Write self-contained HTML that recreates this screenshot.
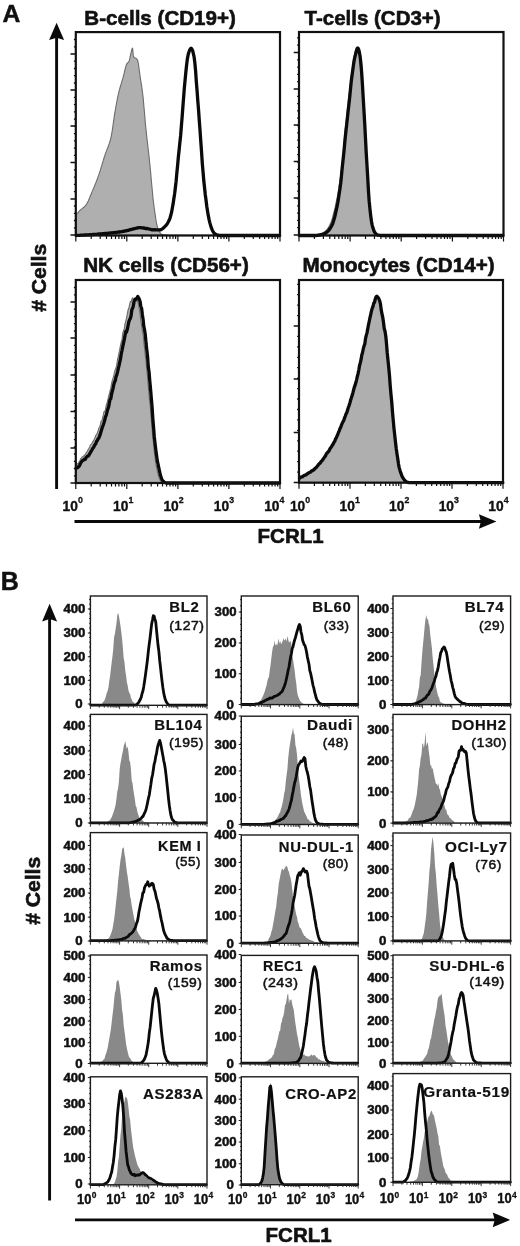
<!DOCTYPE html>
<html lang="en"><head><meta charset="utf-8"><title>FCRL1 expression on lymphocyte subsets and B-cell lines</title>
<style>html,body{margin:0;padding:0;background:#fff}svg{display:block}svg text{font-family:'Liberation Sans', Arial, Helvetica, sans-serif}</style>
</head><body>
<svg width="520" height="1246" viewBox="0 0 520 1246" role="img" aria-label="Flow cytometry histograms of FCRL1 expression">
<rect width="520" height="1246" fill="#fff"/>
<g id="partA">
<text x="2.6" y="22.3" font-size="24.7" font-weight="bold" text-anchor="start" fill="#111" stroke="#111" stroke-width="0.5" stroke-linejoin="round">A</text>
<text x="84.3" y="25" font-size="20.5" font-weight="bold" text-anchor="start" fill="#111" textLength="151.6" lengthAdjust="spacingAndGlyphs" stroke="#111" stroke-width="0.6" stroke-linejoin="round">B-cells (CD19+)</text>
<text x="304.6" y="25" font-size="20.5" font-weight="bold" text-anchor="start" fill="#111" textLength="136" lengthAdjust="spacingAndGlyphs" stroke="#111" stroke-width="0.6" stroke-linejoin="round">T-cells (CD3+)</text>
<text x="83.2" y="271.5" font-size="20.5" font-weight="bold" text-anchor="start" fill="#111" textLength="165.6" lengthAdjust="spacingAndGlyphs" stroke="#111" stroke-width="0.6" stroke-linejoin="round">NK cells (CD56+)</text>
<text x="302.6" y="271.5" font-size="20.5" font-weight="bold" text-anchor="start" fill="#111" textLength="192" lengthAdjust="spacingAndGlyphs" stroke="#111" stroke-width="0.6" stroke-linejoin="round">Monocytes (CD14+)</text>
<path d="M76.3 235.2L76.3 214.7L77 213.8L77.8 212.9L78.5 212.1L79.3 211.2L80 210.4L80.8 209.7L81.5 209.1L82.3 208.5L83 207.9L83.8 207.3L84.5 206.6L85.3 205.8L86 204.9L86.8 203.8L87.5 202.4L88.3 200.9L89 199.2L89.8 197.4L90.5 195.5L91.3 193.7L92 191.9L92.8 190.1L93.5 188.4L94.3 186.6L95 184.7L95.8 182.9L96.5 180.9L97.3 179L98 176.9L98.8 174.9L99.5 172.7L100.3 170.3L101 167.9L101.8 165.4L102.5 162.9L103.3 160.4L104 158L104.8 155.6L105.5 153.4L106.3 151.4L107 149.4L107.8 147.6L108.5 145.6L109.3 143.4L110 141.1L110.8 138.3L111.5 134.9L112.3 130.4L113 125.2L113.8 119.8L114.5 114.7L115.3 110.3L116 106L116.8 101.9L117.5 98L118.3 94.4L119 91.3L119.8 88.5L120.5 86L121.3 83.6L122 81.2L122.8 78.7L123.5 75.9L124.3 72.7L125 69.5L125.8 66.6L126.5 64.4L127.3 63.1L128.1 62.5L128.8 61.8L129.6 59.6L130.3 55.9L131.1 52.6L131.8 49.4L132.6 48.1L133.3 55.9L134.1 57.4L134.8 57.7L135.6 58L136.3 58.6L137.1 59.3L137.8 60.8L138.6 65L139.3 70.8L140.1 76.3L140.8 81L141.6 85.7L142.3 90.9L143.1 97.4L143.8 105.4L144.6 114L145.3 122.7L146.1 130.5L146.8 137.4L147.6 143.8L148.3 150.2L149.1 156.8L149.8 163.9L150.6 171.9L151.3 180.2L152.1 188.5L152.8 196.3L153.6 203.1L154.3 208.7L155.1 214.2L155.8 219.2L156.6 223.5L157.3 226.6L158.1 228.6L158.8 230.3L159.6 231.9L160.3 233.1L161.1 234L161.8 234.4L162.6 234.6L163.3 234.7L164.1 234.8L164.8 234.9L165.6 235L166.3 235.1L167.1 235.1L167.8 235.1L168.6 235.2L169.3 235.2L170.1 235.2L170.8 235.2L171.6 235.2L172.3 235.2L173.1 235.2L173.8 235.2L174.6 235.2L175.3 235.2L176.1 235.2L176.8 235.2L177.6 235.2L178.3 235.2L179.1 235.2L179.8 235.2L180.6 235.2L181.3 235.2L182.1 235.2L182.8 235.2L183.6 235.2L184.3 235.2L185.1 235.2L185.8 235.2L186.6 235.2L187.3 235.2L188.1 235.2L188.8 235.2L189.6 235.2L190.3 235.2L191.1 235.2L191.8 235.2L192.6 235.2L193.3 235.2L194.1 235.2L194.8 235.2L195.6 235.2L196.3 235.2L197.1 235.2L197.8 235.2L198.6 235.2L199.3 235.2L200.1 235.2L200.8 235.2L201.6 235.2L202.3 235.2L203.1 235.2L203.8 235.2L204.6 235.2L205.3 235.2L206.1 235.2L206.8 235.2L207.6 235.2L208.3 235.2L209.1 235.2L209.8 235.2L210.6 235.2L211.3 235.2L212.1 235.2L212.8 235.2L213.6 235.2L214.3 235.2L215.1 235.2L215.8 235.2L216.6 235.2L217.3 235.2L218.1 235.2L218.8 235.2L219.6 235.2L220.3 235.2L221.1 235.2L221.8 235.2L222.6 235.2L223.3 235.2L224.1 235.2L224.8 235.2L225.6 235.2L226.3 235.2L227.1 235.2L227.8 235.2L228.6 235.2L229.3 235.2L230.1 235.2L230.8 235.2L231.6 235.2L232.3 235.2L233.1 235.2L233.8 235.2L234.6 235.2L235.3 235.2L236.1 235.2L236.8 235.2L237.6 235.2L238.3 235.2L239.1 235.2L239.8 235.2L240.6 235.2L241.3 235.2L242.1 235.2L242.8 235.2L243.6 235.2L244.3 235.2L245.1 235.2L245.8 235.2L246.6 235.2L247.3 235.2L248.1 235.2L248.8 235.2L249.6 235.2L250.3 235.2L251.1 235.2L251.8 235.2L252.6 235.2L253.3 235.2L254.1 235.2L254.8 235.2L255.6 235.2L256.3 235.2L257.1 235.2L257.8 235.2L258.6 235.2L259.3 235.2L260.1 235.2L260.8 235.2L261.6 235.2L262.3 235.2L263.1 235.2L263.8 235.2L264.6 235.2L265.3 235.2L266.1 235.2L266.8 235.2L267.6 235.2L268.3 235.2L269.1 235.2L269.8 235.2L270.6 235.2L271.3 235.2L272.1 235.2L272.8 235.2L273.6 235.2L274.3 235.2L275.1 235.2L275.8 235.2L276.6 235.2L277.3 235.2L278.1 235.2L278.8 235.2L279.6 235.2L279.6 235.2Z" fill="#afafaf" stroke="#6c6c6c" stroke-width="1.1" stroke-linejoin="round"/>
<path d="M76.3 235.5L77 235.4L77.8 235.4L78.5 235.4L79.3 235.3L80 235.3L80.8 235.2L81.5 235.2L82.3 235.2L83 235.1L83.8 235.1L84.5 235L85.3 235L86 234.9L86.8 234.9L87.5 234.9L88.3 234.8L89 234.8L89.8 234.7L90.5 234.6L91.3 234.6L92 234.6L92.8 234.5L93.5 234.5L94.3 234.4L95 234.3L95.8 234.3L96.5 234.3L97.3 234.2L98 234.1L98.8 234L99.5 234L100.3 233.9L101 233.9L101.8 233.8L102.5 233.7L103.3 233.6L104 233.6L104.8 233.5L105.5 233.5L106.3 233.4L107 233.4L107.8 233.3L108.5 233.1L109.3 233.2L110 233L110.8 232.9L111.5 232.9L112.3 232.8L113 232.7L113.8 232.6L114.5 232.6L115.3 232.5L116 232.4L116.8 232.3L117.5 232.2L118.3 232.1L119 231.9L119.8 232L120.5 231.8L121.3 231.7L122 231.6L122.8 231.3L123.5 231.4L124.3 231.1L125 231L125.8 230.7L126.5 230.8L127.3 230.4L128.1 230.3L128.8 230.1L129.6 229.9L130.3 229.6L131.1 229.5L131.8 229.3L132.6 229.1L133.3 228.8L134.1 228.9L134.8 228.5L135.6 228.3L136.3 228.2L137.1 228L137.8 227.9L138.6 227.7L139.3 227.7L140.1 227.7L140.8 227.7L141.6 227.8L142.3 227.8L143.1 228L143.8 227.9L144.6 228.2L145.3 228.5L146.1 228.4L146.8 228.5L147.6 228.6L148.3 228.8L149.1 229L149.8 229.2L150.6 229.4L151.3 229.6L152.1 229.8L152.8 229.7L153.6 229.8L154.3 229.9L155.1 229.7L155.8 229.8L156.6 229.8L157.3 229.9L158.1 229.8L158.8 229.8L159.6 229.9L160.3 229.9L161.1 229.6L161.8 229.2L162.6 228.7L163.3 228.2L164.1 227.4L164.8 226.7L165.6 225.9L166.3 225L167.1 224L167.8 222.8L168.6 221.3L169.3 219.8L170.1 217.8L170.8 215.3L171.6 212.2L172.3 208.3L173.1 203.9L173.8 199.1L174.6 193.9L175.3 188.2L176.1 181.4L176.8 173.4L177.6 165.5L178.3 157.5L179.1 150.2L179.8 143.2L180.6 135.9L181.3 127.1L182.1 117.4L182.8 107.8L183.6 97.7L184.3 88.3L185.1 79.8L185.8 72.7L186.6 65L187.3 59.4L188.1 55L188.8 52.5L189.6 50.2L190.3 49L191.1 48.2L191.8 48.9L192.6 50.5L193.3 53.4L194.1 57L194.8 62.4L195.6 70.9L196.3 81.4L197.1 91.2L197.8 100.8L198.6 110.6L199.3 120.9L200.1 131.4L200.8 141.6L201.6 152.6L202.3 163.3L203.1 172.6L203.8 180.8L204.6 188.2L205.3 194.7L206.1 200.8L206.8 206.5L207.6 211.5L208.3 215.7L209.1 219.6L209.8 222.6L210.6 225.4L211.3 227.7L212.1 229.7L212.8 231.1L213.6 232.5L214.3 233.4L215.1 234L215.8 234.4L216.6 234.7L217.3 235L218.1 235.2L218.8 235.4L219.6 235.5L220.3 235.5L221.1 235.5L221.8 235.5L222.6 235.5L223.3 235.5L224.1 235.5L224.8 235.5L225.6 235.5L226.3 235.5L227.1 235.5L227.8 235.5L228.6 235.5L229.3 235.5L230.1 235.5L230.8 235.5L231.6 235.5L232.3 235.5L233.1 235.5L233.8 235.5L234.6 235.5L235.3 235.5L236.1 235.5L236.8 235.5L237.6 235.5L238.3 235.5L239.1 235.5L239.8 235.5L240.6 235.5L241.3 235.5L242.1 235.5L242.8 235.5L243.6 235.5L244.3 235.5L245.1 235.5L245.8 235.5L246.6 235.5L247.3 235.5L248.1 235.5L248.8 235.5L249.6 235.5L250.3 235.5L251.1 235.5L251.8 235.5L252.6 235.5L253.3 235.5L254.1 235.5L254.8 235.5L255.6 235.5L256.3 235.5L257.1 235.5L257.8 235.5L258.6 235.5L259.3 235.5L260.1 235.5L260.8 235.5L261.6 235.5L262.3 235.5L263.1 235.5L263.8 235.5L264.6 235.5L265.3 235.5L266.1 235.5L266.8 235.5L267.6 235.5L268.3 235.5L269.1 235.5L269.8 235.5L270.6 235.5L271.3 235.5L272.1 235.5L272.8 235.5L273.6 235.5L274.3 235.5L275.1 235.5L275.8 235.5L276.6 235.5L277.3 235.5L278.1 235.5L278.8 235.5L279.6 235.5" fill="none" stroke="#0a0a0a" stroke-width="3.3" stroke-linejoin="round" stroke-linecap="round"/>
<path d="M299.5 235.2L299.5 235.2L300.2 235.2L301 235.2L301.8 235.2L302.5 235.2L303.2 235.2L304 235.1L304.8 235.1L305.5 235.1L306.2 235.1L307 235.1L307.8 235.1L308.5 235.1L309.2 235.1L310 235.1L310.8 235.1L311.5 235L312.2 235L313 235L313.8 235L314.5 234.9L315.2 234.8L316 234.7L316.8 234.6L317.5 234.4L318.2 234.3L319 234.1L319.8 233.9L320.5 233.7L321.2 233.4L322 233.1L322.8 232.8L323.5 232.3L324.2 231.9L325 231.4L325.8 230.8L326.5 230.1L327.2 229.2L328 228.1L328.8 226.9L329.5 225.6L330.2 224.1L331 222.3L331.8 220.2L332.5 217.6L333.2 214.9L334 212L334.8 209L335.5 205.7L336.2 202.1L337 198.3L337.8 194.3L338.5 190L339.2 185.4L340 180.5L340.8 175.1L341.5 169.2L342.2 162.7L343 154.8L343.8 146.1L344.5 137.3L345.2 129.5L346 122.2L346.8 115.2L347.5 108.4L348.2 101.8L349 95.3L349.8 88.9L350.5 82.7L351.2 76.9L352 71.3L352.8 65.6L353.5 60.4L354.2 56.2L355 52.8L355.8 49.7L356.5 47.5L357.2 47.1L358 48.5L358.8 51L359.5 55.2L360.2 63.4L361 73.4L361.8 83.2L362.5 93.3L363.2 104.1L364 115L364.8 125.9L365.5 136.8L366.2 148.2L367 160L367.8 173.6L368.5 187.5L369.2 198.1L370 206.5L370.8 213.6L371.5 219L372.2 223.3L373 226.8L373.8 229.4L374.5 231L375.2 232.3L376 233.4L376.8 234.1L377.5 234.5L378.2 234.6L379 234.8L379.8 234.9L380.5 235L381.2 235L382 235.1L382.8 235.1L383.5 235.2L384.2 235.2L385 235.2L385.8 235.2L386.5 235.2L387.2 235.2L388 235.2L388.8 235.2L389.5 235.2L390.2 235.2L391 235.2L391.8 235.2L392.5 235.2L393.2 235.2L394 235.2L394.8 235.2L395.5 235.2L396.2 235.2L397 235.2L397.8 235.2L398.5 235.2L399.2 235.2L400 235.2L400.8 235.2L401.5 235.2L402.2 235.2L403 235.2L403.8 235.2L404.5 235.2L405.2 235.2L406 235.2L406.8 235.2L407.5 235.2L408.2 235.2L409 235.2L409.8 235.2L410.5 235.2L411.2 235.2L412 235.2L412.8 235.2L413.5 235.2L414.2 235.2L415 235.2L415.8 235.2L416.5 235.2L417.2 235.2L418 235.2L418.8 235.2L419.5 235.2L420.2 235.2L421 235.2L421.8 235.2L422.5 235.2L423.2 235.2L424 235.2L424.8 235.2L425.5 235.2L426.2 235.2L427 235.2L427.8 235.2L428.5 235.2L429.2 235.2L430 235.2L430.8 235.2L431.5 235.2L432.2 235.2L433 235.2L433.8 235.2L434.5 235.2L435.2 235.2L436 235.2L436.8 235.2L437.5 235.2L438.2 235.2L439 235.2L439.8 235.2L440.5 235.2L441.2 235.2L442 235.2L442.8 235.2L443.5 235.2L444.2 235.2L445 235.2L445.8 235.2L446.5 235.2L447.2 235.2L448 235.2L448.8 235.2L449.5 235.2L450.2 235.2L451 235.2L451.8 235.2L452.5 235.2L453.2 235.2L454 235.2L454.8 235.2L455.5 235.2L456.2 235.2L457 235.2L457.8 235.2L458.5 235.2L459.2 235.2L460 235.2L460.8 235.2L461.5 235.2L462.2 235.2L463 235.2L463.8 235.2L464.5 235.2L465.2 235.2L466 235.2L466.8 235.2L467.5 235.2L468.2 235.2L469 235.2L469.8 235.2L470.5 235.2L471.2 235.2L472 235.2L472.8 235.2L473.5 235.2L474.2 235.2L475 235.2L475.8 235.2L476.5 235.2L477.2 235.2L478 235.2L478.8 235.2L479.5 235.2L480.2 235.2L481 235.2L481.8 235.2L482.5 235.2L483.2 235.2L484 235.2L484.8 235.2L485.5 235.2L486.2 235.2L487 235.2L487.8 235.2L488.5 235.2L489.2 235.2L490 235.2L490.8 235.2L491.5 235.2L492.2 235.2L493 235.2L493.8 235.2L494.5 235.2L495.2 235.2L496 235.2L496.8 235.2L497.5 235.2L498.2 235.2L499 235.2L499.8 235.2L500.5 235.2L501.2 235.2L502 235.2L502.8 235.2L502.8 235.2Z" fill="#afafaf" stroke="#6c6c6c" stroke-width="1.1" stroke-linejoin="round"/>
<path d="M299.5 235.5L300.2 235.5L301 235.5L301.8 235.5L302.5 235.5L303.2 235.5L304 235.5L304.8 235.5L305.5 235.5L306.2 235.5L307 235.5L307.8 235.5L308.5 235.5L309.2 235.5L310 235.5L310.8 235.5L311.5 235.5L312.2 235.5L313 235.5L313.8 235.5L314.5 235.5L315.2 235.5L316 235.5L316.8 235.4L317.5 235.3L318.2 235.2L319 235.1L319.8 235L320.5 234.9L321.2 234.7L322 234.6L322.8 234.3L323.5 234L324.2 233.7L325 233.3L325.8 232.8L326.5 232.3L327.2 231.7L328 231.1L328.8 230.3L329.5 229.3L330.2 228.3L331 227L331.8 225.6L332.5 224.1L333.2 222.1L334 219.6L334.8 216.7L335.5 213.7L336.2 210.4L337 206.8L337.8 202.8L338.5 198.5L339.2 193.7L340 188.5L340.8 182.4L341.5 175.4L342.2 167.9L343 160.5L343.8 153.1L344.5 145.4L345.2 137.8L346 130.5L346.8 123.6L347.5 117L348.2 110.4L349 103.6L349.8 96.3L350.5 88.9L351.2 81.8L352 75.5L352.8 69.9L353.5 64.7L354.2 60.1L355 56.5L355.8 53.4L356.5 50.5L357.2 48.5L358 48.1L358.8 49.8L359.5 52.9L360.2 57.1L361 64.5L361.8 74.6L362.5 85.5L363.2 97.7L364 111.4L364.8 125L365.5 138.6L366.2 152.3L367 165.5L367.8 178.9L368.5 191.6L369.2 201.4L370 209.7L370.8 216.5L371.5 221.5L372.2 225.1L373 228.1L373.8 230.5L374.5 232L375.2 233L376 233.9L376.8 234.5L377.5 235L378.2 235.1L379 235.2L379.8 235.3L380.5 235.4L381.2 235.5L382 235.5L382.8 235.5L383.5 235.5L384.2 235.5L385 235.5L385.8 235.5L386.5 235.5L387.2 235.5L388 235.5L388.8 235.5L389.5 235.5L390.2 235.5L391 235.5L391.8 235.5L392.5 235.5L393.2 235.5L394 235.5L394.8 235.5L395.5 235.5L396.2 235.5L397 235.5L397.8 235.5L398.5 235.5L399.2 235.5L400 235.5L400.8 235.5L401.5 235.5L402.2 235.5L403 235.5L403.8 235.5L404.5 235.5L405.2 235.5L406 235.5L406.8 235.5L407.5 235.5L408.2 235.5L409 235.5L409.8 235.5L410.5 235.5L411.2 235.5L412 235.5L412.8 235.5L413.5 235.5L414.2 235.5L415 235.5L415.8 235.5L416.5 235.5L417.2 235.5L418 235.5L418.8 235.5L419.5 235.5L420.2 235.5L421 235.5L421.8 235.5L422.5 235.5L423.2 235.5L424 235.5L424.8 235.5L425.5 235.5L426.2 235.5L427 235.5L427.8 235.5L428.5 235.5L429.2 235.5L430 235.5L430.8 235.5L431.5 235.5L432.2 235.5L433 235.5L433.8 235.5L434.5 235.5L435.2 235.5L436 235.5L436.8 235.5L437.5 235.5L438.2 235.5L439 235.5L439.8 235.5L440.5 235.5L441.2 235.5L442 235.5L442.8 235.5L443.5 235.5L444.2 235.5L445 235.5L445.8 235.5L446.5 235.5L447.2 235.5L448 235.5L448.8 235.5L449.5 235.5L450.2 235.5L451 235.5L451.8 235.5L452.5 235.5L453.2 235.5L454 235.5L454.8 235.5L455.5 235.5L456.2 235.5L457 235.5L457.8 235.5L458.5 235.5L459.2 235.5L460 235.5L460.8 235.5L461.5 235.5L462.2 235.5L463 235.5L463.8 235.5L464.5 235.5L465.2 235.5L466 235.5L466.8 235.5L467.5 235.5L468.2 235.5L469 235.5L469.8 235.5L470.5 235.5L471.2 235.5L472 235.5L472.8 235.5L473.5 235.5L474.2 235.5L475 235.5L475.8 235.5L476.5 235.5L477.2 235.5L478 235.5L478.8 235.5L479.5 235.5L480.2 235.5L481 235.5L481.8 235.5L482.5 235.5L483.2 235.5L484 235.5L484.8 235.5L485.5 235.5L486.2 235.5L487 235.5L487.8 235.5L488.5 235.5L489.2 235.5L490 235.5L490.8 235.5L491.5 235.5L492.2 235.5L493 235.5L493.8 235.5L494.5 235.5L495.2 235.5L496 235.5L496.8 235.5L497.5 235.5L498.2 235.5L499 235.5L499.8 235.5L500.5 235.5L501.2 235.5L502 235.5L502.8 235.5" fill="none" stroke="#0a0a0a" stroke-width="3.3" stroke-linejoin="round" stroke-linecap="round"/>
<path d="M76.3 482.7L76.3 462.9L77 464.2L77.8 463.6L78.5 463.5L79.3 461.4L80 460.6L80.8 458.4L81.5 457.9L82.3 456.8L83 456.8L83.8 455.7L84.5 455.2L85.3 454.4L86 453L86.8 452.4L87.5 450.8L88.3 449.2L89 448.2L89.8 447.2L90.5 444.7L91.3 444.3L92 443.3L92.8 441.6L93.5 440.6L94.3 439.2L95 437.8L95.8 435.2L96.5 434.7L97.3 433L98 431L98.8 428.3L99.5 427.3L100.3 425.3L101 421.3L101.8 421.2L102.5 418.2L103.3 415.2L104 411.7L104.8 411.1L105.5 409.4L106.3 404.9L107 403L107.8 400.1L108.5 396.8L109.3 394L110 391L110.8 388.3L111.5 383.8L112.3 380.3L113 378.2L113.8 375.6L114.5 372L115.3 369.7L116 368L116.8 364.3L117.5 359.5L118.3 356.6L119 353L119.8 348.9L120.5 345.4L121.3 341.8L122 339.9L122.8 333.1L123.5 331L124.3 328.7L125 323.7L125.8 321.1L126.5 318.2L127.3 314.1L128.1 309.7L128.8 308.3L129.6 304.6L130.3 301.5L131.1 301.9L131.8 299.5L132.6 297.7L133.3 300.3L134.1 299.1L134.8 297.8L135.6 298.2L136.3 299L137.1 301.8L137.8 299.5L138.6 305.1L139.3 309.5L140.1 314.1L140.8 320.8L141.6 325.6L142.3 330.8L143.1 333.8L143.8 342.5L144.6 348.6L145.3 355.6L146.1 362.2L146.8 369.6L147.6 377.5L148.3 386.6L149.1 396L149.8 402.2L150.6 411L151.3 419.7L152.1 429.2L152.8 437.3L153.6 444.2L154.3 452L155.1 458.1L155.8 463.5L156.6 467.4L157.3 470.8L158.1 474.5L158.8 477L159.6 479.1L160.3 480.7L161.1 482L161.8 482.3L162.6 482.4L163.3 482.5L164.1 482.5L164.8 482.6L165.6 482.6L166.3 482.6L167.1 482.7L167.8 482.7L168.6 482.7L169.3 482.7L170.1 482.7L170.8 482.7L171.6 482.7L172.3 482.7L173.1 482.7L173.8 482.7L174.6 482.7L175.3 482.7L176.1 482.7L176.8 482.7L177.6 482.7L178.3 482.7L179.1 482.7L179.8 482.7L180.6 482.7L181.3 482.7L182.1 482.7L182.8 482.7L183.6 482.7L184.3 482.7L185.1 482.7L185.8 482.7L186.6 482.7L187.3 482.7L188.1 482.7L188.8 482.7L189.6 482.7L190.3 482.7L191.1 482.7L191.8 482.7L192.6 482.7L193.3 482.7L194.1 482.7L194.8 482.7L195.6 482.7L196.3 482.7L197.1 482.7L197.8 482.7L198.6 482.7L199.3 482.7L200.1 482.7L200.8 482.7L201.6 482.7L202.3 482.7L203.1 482.7L203.8 482.7L204.6 482.7L205.3 482.7L206.1 482.7L206.8 482.7L207.6 482.7L208.3 482.7L209.1 482.7L209.8 482.7L210.6 482.7L211.3 482.7L212.1 482.7L212.8 482.7L213.6 482.7L214.3 482.7L215.1 482.7L215.8 482.7L216.6 482.7L217.3 482.7L218.1 482.7L218.8 482.7L219.6 482.7L220.3 482.7L221.1 482.7L221.8 482.7L222.6 482.7L223.3 482.7L224.1 482.7L224.8 482.7L225.6 482.7L226.3 482.7L227.1 482.7L227.8 482.7L228.6 482.7L229.3 482.7L230.1 482.7L230.8 482.7L231.6 482.7L232.3 482.7L233.1 482.7L233.8 482.7L234.6 482.7L235.3 482.7L236.1 482.7L236.8 482.7L237.6 482.7L238.3 482.7L239.1 482.7L239.8 482.7L240.6 482.7L241.3 482.7L242.1 482.7L242.8 482.7L243.6 482.7L244.3 482.7L245.1 482.7L245.8 482.7L246.6 482.7L247.3 482.7L248.1 482.7L248.8 482.7L249.6 482.7L250.3 482.7L251.1 482.7L251.8 482.7L252.6 482.7L253.3 482.7L254.1 482.7L254.8 482.7L255.6 482.7L256.3 482.7L257.1 482.7L257.8 482.7L258.6 482.7L259.3 482.7L260.1 482.7L260.8 482.7L261.6 482.7L262.3 482.7L263.1 482.7L263.8 482.7L264.6 482.7L265.3 482.7L266.1 482.7L266.8 482.7L267.6 482.7L268.3 482.7L269.1 482.7L269.8 482.7L270.6 482.7L271.3 482.7L272.1 482.7L272.8 482.7L273.6 482.7L274.3 482.7L275.1 482.7L275.8 482.7L276.6 482.7L277.3 482.7L278.1 482.7L278.8 482.7L279.6 482.7L279.6 482.7Z" fill="#afafaf" stroke="#6c6c6c" stroke-width="1.1" stroke-linejoin="round"/>
<path d="M76.3 468.4L77 467.7L77.8 467.4L78.5 466.8L79.3 466.1L80 464.7L80.8 462.9L81.5 461.9L82.3 460.8L83 460.4L83.8 459.7L84.5 459.2L85.3 459.3L86 457.6L86.8 456.9L87.5 456.1L88.3 456L89 455L89.8 453.6L90.5 452.4L91.3 450.9L92 449.8L92.8 448.3L93.5 447.5L94.3 445.9L95 444.6L95.8 443.8L96.5 441.5L97.3 440.7L98 438.9L98.8 438.2L99.5 436.4L100.3 434.1L101 431.7L101.8 429L102.5 426.8L103.3 424.8L104 422.7L104.8 420.1L105.5 416.6L106.3 415.2L107 412L107.8 409.1L108.5 407.4L109.3 403.4L110 399.5L110.8 398.6L111.5 394.5L112.3 391.2L113 388.6L113.8 384.6L114.5 382.1L115.3 380.6L116 376.8L116.8 374.8L117.5 372.1L118.3 368.5L119 365.6L119.8 361.8L120.5 358.9L121.3 353.5L122 350.5L122.8 346.4L123.5 343.2L124.3 339.3L125 335.8L125.8 331.5L126.5 332.1L127.3 329.3L128.1 325.5L128.8 321.9L129.6 319.7L130.3 318.6L131.1 315.8L131.8 309.9L132.6 308.2L133.3 305.9L134.1 301.5L134.8 299.7L135.6 299.6L136.3 298.7L137.1 297.9L137.8 296.5L138.6 297.8L139.3 299.3L140.1 301.5L140.8 306.3L141.6 308.3L142.3 314.2L143.1 319.5L143.8 326.4L144.6 330.2L145.3 334.7L146.1 343.8L146.8 349.9L147.6 356.9L148.3 366.8L149.1 372.4L149.8 381.1L150.6 389.7L151.3 397.9L152.1 407.3L152.8 418.2L153.6 427.6L154.3 436.7L155.1 443.9L155.8 449.8L156.6 455.8L157.3 460.9L158.1 464.4L158.8 467.8L159.6 471.5L160.3 474.8L161.1 477.2L161.8 479.3L162.6 480.6L163.3 481.2L164.1 482.1L164.8 482.4L165.6 482.8L166.3 482.9L167.1 483L167.8 483L168.6 483L169.3 483L170.1 483L170.8 483L171.6 483L172.3 483L173.1 483L173.8 483L174.6 483L175.3 483L176.1 483L176.8 483L177.6 483L178.3 483L179.1 483L179.8 483L180.6 483L181.3 483L182.1 483L182.8 483L183.6 483L184.3 483L185.1 483L185.8 483L186.6 483L187.3 483L188.1 483L188.8 483L189.6 483L190.3 483L191.1 483L191.8 483L192.6 483L193.3 483L194.1 483L194.8 483L195.6 483L196.3 483L197.1 483L197.8 483L198.6 483L199.3 483L200.1 483L200.8 483L201.6 483L202.3 483L203.1 483L203.8 483L204.6 483L205.3 483L206.1 483L206.8 483L207.6 483L208.3 483L209.1 483L209.8 483L210.6 483L211.3 483L212.1 483L212.8 483L213.6 483L214.3 483L215.1 483L215.8 483L216.6 483L217.3 483L218.1 483L218.8 483L219.6 483L220.3 483L221.1 483L221.8 483L222.6 483L223.3 483L224.1 483L224.8 483L225.6 483L226.3 483L227.1 483L227.8 483L228.6 483L229.3 483L230.1 483L230.8 483L231.6 483L232.3 483L233.1 483L233.8 483L234.6 483L235.3 483L236.1 483L236.8 483L237.6 483L238.3 483L239.1 483L239.8 483L240.6 483L241.3 483L242.1 483L242.8 483L243.6 483L244.3 483L245.1 483L245.8 483L246.6 483L247.3 483L248.1 483L248.8 483L249.6 483L250.3 483L251.1 483L251.8 483L252.6 483L253.3 483L254.1 483L254.8 483L255.6 483L256.3 483L257.1 483L257.8 483L258.6 483L259.3 483L260.1 483L260.8 483L261.6 483L262.3 483L263.1 483L263.8 483L264.6 483L265.3 483L266.1 483L266.8 483L267.6 483L268.3 483L269.1 483L269.8 483L270.6 483L271.3 483L272.1 483L272.8 483L273.6 483L274.3 483L275.1 483L275.8 483L276.6 483L277.3 483L278.1 483L278.8 483L279.6 483" fill="none" stroke="#0a0a0a" stroke-width="3.3" stroke-linejoin="round" stroke-linecap="round"/>
<path d="M299.5 482.4L299.5 476.9L300.2 476.5L301 476L301.8 475.7L302.5 475.4L303.2 475.1L304 474.7L304.8 474.4L305.5 474.2L306.2 473.6L307 473L307.8 472.6L308.5 472.2L309.2 471.8L310 471.2L310.8 470.7L311.5 470L312.2 469.4L313 469.2L313.8 468.2L314.5 467.8L315.2 467.1L316 466.4L316.8 465.3L317.5 464.6L318.2 463.8L319 463.3L319.8 462.6L320.5 461.5L321.2 460.4L322 459.5L322.8 458.2L323.5 457.4L324.2 455.7L325 454.9L325.8 453.4L326.5 452.7L327.2 451.7L328 450.7L328.8 449.1L329.5 447.9L330.2 447L331 445.8L331.8 444.8L332.5 443.6L333.2 442.3L334 441.5L334.8 439.8L335.5 438L336.2 436.4L337 434.4L337.8 432.7L338.5 431L339.2 429.3L340 428.2L340.8 425.6L341.5 424.1L342.2 421.9L343 420.4L343.8 418.7L344.5 417L345.2 415.1L346 413.8L346.8 411.7L347.5 408.5L348.2 406.6L349 404.5L349.8 401.9L350.5 399.3L351.2 395.1L352 393.8L352.8 391.6L353.5 389.5L354.2 387.9L355 384.3L355.8 381.1L356.5 378.6L357.2 375.8L358 372.8L358.8 369.5L359.5 365.1L360.2 361.7L361 358.6L361.8 353.8L362.5 352L363.2 348.6L364 346.4L364.8 340.9L365.5 338.7L366.2 335.2L367 331.4L367.8 328L368.5 323.8L369.2 319.3L370 316.5L370.8 312.7L371.5 309.2L372.2 306.6L373 303.6L373.8 301.5L374.5 298.9L375.2 297.6L376 295.7L376.8 296.3L377.5 296.1L378.2 297.3L379 298.1L379.8 301L380.5 304.2L381.2 307.6L382 314.5L382.8 318.3L383.5 323.3L384.2 329.5L385 335.2L385.8 342L386.5 348.8L387.2 357.3L388 363.7L388.8 373L389.5 381.7L390.2 390.2L391 399.4L391.8 408.7L392.5 417.2L393.2 425.5L394 432.8L394.8 439.5L395.5 446.8L396.2 452.2L397 457.1L397.8 461.7L398.5 466L399.2 469L400 471.3L400.8 473.6L401.5 475.6L402.2 477.1L403 478.4L403.8 479.4L404.5 480.3L405.2 481.1L406 481.5L406.8 481.8L407.5 482L408.2 482.2L409 482.3L409.8 482.4L410.5 482.4L411.2 482.4L412 482.4L412.8 482.4L413.5 482.4L414.2 482.4L415 482.4L415.8 482.4L416.5 482.4L417.2 482.4L418 482.4L418.8 482.4L419.5 482.4L420.2 482.4L421 482.4L421.8 482.4L422.5 482.4L423.2 482.4L424 482.4L424.8 482.4L425.5 482.4L426.2 482.4L427 482.4L427.8 482.4L428.5 482.4L429.2 482.4L430 482.4L430.8 482.4L431.5 482.4L432.2 482.4L433 482.4L433.8 482.4L434.5 482.4L435.2 482.4L436 482.4L436.8 482.4L437.5 482.4L438.2 482.4L439 482.4L439.8 482.4L440.5 482.4L441.2 482.4L442 482.4L442.8 482.4L443.5 482.4L444.2 482.4L445 482.4L445.8 482.4L446.5 482.4L447.2 482.4L448 482.4L448.8 482.4L449.5 482.4L450.2 482.4L451 482.4L451.8 482.4L452.5 482.4L453.2 482.4L454 482.4L454.8 482.4L455.5 482.4L456.2 482.4L457 482.4L457.8 482.4L458.5 482.4L459.2 482.4L460 482.4L460.8 482.4L461.5 482.4L462.2 482.4L463 482.4L463.8 482.4L464.5 482.4L465.2 482.4L466 482.4L466.8 482.4L467.5 482.4L468.2 482.4L469 482.4L469.8 482.4L470.5 482.4L471.2 482.4L472 482.4L472.8 482.4L473.5 482.4L474.2 482.4L475 482.4L475.8 482.4L476.5 482.4L477.2 482.4L478 482.4L478.8 482.4L479.5 482.4L480.2 482.4L481 482.4L481.8 482.4L482.5 482.4L483.2 482.4L484 482.4L484.8 482.4L485.5 482.4L486.2 482.4L487 482.4L487.8 482.4L488.5 482.4L489.2 482.4L490 482.4L490.8 482.4L491.5 482.4L492.2 482.4L493 482.4L493.8 482.4L494.5 482.4L495.2 482.4L496 482.4L496.8 482.4L497.5 482.4L498.2 482.4L499 482.4L499.8 482.4L500.5 482.4L501.2 482.4L502 482.4L502.8 482.4L502.8 482.4Z" fill="#afafaf" stroke="#6c6c6c" stroke-width="1.1" stroke-linejoin="round"/>
<path d="M299.5 478.3L300.2 477.7L301 477.2L301.8 477L302.5 476.7L303.2 476.1L304 475.6L304.8 475.1L305.5 475.1L306.2 474.7L307 474L307.8 473.6L308.5 473L309.2 472.6L310 472.3L310.8 471.9L311.5 470.9L312.2 470.9L313 470.4L313.8 469.9L314.5 469.1L315.2 468.3L316 467.7L316.8 466.8L317.5 465.9L318.2 465L319 464L319.8 463.3L320.5 462.8L321.2 461.3L322 460.8L322.8 459.5L323.5 458.8L324.2 457.5L325 456.6L325.8 455.3L326.5 453.4L327.2 453.1L328 451.8L328.8 451.3L329.5 449.9L330.2 448.4L331 447.5L331.8 446.1L332.5 445L333.2 444L334 442.2L334.8 441.2L335.5 438.9L336.2 438.1L337 436L337.8 434.4L338.5 432.3L339.2 431L340 428.6L340.8 427.1L341.5 424.9L342.2 423.3L343 421.8L343.8 420.4L344.5 418L345.2 416.3L346 413.9L346.8 412.7L347.5 410.3L348.2 408L349 405.7L349.8 403.2L350.5 400.6L351.2 398.3L352 396L352.8 393.2L353.5 390.4L354.2 387.6L355 385.4L355.8 382.8L356.5 380.1L357.2 377L358 373.9L358.8 370L359.5 365.7L360.2 363.2L361 359.9L361.8 355.1L362.5 352.8L363.2 349.2L364 346.1L364.8 344L365.5 338.7L366.2 335.6L367 332.9L367.8 328.5L368.5 324.8L369.2 321.5L370 317.6L370.8 314.2L371.5 310.9L372.2 308.4L373 306.3L373.8 303.1L374.5 302.3L375.2 299.3L376 296.9L376.8 296.2L377.5 297L378.2 297.7L379 299L379.8 301.2L380.5 304.1L381.2 309.9L382 313.8L382.8 317.6L383.5 322.4L384.2 328.3L385 331.3L385.8 336.2L386.5 343.7L387.2 352.5L388 360.3L388.8 368.1L389.5 375.6L390.2 385.5L391 394.6L391.8 402.7L392.5 412.1L393.2 419.9L394 428.7L394.8 435.9L395.5 442.3L396.2 448.3L397 453.9L397.8 459.1L398.5 464.1L399.2 467.6L400 470.4L400.8 472.9L401.5 474.8L402.2 476.7L403 477.9L403.8 479.1L404.5 480.1L405.2 480.9L406 481.5L406.8 481.9L407.5 482.2L408.2 482.4L409 482.6L409.8 482.7L410.5 482.7L411.2 482.7L412 482.7L412.8 482.7L413.5 482.7L414.2 482.7L415 482.7L415.8 482.7L416.5 482.7L417.2 482.7L418 482.7L418.8 482.7L419.5 482.7L420.2 482.7L421 482.7L421.8 482.7L422.5 482.7L423.2 482.7L424 482.7L424.8 482.7L425.5 482.7L426.2 482.7L427 482.7L427.8 482.7L428.5 482.7L429.2 482.7L430 482.7L430.8 482.7L431.5 482.7L432.2 482.7L433 482.7L433.8 482.7L434.5 482.7L435.2 482.7L436 482.7L436.8 482.7L437.5 482.7L438.2 482.7L439 482.7L439.8 482.7L440.5 482.7L441.2 482.7L442 482.7L442.8 482.7L443.5 482.7L444.2 482.7L445 482.7L445.8 482.7L446.5 482.7L447.2 482.7L448 482.7L448.8 482.7L449.5 482.7L450.2 482.7L451 482.7L451.8 482.7L452.5 482.7L453.2 482.7L454 482.7L454.8 482.7L455.5 482.7L456.2 482.7L457 482.7L457.8 482.7L458.5 482.7L459.2 482.7L460 482.7L460.8 482.7L461.5 482.7L462.2 482.7L463 482.7L463.8 482.7L464.5 482.7L465.2 482.7L466 482.7L466.8 482.7L467.5 482.7L468.2 482.7L469 482.7L469.8 482.7L470.5 482.7L471.2 482.7L472 482.7L472.8 482.7L473.5 482.7L474.2 482.7L475 482.7L475.8 482.7L476.5 482.7L477.2 482.7L478 482.7L478.8 482.7L479.5 482.7L480.2 482.7L481 482.7L481.8 482.7L482.5 482.7L483.2 482.7L484 482.7L484.8 482.7L485.5 482.7L486.2 482.7L487 482.7L487.8 482.7L488.5 482.7L489.2 482.7L490 482.7L490.8 482.7L491.5 482.7L492.2 482.7L493 482.7L493.8 482.7L494.5 482.7L495.2 482.7L496 482.7L496.8 482.7L497.5 482.7L498.2 482.7L499 482.7L499.8 482.7L500.5 482.7L501.2 482.7L502 482.7L502.8 482.7" fill="none" stroke="#0a0a0a" stroke-width="3.3" stroke-linejoin="round" stroke-linecap="round"/>
<rect x="75.8" y="32.1" width="204.2" height="203.4" fill="none" stroke="#111" stroke-width="2.2"/>
<path d="M75.8 235.5v6M91.2 235.5v3.4M100.2 235.5v3.4M106.5 235.5v3.4M111.5 235.5v3.4M115.5 235.5v3.4M118.9 235.5v3.4M121.9 235.5v3.4M124.5 235.5v3.4M126.8 235.5v6M142.2 235.5v3.4M151.2 235.5v3.4M157.6 235.5v3.4M162.5 235.5v3.4M166.6 235.5v3.4M170 235.5v3.4M173 235.5v3.4M175.6 235.5v3.4M177.9 235.5v6M193.3 235.5v3.4M202.3 235.5v3.4M208.6 235.5v3.4M213.6 235.5v3.4M217.6 235.5v3.4M221 235.5v3.4M224 235.5v3.4M226.6 235.5v3.4M228.9 235.5v6M244.3 235.5v3.4M253.3 235.5v3.4M259.7 235.5v3.4M264.6 235.5v3.4M268.7 235.5v3.4M272.1 235.5v3.4M275.1 235.5v3.4M277.7 235.5v3.4M280 235.5v6" stroke="#111" stroke-width="1.2" fill="none"/>
<rect x="299" y="32" width="204.5" height="203.5" fill="none" stroke="#111" stroke-width="2.2"/>
<path d="M299 235.5v6M314.4 235.5v3.4M323.4 235.5v3.4M329.8 235.5v3.4M334.7 235.5v3.4M338.8 235.5v3.4M342.2 235.5v3.4M345.2 235.5v3.4M347.8 235.5v3.4M350.1 235.5v6M365.5 235.5v3.4M374.5 235.5v3.4M380.9 235.5v3.4M385.9 235.5v3.4M389.9 235.5v3.4M393.3 235.5v3.4M396.3 235.5v3.4M398.9 235.5v3.4M401.2 235.5v6M416.6 235.5v3.4M425.6 235.5v3.4M432 235.5v3.4M437 235.5v3.4M441 235.5v3.4M444.5 235.5v3.4M447.4 235.5v3.4M450 235.5v3.4M452.4 235.5v6M467.8 235.5v3.4M476.8 235.5v3.4M483.2 235.5v3.4M488.1 235.5v3.4M492.2 235.5v3.4M495.6 235.5v3.4M498.5 235.5v3.4M501.2 235.5v3.4M503.5 235.5v6" stroke="#111" stroke-width="1.2" fill="none"/>
<rect x="75.8" y="280" width="204.2" height="203" fill="none" stroke="#111" stroke-width="2.2"/>
<path d="M75.8 483v6M91.2 483v3.4M100.2 483v3.4M106.5 483v3.4M111.5 483v3.4M115.5 483v3.4M118.9 483v3.4M121.9 483v3.4M124.5 483v3.4M126.8 483v6M142.2 483v3.4M151.2 483v3.4M157.6 483v3.4M162.5 483v3.4M166.6 483v3.4M170 483v3.4M173 483v3.4M175.6 483v3.4M177.9 483v6M193.3 483v3.4M202.3 483v3.4M208.6 483v3.4M213.6 483v3.4M217.6 483v3.4M221 483v3.4M224 483v3.4M226.6 483v3.4M228.9 483v6M244.3 483v3.4M253.3 483v3.4M259.7 483v3.4M264.6 483v3.4M268.7 483v3.4M272.1 483v3.4M275.1 483v3.4M277.7 483v3.4M280 483v6" stroke="#111" stroke-width="1.2" fill="none"/>
<rect x="299" y="280" width="204" height="202.7" fill="none" stroke="#111" stroke-width="2.2"/>
<path d="M299 482.7v6M314.4 482.7v3.4M323.3 482.7v3.4M329.7 482.7v3.4M334.6 482.7v3.4M338.7 482.7v3.4M342.1 482.7v3.4M345.1 482.7v3.4M347.7 482.7v3.4M350 482.7v6M365.4 482.7v3.4M374.3 482.7v3.4M380.7 482.7v3.4M385.6 482.7v3.4M389.7 482.7v3.4M393.1 482.7v3.4M396.1 482.7v3.4M398.7 482.7v3.4M401 482.7v6M416.4 482.7v3.4M425.3 482.7v3.4M431.7 482.7v3.4M436.6 482.7v3.4M440.7 482.7v3.4M444.1 482.7v3.4M447.1 482.7v3.4M449.7 482.7v3.4M452 482.7v6M467.4 482.7v3.4M476.3 482.7v3.4M482.7 482.7v3.4M487.6 482.7v3.4M491.7 482.7v3.4M495.1 482.7v3.4M498.1 482.7v3.4M500.7 482.7v3.4M503 482.7v6" stroke="#111" stroke-width="1.2" fill="none"/>
<path d="M75.8 54h-5.3M75.8 90h-5.3M75.8 126h-5.3M75.8 162.5h-5.3M75.8 199h-5.3M75.8 235h-5.3M75.8 235h-1.9M75.8 227.8h-1.9M75.8 220.5h-1.9M75.8 213.3h-1.9M75.8 206h-1.9M75.8 198.8h-1.9M75.8 191.6h-1.9M75.8 184.3h-1.9M75.8 177.1h-1.9M75.8 169.8h-1.9M75.8 162.6h-1.9M75.8 155.4h-1.9M75.8 148.1h-1.9M75.8 140.9h-1.9M75.8 133.6h-1.9M75.8 126.4h-1.9M75.8 119.2h-1.9M75.8 111.9h-1.9M75.8 104.7h-1.9M75.8 97.4h-1.9M75.8 90.2h-1.9M75.8 83h-1.9M75.8 75.7h-1.9M75.8 68.5h-1.9M75.8 61.2h-1.9M75.8 54h-1.9M75.8 46.8h-1.9M75.8 39.5h-1.9" stroke="#111" stroke-width="1.3" fill="none"/>
<path d="M299 52.5h-5.3M299 89h-5.3M299 125h-5.3M299 161.5h-5.3M299 198h-5.3M299 235h-5.3M299 235h-1.9M299 227.7h-1.9M299 220.4h-1.9M299 213.1h-1.9M299 205.8h-1.9M299 198.5h-1.9M299 191.2h-1.9M299 183.9h-1.9M299 176.6h-1.9M299 169.3h-1.9M299 162h-1.9M299 154.7h-1.9M299 147.4h-1.9M299 140.1h-1.9M299 132.8h-1.9M299 125.5h-1.9M299 118.2h-1.9M299 110.9h-1.9M299 103.6h-1.9M299 96.3h-1.9M299 89h-1.9M299 81.7h-1.9M299 74.4h-1.9M299 67.1h-1.9M299 59.8h-1.9M299 52.5h-1.9M299 45.2h-1.9M299 37.9h-1.9" stroke="#111" stroke-width="1.3" fill="none"/>
<path d="M75.8 302h-5.3M75.8 338h-5.3M75.8 375h-5.3M75.8 411.5h-5.3M75.8 448h-5.3M75.8 483h-5.3M75.8 483h-1.9M75.8 475.8h-1.9M75.8 468.5h-1.9M75.8 461.3h-1.9M75.8 454h-1.9M75.8 446.8h-1.9M75.8 439.6h-1.9M75.8 432.3h-1.9M75.8 425.1h-1.9M75.8 417.8h-1.9M75.8 410.6h-1.9M75.8 403.4h-1.9M75.8 396.1h-1.9M75.8 388.9h-1.9M75.8 381.6h-1.9M75.8 374.4h-1.9M75.8 367.2h-1.9M75.8 359.9h-1.9M75.8 352.7h-1.9M75.8 345.4h-1.9M75.8 338.2h-1.9M75.8 331h-1.9M75.8 323.7h-1.9M75.8 316.5h-1.9M75.8 309.2h-1.9M75.8 302h-1.9M75.8 294.8h-1.9M75.8 287.5h-1.9" stroke="#111" stroke-width="1.3" fill="none"/>
<path d="M299 326h-5.3M299 379h-5.3M299 432.5h-5.3M299 482.5h-5.3M299 482.5h-1.9M299 472.1h-1.9M299 461.6h-1.9M299 451.2h-1.9M299 440.8h-1.9M299 430.3h-1.9M299 419.9h-1.9M299 409.5h-1.9M299 399h-1.9M299 388.6h-1.9M299 378.2h-1.9M299 367.7h-1.9M299 357.3h-1.9M299 346.9h-1.9M299 336.4h-1.9M299 326h-1.9M299 315.6h-1.9M299 305.1h-1.9M299 294.7h-1.9M299 284.3h-1.9" stroke="#111" stroke-width="1.3" fill="none"/>
<text x="77.9" y="510.7" font-size="14.7" font-weight="bold" text-anchor="end" fill="#111" stroke="#111" stroke-width="0.4" textLength="15.3" lengthAdjust="spacingAndGlyphs">10</text>
<text x="78" y="503.4" font-size="9.2" font-weight="bold" text-anchor="start" fill="#111" stroke="#111" stroke-width="0.3" textLength="4.9" lengthAdjust="spacingAndGlyphs">0</text>
<text x="128.3" y="510.7" font-size="14.7" font-weight="bold" text-anchor="end" fill="#111" stroke="#111" stroke-width="0.4" textLength="15.3" lengthAdjust="spacingAndGlyphs">10</text>
<text x="128.4" y="503.4" font-size="9.2" font-weight="bold" text-anchor="start" fill="#111" stroke="#111" stroke-width="0.3" textLength="4.9" lengthAdjust="spacingAndGlyphs">1</text>
<text x="178.7" y="510.7" font-size="14.7" font-weight="bold" text-anchor="end" fill="#111" stroke="#111" stroke-width="0.4" textLength="15.3" lengthAdjust="spacingAndGlyphs">10</text>
<text x="178.8" y="503.4" font-size="9.2" font-weight="bold" text-anchor="start" fill="#111" stroke="#111" stroke-width="0.3" textLength="4.9" lengthAdjust="spacingAndGlyphs">2</text>
<text x="229.1" y="510.7" font-size="14.7" font-weight="bold" text-anchor="end" fill="#111" stroke="#111" stroke-width="0.4" textLength="15.3" lengthAdjust="spacingAndGlyphs">10</text>
<text x="229.2" y="503.4" font-size="9.2" font-weight="bold" text-anchor="start" fill="#111" stroke="#111" stroke-width="0.3" textLength="4.9" lengthAdjust="spacingAndGlyphs">3</text>
<text x="279.5" y="510.7" font-size="14.7" font-weight="bold" text-anchor="end" fill="#111" stroke="#111" stroke-width="0.4" textLength="15.3" lengthAdjust="spacingAndGlyphs">10</text>
<text x="279.6" y="503.4" font-size="9.2" font-weight="bold" text-anchor="start" fill="#111" stroke="#111" stroke-width="0.3" textLength="4.9" lengthAdjust="spacingAndGlyphs">4</text>
<text x="305.2" y="510.7" font-size="14.7" font-weight="bold" text-anchor="end" fill="#111" stroke="#111" stroke-width="0.4" textLength="15.3" lengthAdjust="spacingAndGlyphs">10</text>
<text x="305.3" y="503.4" font-size="9.2" font-weight="bold" text-anchor="start" fill="#111" stroke="#111" stroke-width="0.3" textLength="4.9" lengthAdjust="spacingAndGlyphs">0</text>
<text x="354.8" y="510.7" font-size="14.7" font-weight="bold" text-anchor="end" fill="#111" stroke="#111" stroke-width="0.4" textLength="15.3" lengthAdjust="spacingAndGlyphs">10</text>
<text x="354.9" y="503.4" font-size="9.2" font-weight="bold" text-anchor="start" fill="#111" stroke="#111" stroke-width="0.3" textLength="4.9" lengthAdjust="spacingAndGlyphs">1</text>
<text x="404.4" y="510.7" font-size="14.7" font-weight="bold" text-anchor="end" fill="#111" stroke="#111" stroke-width="0.4" textLength="15.3" lengthAdjust="spacingAndGlyphs">10</text>
<text x="404.5" y="503.4" font-size="9.2" font-weight="bold" text-anchor="start" fill="#111" stroke="#111" stroke-width="0.3" textLength="4.9" lengthAdjust="spacingAndGlyphs">2</text>
<text x="454" y="510.7" font-size="14.7" font-weight="bold" text-anchor="end" fill="#111" stroke="#111" stroke-width="0.4" textLength="15.3" lengthAdjust="spacingAndGlyphs">10</text>
<text x="454.1" y="503.4" font-size="9.2" font-weight="bold" text-anchor="start" fill="#111" stroke="#111" stroke-width="0.3" textLength="4.9" lengthAdjust="spacingAndGlyphs">3</text>
<text x="503.6" y="510.7" font-size="14.7" font-weight="bold" text-anchor="end" fill="#111" stroke="#111" stroke-width="0.4" textLength="15.3" lengthAdjust="spacingAndGlyphs">10</text>
<text x="503.7" y="503.4" font-size="9.2" font-weight="bold" text-anchor="start" fill="#111" stroke="#111" stroke-width="0.3" textLength="4.9" lengthAdjust="spacingAndGlyphs">4</text>
<path d="M56.6 489V37.3" stroke="#0a0a0a" stroke-width="2.9" fill="none"/>
<path d="M56.6 22.7L49.1 40L56.6 37.8L64.1 40Z" fill="#0a0a0a"/>
<path d="M74.5 521.5H481.4" stroke="#0a0a0a" stroke-width="2.8" fill="none"/>
<path d="M496.4 521.5L478.9 514.2L480.9 521.5L478.9 528.8Z" fill="#0a0a0a"/>
<text transform="translate(46,311.8) rotate(-90)" font-size="20.3" font-weight="bold" fill="#111" stroke="#111" stroke-width="0.6" textLength="68" lengthAdjust="spacingAndGlyphs"># Cells</text>
<text x="257.6" y="543" font-size="20" font-weight="bold" text-anchor="start" fill="#111" textLength="66" lengthAdjust="spacingAndGlyphs" stroke="#111" stroke-width="0.6" stroke-linejoin="round">FCRL1</text>
</g>
<g id="partB">
<text x="0.7" y="590.4" font-size="25" font-weight="bold" text-anchor="start" fill="#111" stroke="#111" stroke-width="0.5" stroke-linejoin="round">B</text>
<path d="M90.9 705L90.9 705L91.7 705L92.5 705L93.3 705L94.1 705L94.9 705L95.7 705L96.5 705L97.3 705L98.1 705L98.9 704.9L99.7 704.7L100.5 704.5L101.3 704.4L102.1 703.5L102.9 702.3L103.7 701.5L104.5 700.3L105.3 698.2L106.1 695.6L106.9 692.4L107.7 690.7L108.5 687.2L109.3 681L110.1 675.9L110.9 668.7L111.7 662.2L112.5 656.1L113.3 648.6L114.1 637.1L114.9 634.1L115.7 628.5L116.5 623L117.3 615.3L118.1 612.7L118.9 616L119.7 620.8L120.5 625.9L121.3 632.2L122.1 639.1L122.9 648.2L123.7 658.3L124.5 662.3L125.3 671.1L126.1 675.8L126.9 682.4L127.7 685.7L128.5 690.4L129.3 693.1L130.1 693.9L130.9 697.8L131.7 699.2L132.5 701.4L133.3 702.1L134.1 702.8L134.9 703.8L135.7 704.3L136.5 704.7L137.3 704.9L138.1 705L138.9 705L139.7 705L140.5 705L141.3 705L142.1 705L142.9 705L143.7 705L144.5 705L145.3 705L146.1 705L146.9 705L147.7 705L148.5 705L149.3 705L150.1 705L150.9 705L151.7 705L152.5 705L153.3 705L154.1 705L154.9 705L155.7 705L156.5 705L157.3 705L158.1 705L158.9 705L159.7 705L160.5 705L161.3 705L162.1 705L162.9 705L163.7 705L164.5 705L165.3 705L166.1 705L166.9 705L167.7 705L168.5 705L169.3 705L170.1 705L170.9 705L171.7 705L172.5 705L173.3 705L174.1 705L174.9 705L175.7 705L176.5 705L177.3 705L178.1 705L178.9 705L179.7 705L180.5 705L181.3 705L182.1 705L182.9 705L183.7 705L184.5 705L185.3 705L186.1 705L186.9 705L187.7 705L188.5 705L189.3 705L190.1 705L190.9 705L191.7 705L192.5 705L193.3 705L194.1 705L194.9 705L195.7 705L196.5 705L197.3 705L198.1 705L198.9 705L199.7 705L200.5 705L201.3 705L202.1 705L202.9 705L203.7 705L204.5 705L205.3 705L206.1 705L206.1 705Z" fill="#898989"/>
<path d="M90.9 705.2L91.7 705.2L92.5 705.2L93.3 705.2L94.1 705.2L94.9 705.2L95.7 705.2L96.5 705.2L97.3 705.2L98.1 705.2L98.9 705.2L99.7 705.2L100.5 705.2L101.3 705.2L102.1 705.2L102.9 705.2L103.7 705.2L104.5 705.2L105.3 705.2L106.1 705.2L106.9 705.2L107.7 705.2L108.5 705.2L109.3 705.2L110.1 705.2L110.9 705.2L111.7 705.2L112.5 705.2L113.3 705.2L114.1 705.2L114.9 705.2L115.7 705.2L116.5 705.2L117.3 705.2L118.1 705.2L118.9 705.2L119.7 705.2L120.5 705.2L121.3 705.2L122.1 705.2L122.9 705.2L123.7 705.2L124.5 705.2L125.3 705.2L126.1 705.2L126.9 705.2L127.7 705.2L128.5 705.2L129.3 705.2L130.1 705.2L130.9 705.2L131.7 705.2L132.5 705.2L133.3 705.2L134.1 705.2L134.9 705.2L135.7 704.9L136.5 704.7L137.3 703.9L138.1 703.1L138.9 702L139.7 700.5L140.5 699L141.3 696.9L142.1 693.5L142.9 691L143.7 686.9L144.5 681.7L145.3 676.1L146.1 670.2L146.9 664.3L147.7 657.5L148.5 649.9L149.3 643.3L150.1 637.6L150.9 630.4L151.7 623.6L152.5 620L153.3 615.7L154.1 616L154.9 619.1L155.7 621.7L156.5 629.8L157.3 638.2L158.1 645.8L158.9 651.6L159.7 660.5L160.5 667.3L161.3 674.9L162.1 681.6L162.9 687.8L163.7 692.9L164.5 696.7L165.3 699.6L166.1 701.6L166.9 702.8L167.7 703.9L168.5 704.8L169.3 705.1L170.1 705.2L170.9 705.2L171.7 705.2L172.5 705.2L173.3 705.2L174.1 705.2L174.9 705.2L175.7 705.2L176.5 705.2L177.3 705.2L178.1 705.2L178.9 705.2L179.7 705.2L180.5 705.2L181.3 705.2L182.1 705.2L182.9 705.2L183.7 705.2L184.5 705.2L185.3 705.2L186.1 705.2L186.9 705.2L187.7 705.2L188.5 705.2L189.3 705.2L190.1 705.2L190.9 705.2L191.7 705.2L192.5 705.2L193.3 705.2L194.1 705.2L194.9 705.2L195.7 705.2L196.5 705.2L197.3 705.2L198.1 705.2L198.9 705.2L199.7 705.2L200.5 705.2L201.3 705.2L202.1 705.2L202.9 705.2L203.7 705.2L204.5 705.2L205.3 705.2L206.1 705.2" fill="none" stroke="#0a0a0a" stroke-width="2.8" stroke-linejoin="round" stroke-linecap="round"/>
<rect x="90.4" y="596" width="116.6" height="109.3" fill="none" stroke="#1c1c1c" stroke-width="1.4"/>
<path d="M90.4 705.3v3.8M99.2 705.3v2.4M104.3 705.3v2.4M108 705.3v2.4M110.8 705.3v2.4M113.1 705.3v2.4M115 705.3v2.4M116.7 705.3v2.4M118.2 705.3v2.4M119.6 705.3v3.8M128.3 705.3v2.4M133.5 705.3v2.4M137.1 705.3v2.4M139.9 705.3v2.4M142.2 705.3v2.4M144.2 705.3v2.4M145.9 705.3v2.4M147.4 705.3v2.4M148.7 705.3v3.8M157.5 705.3v2.4M162.6 705.3v2.4M166.3 705.3v2.4M169.1 705.3v2.4M171.4 705.3v2.4M173.3 705.3v2.4M175 705.3v2.4M176.5 705.3v2.4M177.8 705.3v3.8M186.6 705.3v2.4M191.8 705.3v2.4M195.4 705.3v2.4M198.2 705.3v2.4M200.5 705.3v2.4M202.5 705.3v2.4M204.2 705.3v2.4M205.7 705.3v2.4M207 705.3v3.8" stroke="#222" stroke-width="0.9" fill="none"/>
<path d="M90.4 609h-2.6M90.4 633h-2.6M90.4 656.8h-2.6M90.4 680.3h-2.6M90.4 704h-2.6M90.4 704h-1.3M90.4 699.2h-1.3M90.4 694.5h-1.3M90.4 689.8h-1.3M90.4 685h-1.3M90.4 680.2h-1.3M90.4 675.5h-1.3M90.4 670.8h-1.3M90.4 666h-1.3M90.4 661.2h-1.3M90.4 656.5h-1.3M90.4 651.8h-1.3M90.4 647h-1.3M90.4 642.2h-1.3M90.4 637.5h-1.3M90.4 632.8h-1.3M90.4 628h-1.3M90.4 623.2h-1.3M90.4 618.5h-1.3M90.4 613.8h-1.3M90.4 609h-1.3M90.4 604.2h-1.3M90.4 599.5h-1.3" stroke="#222" stroke-width="1" fill="none"/>
<text x="85.4" y="613.4" font-size="12.3" font-weight="bold" text-anchor="end" fill="#111" textLength="22" lengthAdjust="spacingAndGlyphs" stroke="#111" stroke-width="0.5" stroke-linejoin="round">400</text>
<text x="85.4" y="637.4" font-size="12.3" font-weight="bold" text-anchor="end" fill="#111" textLength="22" lengthAdjust="spacingAndGlyphs" stroke="#111" stroke-width="0.5" stroke-linejoin="round">300</text>
<text x="85.4" y="661.2" font-size="12.3" font-weight="bold" text-anchor="end" fill="#111" textLength="22" lengthAdjust="spacingAndGlyphs" stroke="#111" stroke-width="0.5" stroke-linejoin="round">200</text>
<text x="85.4" y="684.7" font-size="12.3" font-weight="bold" text-anchor="end" fill="#111" textLength="22" lengthAdjust="spacingAndGlyphs" stroke="#111" stroke-width="0.5" stroke-linejoin="round">100</text>
<text x="82.7" y="708.4" font-size="12.3" font-weight="bold" text-anchor="end" fill="#111" textLength="7.4" lengthAdjust="spacingAndGlyphs" stroke="#111" stroke-width="0.5" stroke-linejoin="round">0</text>
<text x="199.4" y="612.2" font-size="13.9" font-weight="bold" text-anchor="end" fill="#111" textLength="30.1" lengthAdjust="spacingAndGlyphs" letter-spacing="0.6" stroke="#111" stroke-width="0.2" stroke-linejoin="round">BL2</text>
<text x="204.4" y="629.8" font-size="13.3" font-weight="normal" text-anchor="end" fill="#111" textLength="35.2" lengthAdjust="spacingAndGlyphs" letter-spacing="0.45" stroke="#111" stroke-width="0.5" stroke-linejoin="round">(127)</text>
<path d="M241.8 704.3L241.8 704.3L242.6 704.3L243.4 704.3L244.2 704.3L245 704.3L245.8 704.3L246.6 704.3L247.4 704.3L248.2 704.3L249 704.3L249.8 704.3L250.6 704.3L251.4 704.3L252.2 704.3L253 704.3L253.8 704.3L254.6 704.3L255.4 704.1L256.2 703.9L257 703.7L257.8 703L258.6 703L259.4 702.6L260.2 701L261 699.7L261.8 698.5L262.6 696.7L263.4 695L264.2 693L265 690.8L265.8 687.8L266.6 685.2L267.4 681L268.2 678.3L269 676.9L269.8 670L270.6 665.1L271.4 657.8L272.2 651.3L273 646.5L273.8 645.8L274.6 640.4L275.4 645.6L276.2 643.8L277 645.8L277.8 643L278.6 638.6L279.4 643.8L280.2 640.7L281 644L281.8 643.3L282.6 641.3L283.4 638L284.2 640.5L285 640L285.8 638.6L286.6 641.4L287.4 636L288.2 639.3L289 642.4L289.8 641.7L290.6 640.8L291.4 644.9L292.2 654.7L293 659.5L293.8 665.1L294.6 670.1L295.4 677.7L296.2 682.7L297 690.9L297.8 695.4L298.6 697.3L299.4 699.4L300.2 701.1L301 701.8L301.8 702.8L302.6 703.2L303.4 703.8L304.2 704L305 704.2L305.8 704.3L306.6 704.3L307.4 704.3L308.2 704.3L309 704.3L309.8 704.3L310.6 704.3L311.4 704.3L312.2 704.3L313 704.3L313.8 704.3L314.6 704.3L315.4 704.3L316.2 704.3L317 704.3L317.8 704.3L318.6 704.3L319.4 704.3L320.2 704.3L321 704.3L321.8 704.3L322.6 704.3L323.4 704.3L324.2 704.3L325 704.3L325.8 704.3L326.6 704.3L327.4 704.3L328.2 704.3L329 704.3L329.8 704.3L330.6 704.3L331.4 704.3L332.2 704.3L333 704.3L333.8 704.3L334.6 704.3L335.4 704.3L336.2 704.3L337 704.3L337.8 704.3L338.6 704.3L339.4 704.3L340.2 704.3L341 704.3L341.8 704.3L342.6 704.3L343.4 704.3L344.2 704.3L345 704.3L345.8 704.3L346.6 704.3L347.4 704.3L348.2 704.3L349 704.3L349.8 704.3L350.6 704.3L351.4 704.3L352.2 704.3L353 704.3L353.8 704.3L354.6 704.3L355.4 704.3L356.2 704.3L357 704.3L357.8 704.3L357.8 704.3Z" fill="#898989"/>
<path d="M241.8 704.5L242.6 704.5L243.4 704.5L244.2 704.5L245 704.5L245.8 704.5L246.6 704.5L247.4 704.5L248.2 704.5L249 704.5L249.8 704.5L250.6 704.5L251.4 704.5L252.2 704.5L253 704.5L253.8 704.5L254.6 704.4L255.4 704.2L256.2 703.9L257 703.8L257.8 703.8L258.6 703.6L259.4 703.1L260.2 702.7L261 702.5L261.8 702.4L262.6 702L263.4 701.3L264.2 701.4L265 700.5L265.8 700.2L266.6 699.8L267.4 699.3L268.2 699.3L269 698.8L269.8 698L270.6 698.3L271.4 698L272.2 698L273 697.5L273.8 696.8L274.6 696.3L275.4 696.2L276.2 695.8L277 695.5L277.8 695.1L278.6 694.4L279.4 694.2L280.2 693L281 692.4L281.8 691.9L282.6 690.4L283.4 688.5L284.2 686.6L285 684.5L285.8 681.5L286.6 678L287.4 674.2L288.2 670L289 667L289.8 661.8L290.6 657L291.4 653.5L292.2 648.5L293 646.7L293.8 643.1L294.6 640.1L295.4 637.7L296.2 634.6L297 631.6L297.8 629.1L298.6 626.4L299.4 624.5L300.2 626.1L301 632L301.8 634.9L302.6 640.2L303.4 642.4L304.2 644.8L305 645.5L305.8 648.5L306.6 652.3L307.4 657.1L308.2 660.8L309 664.2L309.8 670.6L310.6 673.1L311.4 677L312.2 681L313 685.3L313.8 687.9L314.6 691.9L315.4 694.8L316.2 698L317 700.1L317.8 701L318.6 702.2L319.4 703.1L320.2 703.6L321 703.9L321.8 704.3L322.6 704.5L323.4 704.5L324.2 704.5L325 704.5L325.8 704.5L326.6 704.5L327.4 704.5L328.2 704.5L329 704.5L329.8 704.5L330.6 704.5L331.4 704.5L332.2 704.5L333 704.5L333.8 704.5L334.6 704.5L335.4 704.5L336.2 704.5L337 704.5L337.8 704.5L338.6 704.5L339.4 704.5L340.2 704.5L341 704.5L341.8 704.5L342.6 704.5L343.4 704.5L344.2 704.5L345 704.5L345.8 704.5L346.6 704.5L347.4 704.5L348.2 704.5L349 704.5L349.8 704.5L350.6 704.5L351.4 704.5L352.2 704.5L353 704.5L353.8 704.5L354.6 704.5L355.4 704.5L356.2 704.5L357 704.5L357.8 704.5" fill="none" stroke="#0a0a0a" stroke-width="2.8" stroke-linejoin="round" stroke-linecap="round"/>
<rect x="241.3" y="596" width="116.9" height="108.6" fill="none" stroke="#1c1c1c" stroke-width="1.4"/>
<path d="M241.3 704.6v3.8M250.1 704.6v2.4M255.2 704.6v2.4M258.9 704.6v2.4M261.7 704.6v2.4M264 704.6v2.4M266 704.6v2.4M267.7 704.6v2.4M269.2 704.6v2.4M270.5 704.6v3.8M279.3 704.6v2.4M284.5 704.6v2.4M288.1 704.6v2.4M291 704.6v2.4M293.3 704.6v2.4M295.2 704.6v2.4M296.9 704.6v2.4M298.4 704.6v2.4M299.8 704.6v3.8M308.5 704.6v2.4M313.7 704.6v2.4M317.3 704.6v2.4M320.2 704.6v2.4M322.5 704.6v2.4M324.4 704.6v2.4M326.1 704.6v2.4M327.6 704.6v2.4M329 704.6v3.8M337.8 704.6v2.4M342.9 704.6v2.4M346.6 704.6v2.4M349.4 704.6v2.4M351.7 704.6v2.4M353.7 704.6v2.4M355.4 704.6v2.4M356.9 704.6v2.4M358.2 704.6v3.8" stroke="#222" stroke-width="0.9" fill="none"/>
<path d="M241.3 612h-2.6M241.3 643h-2.6M241.3 673.8h-2.6M241.3 704.5h-2.6M241.3 704.5h-1.3M241.3 698.3h-1.3M241.3 692.2h-1.3M241.3 686h-1.3M241.3 679.8h-1.3M241.3 673.7h-1.3M241.3 667.5h-1.3M241.3 661.3h-1.3M241.3 655.2h-1.3M241.3 649h-1.3M241.3 642.8h-1.3M241.3 636.7h-1.3M241.3 630.5h-1.3M241.3 624.3h-1.3M241.3 618.2h-1.3M241.3 612h-1.3M241.3 605.8h-1.3M241.3 599.7h-1.3" stroke="#222" stroke-width="1" fill="none"/>
<text x="236.6" y="616.4" font-size="12.3" font-weight="bold" text-anchor="end" fill="#111" textLength="22" lengthAdjust="spacingAndGlyphs" stroke="#111" stroke-width="0.5" stroke-linejoin="round">300</text>
<text x="236.6" y="647.4" font-size="12.3" font-weight="bold" text-anchor="end" fill="#111" textLength="22" lengthAdjust="spacingAndGlyphs" stroke="#111" stroke-width="0.5" stroke-linejoin="round">200</text>
<text x="236.6" y="678.2" font-size="12.3" font-weight="bold" text-anchor="end" fill="#111" textLength="22" lengthAdjust="spacingAndGlyphs" stroke="#111" stroke-width="0.5" stroke-linejoin="round">100</text>
<text x="233.9" y="708.9" font-size="12.3" font-weight="bold" text-anchor="end" fill="#111" textLength="7.4" lengthAdjust="spacingAndGlyphs" stroke="#111" stroke-width="0.5" stroke-linejoin="round">0</text>
<text x="351.4" y="612.2" font-size="13.9" font-weight="bold" text-anchor="end" fill="#111" textLength="39.1" lengthAdjust="spacingAndGlyphs" letter-spacing="0.6" stroke="#111" stroke-width="0.2" stroke-linejoin="round">BL60</text>
<text x="349.4" y="630" font-size="13.3" font-weight="normal" text-anchor="end" fill="#111" textLength="25.7" lengthAdjust="spacingAndGlyphs" letter-spacing="0.45" stroke="#111" stroke-width="0.5" stroke-linejoin="round">(33)</text>
<path d="M393.5 704.3L393.5 704.3L394.3 704.3L395.1 704.3L395.9 704.3L396.7 704.3L397.5 704.3L398.3 704.3L399.1 704.3L399.9 704.3L400.7 704.3L401.5 704.3L402.3 704.3L403.1 704.3L403.9 704.3L404.7 704.3L405.5 704.3L406.3 704.3L407.1 704.3L407.9 704.3L408.7 704.3L409.5 704.3L410.3 704.2L411.1 704.2L411.9 704.1L412.7 703.9L413.5 703.5L414.3 703L415.1 702.1L415.9 700.9L416.7 698.5L417.5 695.7L418.3 690.9L419.1 687.1L419.9 677.4L420.7 675.1L421.5 662.7L422.3 651.9L423.1 643.6L423.9 635.2L424.7 626.3L425.5 619.2L426.3 615.1L427.1 619.7L427.9 618.5L428.7 623.6L429.5 626.1L430.3 635.2L431.1 641.6L431.9 648.3L432.7 658.1L433.5 665.2L434.3 673.5L435.1 679.3L435.9 686.3L436.7 690L437.5 693.5L438.3 696.6L439.1 697.6L439.9 701.2L440.7 702.3L441.5 702.4L442.3 703L443.1 703.5L443.9 703.8L444.7 704L445.5 704.1L446.3 704.2L447.1 704.2L447.9 704.3L448.7 704.3L449.5 704.3L450.3 704.3L451.1 704.3L451.9 704.3L452.7 704.3L453.5 704.3L454.3 704.3L455.1 704.3L455.9 704.3L456.7 704.3L457.5 704.3L458.3 704.3L459.1 704.3L459.9 704.3L460.7 704.3L461.5 704.3L462.3 704.3L463.1 704.3L463.9 704.3L464.7 704.3L465.5 704.3L466.3 704.3L467.1 704.3L467.9 704.3L468.7 704.3L469.5 704.3L470.3 704.3L471.1 704.3L471.9 704.3L472.7 704.3L473.5 704.3L474.3 704.3L475.1 704.3L475.9 704.3L476.7 704.3L477.5 704.3L478.3 704.3L479.1 704.3L479.9 704.3L480.7 704.3L481.5 704.3L482.3 704.3L483.1 704.3L483.9 704.3L484.7 704.3L485.5 704.3L486.3 704.3L487.1 704.3L487.9 704.3L488.7 704.3L489.5 704.3L490.3 704.3L491.1 704.3L491.9 704.3L492.7 704.3L493.5 704.3L494.3 704.3L495.1 704.3L495.9 704.3L496.7 704.3L497.5 704.3L498.3 704.3L499.1 704.3L499.9 704.3L500.7 704.3L501.5 704.3L502.3 704.3L503.1 704.3L503.9 704.3L504.7 704.3L505.5 704.3L506.3 704.3L507.1 704.3L507.9 704.3L508.7 704.3L509.5 704.3L510.3 704.3L510.3 704.3Z" fill="#898989"/>
<path d="M393.5 704.5L394.3 704.5L395.1 704.5L395.9 704.5L396.7 704.5L397.5 704.5L398.3 704.5L399.1 704.5L399.9 704.5L400.7 704.5L401.5 704.5L402.3 704.5L403.1 704.5L403.9 704.5L404.7 704.5L405.5 704.5L406.3 704.5L407.1 704.5L407.9 704.5L408.7 704.5L409.5 704.5L410.3 704.5L411.1 704.5L411.9 704.4L412.7 704.2L413.5 704.1L414.3 703.8L415.1 703.8L415.9 703.4L416.7 703.3L417.5 702.7L418.3 702.5L419.1 701.8L419.9 701.5L420.7 701.2L421.5 700.8L422.3 700.1L423.1 699.6L423.9 699.2L424.7 698.2L425.5 698.2L426.3 696.8L427.1 695.4L427.9 694.8L428.7 694.2L429.5 692.1L430.3 690.8L431.1 689.5L431.9 687.8L432.7 685.6L433.5 683.3L434.3 681.4L435.1 678.1L435.9 676.4L436.7 672.6L437.5 670.4L438.3 666.7L439.1 661.5L439.9 657.4L440.7 652.7L441.5 651.4L442.3 648.9L443.1 648.3L443.9 647L444.7 647.6L445.5 650.3L446.3 651.9L447.1 656.3L447.9 661.7L448.7 666.7L449.5 671.4L450.3 675.5L451.1 680.5L451.9 683.4L452.7 687.3L453.5 690L454.3 693.6L455.1 696.3L455.9 697.8L456.7 698.5L457.5 699.4L458.3 700.1L459.1 700.6L459.9 701.6L460.7 701.9L461.5 702.6L462.3 703L463.1 703.3L463.9 703.4L464.7 703.6L465.5 704L466.3 704.2L467.1 704.3L467.9 704.5L468.7 704.5L469.5 704.5L470.3 704.5L471.1 704.5L471.9 704.5L472.7 704.5L473.5 704.5L474.3 704.5L475.1 704.5L475.9 704.5L476.7 704.5L477.5 704.5L478.3 704.5L479.1 704.5L479.9 704.5L480.7 704.5L481.5 704.5L482.3 704.5L483.1 704.5L483.9 704.5L484.7 704.5L485.5 704.5L486.3 704.5L487.1 704.5L487.9 704.5L488.7 704.5L489.5 704.5L490.3 704.5L491.1 704.5L491.9 704.5L492.7 704.5L493.5 704.5L494.3 704.5L495.1 704.5L495.9 704.5L496.7 704.5L497.5 704.5L498.3 704.5L499.1 704.5L499.9 704.5L500.7 704.5L501.5 704.5L502.3 704.5L503.1 704.5L503.9 704.5L504.7 704.5L505.5 704.5L506.3 704.5L507.1 704.5L507.9 704.5L508.7 704.5L509.5 704.5L510.3 704.5" fill="none" stroke="#0a0a0a" stroke-width="2.8" stroke-linejoin="round" stroke-linecap="round"/>
<rect x="393" y="596" width="117.6" height="108.6" fill="none" stroke="#1c1c1c" stroke-width="1.4"/>
<path d="M393 704.6v3.8M401.9 704.6v2.4M407 704.6v2.4M410.7 704.6v2.4M413.5 704.6v2.4M415.9 704.6v2.4M417.8 704.6v2.4M419.6 704.6v2.4M421.1 704.6v2.4M422.4 704.6v3.8M431.3 704.6v2.4M436.4 704.6v2.4M440.1 704.6v2.4M442.9 704.6v2.4M445.3 704.6v2.4M447.2 704.6v2.4M449 704.6v2.4M450.5 704.6v2.4M451.8 704.6v3.8M460.7 704.6v2.4M465.8 704.6v2.4M469.5 704.6v2.4M472.3 704.6v2.4M474.7 704.6v2.4M476.6 704.6v2.4M478.4 704.6v2.4M479.9 704.6v2.4M481.2 704.6v3.8M490.1 704.6v2.4M495.2 704.6v2.4M498.9 704.6v2.4M501.7 704.6v2.4M504.1 704.6v2.4M506 704.6v2.4M507.8 704.6v2.4M509.3 704.6v2.4M510.6 704.6v3.8" stroke="#222" stroke-width="0.9" fill="none"/>
<path d="M393 608.5h-2.6M393 632.5h-2.6M393 656.3h-2.6M393 680.3h-2.6M393 704.5h-2.6M393 704.5h-1.3M393 699.7h-1.3M393 694.9h-1.3M393 690.1h-1.3M393 685.3h-1.3M393 680.5h-1.3M393 675.7h-1.3M393 670.9h-1.3M393 666.1h-1.3M393 661.3h-1.3M393 656.5h-1.3M393 651.7h-1.3M393 646.9h-1.3M393 642.1h-1.3M393 637.3h-1.3M393 632.5h-1.3M393 627.7h-1.3M393 622.9h-1.3M393 618.1h-1.3M393 613.3h-1.3M393 608.5h-1.3M393 603.7h-1.3M393 598.9h-1.3" stroke="#222" stroke-width="1" fill="none"/>
<text x="389.2" y="612.9" font-size="12.3" font-weight="bold" text-anchor="end" fill="#111" textLength="22" lengthAdjust="spacingAndGlyphs" stroke="#111" stroke-width="0.5" stroke-linejoin="round">400</text>
<text x="389.2" y="636.9" font-size="12.3" font-weight="bold" text-anchor="end" fill="#111" textLength="22" lengthAdjust="spacingAndGlyphs" stroke="#111" stroke-width="0.5" stroke-linejoin="round">300</text>
<text x="389.2" y="660.7" font-size="12.3" font-weight="bold" text-anchor="end" fill="#111" textLength="22" lengthAdjust="spacingAndGlyphs" stroke="#111" stroke-width="0.5" stroke-linejoin="round">200</text>
<text x="389.2" y="684.7" font-size="12.3" font-weight="bold" text-anchor="end" fill="#111" textLength="22" lengthAdjust="spacingAndGlyphs" stroke="#111" stroke-width="0.5" stroke-linejoin="round">100</text>
<text x="386.5" y="708.9" font-size="12.3" font-weight="bold" text-anchor="end" fill="#111" textLength="7.4" lengthAdjust="spacingAndGlyphs" stroke="#111" stroke-width="0.5" stroke-linejoin="round">0</text>
<text x="504.4" y="612.2" font-size="13.9" font-weight="bold" text-anchor="end" fill="#111" textLength="39.6" lengthAdjust="spacingAndGlyphs" letter-spacing="0.6" stroke="#111" stroke-width="0.2" stroke-linejoin="round">BL74</text>
<text x="505.1" y="630" font-size="13.3" font-weight="normal" text-anchor="end" fill="#111" textLength="26.2" lengthAdjust="spacingAndGlyphs" letter-spacing="0.45" stroke="#111" stroke-width="0.5" stroke-linejoin="round">(29)</text>
<path d="M90.9 822.7L90.9 822.6L91.7 822.6L92.5 822.6L93.3 822.6L94.1 822.6L94.9 822.6L95.7 822.6L96.5 822.6L97.3 822.6L98.1 822.6L98.9 822.6L99.7 822.6L100.5 822.6L101.3 822.6L102.1 822.6L102.9 822.6L103.7 822.6L104.5 822.5L105.3 822.3L106.1 822.3L106.9 821.9L107.7 821.4L108.5 821.2L109.3 820.6L110.1 820.1L110.9 818.5L111.7 817.2L112.5 814.9L113.3 813.1L114.1 810.5L114.9 807.8L115.7 804.2L116.5 798.6L117.3 791.4L118.1 788.3L118.9 782L119.7 769L120.5 763.3L121.3 759.2L122.1 754.6L122.9 751.3L123.7 746.2L124.5 743.8L125.3 740.9L126.1 745.6L126.9 749.1L127.7 746.6L128.5 752.3L129.3 760.5L130.1 762L130.9 768.8L131.7 781L132.5 783.1L133.3 789.4L134.1 794.7L134.9 799.7L135.7 805.8L136.5 807.2L137.3 811.6L138.1 813.9L138.9 816.4L139.7 818.6L140.5 818.4L141.3 820.2L142.1 820.1L142.9 820.8L143.7 821.4L144.5 822L145.3 822L146.1 822.2L146.9 822.3L147.7 822.5L148.5 822.6L149.3 822.6L150.1 822.6L150.9 822.6L151.7 822.6L152.5 822.6L153.3 822.6L154.1 822.6L154.9 822.6L155.7 822.6L156.5 822.6L157.3 822.6L158.1 822.6L158.9 822.6L159.7 822.6L160.5 822.6L161.3 822.6L162.1 822.6L162.9 822.6L163.7 822.6L164.5 822.6L165.3 822.6L166.1 822.6L166.9 822.6L167.7 822.6L168.5 822.6L169.3 822.6L170.1 822.6L170.9 822.6L171.7 822.6L172.5 822.6L173.3 822.6L174.1 822.6L174.9 822.6L175.7 822.6L176.5 822.6L177.3 822.6L178.1 822.6L178.9 822.6L179.7 822.6L180.5 822.6L181.3 822.6L182.1 822.6L182.9 822.6L183.7 822.6L184.5 822.6L185.3 822.6L186.1 822.6L186.9 822.6L187.7 822.6L188.5 822.6L189.3 822.6L190.1 822.6L190.9 822.6L191.7 822.6L192.5 822.6L193.3 822.6L194.1 822.6L194.9 822.6L195.7 822.6L196.5 822.6L197.3 822.6L198.1 822.6L198.9 822.6L199.7 822.6L200.5 822.6L201.3 822.6L202.1 822.6L202.9 822.6L203.7 822.6L204.5 822.6L205.3 822.6L206.1 822.6L206.1 822.7Z" fill="#898989"/>
<path d="M90.9 822.9L91.7 822.9L92.5 822.9L93.3 822.9L94.1 822.9L94.9 822.9L95.7 822.9L96.5 822.9L97.3 822.9L98.1 822.9L98.9 822.9L99.7 822.9L100.5 822.9L101.3 822.9L102.1 822.9L102.9 822.9L103.7 822.9L104.5 822.9L105.3 822.9L106.1 822.9L106.9 822.9L107.7 822.9L108.5 822.9L109.3 822.9L110.1 822.9L110.9 822.9L111.7 822.9L112.5 822.9L113.3 822.9L114.1 822.9L114.9 822.9L115.7 822.9L116.5 822.9L117.3 822.9L118.1 822.9L118.9 822.9L119.7 822.9L120.5 822.9L121.3 822.9L122.1 822.9L122.9 822.9L123.7 822.9L124.5 822.9L125.3 822.9L126.1 822.9L126.9 822.9L127.7 822.9L128.5 822.9L129.3 822.8L130.1 822.7L130.9 822.5L131.7 822.3L132.5 822.3L133.3 822L134.1 822L134.9 821.6L135.7 821.5L136.5 821.1L137.3 820.8L138.1 820.2L138.9 819.9L139.7 819.5L140.5 818.9L141.3 818.4L142.1 816.8L142.9 816.6L143.7 814.9L144.5 813.2L145.3 811.5L146.1 809.3L146.9 805.7L147.7 801.9L148.5 798L149.3 794.8L150.1 789.4L150.9 784.3L151.7 778.3L152.5 775L153.3 770L154.1 764.3L154.9 761.7L155.7 756.6L156.5 753.6L157.3 748.4L158.1 745L158.9 742.6L159.7 740.4L160.5 742.9L161.3 747L162.1 751.4L162.9 755.7L163.7 760.5L164.5 764L165.3 769L166.1 775.7L166.9 783L167.7 790.5L168.5 798.5L169.3 805.2L170.1 810.8L170.9 815.2L171.7 818L172.5 819.8L173.3 820.5L174.1 821.4L174.9 822.2L175.7 822.4L176.5 822.6L177.3 822.8L178.1 822.9L178.9 822.9L179.7 822.9L180.5 822.9L181.3 822.9L182.1 822.9L182.9 822.9L183.7 822.9L184.5 822.9L185.3 822.9L186.1 822.9L186.9 822.9L187.7 822.9L188.5 822.9L189.3 822.9L190.1 822.9L190.9 822.9L191.7 822.9L192.5 822.9L193.3 822.9L194.1 822.9L194.9 822.9L195.7 822.9L196.5 822.9L197.3 822.9L198.1 822.9L198.9 822.9L199.7 822.9L200.5 822.9L201.3 822.9L202.1 822.9L202.9 822.9L203.7 822.9L204.5 822.9L205.3 822.9L206.1 822.9" fill="none" stroke="#0a0a0a" stroke-width="2.8" stroke-linejoin="round" stroke-linecap="round"/>
<rect x="90.4" y="714.4" width="116.6" height="108.6" fill="none" stroke="#1c1c1c" stroke-width="1.4"/>
<path d="M90.4 823v3.8M99.2 823v2.4M104.3 823v2.4M108 823v2.4M110.8 823v2.4M113.1 823v2.4M115 823v2.4M116.7 823v2.4M118.2 823v2.4M119.6 823v3.8M128.3 823v2.4M133.5 823v2.4M137.1 823v2.4M139.9 823v2.4M142.2 823v2.4M144.2 823v2.4M145.9 823v2.4M147.4 823v2.4M148.7 823v3.8M157.5 823v2.4M162.6 823v2.4M166.3 823v2.4M169.1 823v2.4M171.4 823v2.4M173.3 823v2.4M175 823v2.4M176.5 823v2.4M177.8 823v3.8M186.6 823v2.4M191.8 823v2.4M195.4 823v2.4M198.2 823v2.4M200.5 823v2.4M202.5 823v2.4M204.2 823v2.4M205.7 823v2.4M207 823v3.8" stroke="#222" stroke-width="0.9" fill="none"/>
<path d="M90.4 726h-2.6M90.4 751h-2.6M90.4 774.6h-2.6M90.4 798.8h-2.6M90.4 823h-2.6M90.4 823h-1.3M90.4 818.1h-1.3M90.4 813.3h-1.3M90.4 808.4h-1.3M90.4 803.6h-1.3M90.4 798.7h-1.3M90.4 793.9h-1.3M90.4 789h-1.3M90.4 784.2h-1.3M90.4 779.3h-1.3M90.4 774.5h-1.3M90.4 769.6h-1.3M90.4 764.8h-1.3M90.4 759.9h-1.3M90.4 755.1h-1.3M90.4 750.2h-1.3M90.4 745.4h-1.3M90.4 740.5h-1.3M90.4 735.7h-1.3M90.4 730.8h-1.3M90.4 726h-1.3M90.4 721.1h-1.3M90.4 716.3h-1.3" stroke="#222" stroke-width="1" fill="none"/>
<text x="85.4" y="730.4" font-size="12.3" font-weight="bold" text-anchor="end" fill="#111" textLength="22" lengthAdjust="spacingAndGlyphs" stroke="#111" stroke-width="0.5" stroke-linejoin="round">400</text>
<text x="85.4" y="755.4" font-size="12.3" font-weight="bold" text-anchor="end" fill="#111" textLength="22" lengthAdjust="spacingAndGlyphs" stroke="#111" stroke-width="0.5" stroke-linejoin="round">300</text>
<text x="85.4" y="779" font-size="12.3" font-weight="bold" text-anchor="end" fill="#111" textLength="22" lengthAdjust="spacingAndGlyphs" stroke="#111" stroke-width="0.5" stroke-linejoin="round">200</text>
<text x="85.4" y="803.2" font-size="12.3" font-weight="bold" text-anchor="end" fill="#111" textLength="22" lengthAdjust="spacingAndGlyphs" stroke="#111" stroke-width="0.5" stroke-linejoin="round">100</text>
<text x="82.7" y="827.4" font-size="12.3" font-weight="bold" text-anchor="end" fill="#111" textLength="7.4" lengthAdjust="spacingAndGlyphs" stroke="#111" stroke-width="0.5" stroke-linejoin="round">0</text>
<text x="202.4" y="730.2" font-size="13.9" font-weight="bold" text-anchor="end" fill="#111" textLength="48.1" lengthAdjust="spacingAndGlyphs" letter-spacing="0.6" stroke="#111" stroke-width="0.2" stroke-linejoin="round">BL104</text>
<text x="203.9" y="746.5" font-size="13.3" font-weight="normal" text-anchor="end" fill="#111" textLength="35" lengthAdjust="spacingAndGlyphs" letter-spacing="0.45" stroke="#111" stroke-width="0.5" stroke-linejoin="round">(195)</text>
<path d="M241.8 824.2L241.8 824.2L242.6 824.2L243.4 824.2L244.2 824.2L245 824.2L245.8 824.2L246.6 824.2L247.4 824.2L248.2 824.2L249 824.2L249.8 824.2L250.6 824.2L251.4 824.2L252.2 824.2L253 824.2L253.8 824.2L254.6 824.2L255.4 824.2L256.2 824.2L257 824.2L257.8 824.2L258.6 824.2L259.4 824.2L260.2 824.2L261 824.2L261.8 824.2L262.6 824.1L263.4 824.1L264.2 824.1L265 824L265.8 824L266.6 823.9L267.4 823.8L268.2 823.7L269 823.6L269.8 823.6L270.6 823.3L271.4 822.8L272.2 823L273 821.3L273.8 821.4L274.6 820.5L275.4 819.9L276.2 818.7L277 818.2L277.8 816.4L278.6 815L279.4 813.3L280.2 812L281 808.5L281.8 806.4L282.6 802.8L283.4 798.8L284.2 793.2L285 790.2L285.8 781.3L286.6 775.1L287.4 769.2L288.2 758.2L289 750.9L289.8 745L290.6 740.5L291.4 734.9L292.2 732.4L293 727.4L293.8 733.4L294.6 734.3L295.4 745.1L296.2 748.2L297 754.8L297.8 765.5L298.6 776L299.4 782.2L300.2 788.4L301 795.3L301.8 800.6L302.6 804.7L303.4 808.3L304.2 811.8L305 813.3L305.8 815L306.6 816.6L307.4 818.7L308.2 819.4L309 819.8L309.8 821.5L310.6 821.5L311.4 822.3L312.2 822.4L313 823L313.8 823.1L314.6 823.3L315.4 823.7L316.2 823.8L317 823.9L317.8 824L318.6 824L319.4 824.1L320.2 824.1L321 824.1L321.8 824.2L322.6 824.2L323.4 824.2L324.2 824.2L325 824.2L325.8 824.2L326.6 824.2L327.4 824.2L328.2 824.2L329 824.2L329.8 824.2L330.6 824.2L331.4 824.2L332.2 824.2L333 824.2L333.8 824.2L334.6 824.2L335.4 824.2L336.2 824.2L337 824.2L337.8 824.2L338.6 824.2L339.4 824.2L340.2 824.2L341 824.2L341.8 824.2L342.6 824.2L343.4 824.2L344.2 824.2L345 824.2L345.8 824.2L346.6 824.2L347.4 824.2L348.2 824.2L349 824.2L349.8 824.2L350.6 824.2L351.4 824.2L352.2 824.2L353 824.2L353.8 824.2L354.6 824.2L355.4 824.2L356.2 824.2L357 824.2L357.8 824.2L357.8 824.2Z" fill="#898989"/>
<path d="M241.8 824.3L242.6 824.3L243.4 824.3L244.2 824.3L245 824.3L245.8 824.3L246.6 824.3L247.4 824.3L248.2 824.3L249 824.3L249.8 824.3L250.6 824.3L251.4 824.3L252.2 824.3L253 824.3L253.8 824.3L254.6 824.3L255.4 824.3L256.2 824.3L257 824.3L257.8 824.3L258.6 824.3L259.4 824.3L260.2 824.3L261 824.3L261.8 824.3L262.6 824.3L263.4 824.3L264.2 824.3L265 824.2L265.8 824.2L266.6 824.1L267.4 824L268.2 824.1L269 823.9L269.8 824L270.6 823.7L271.4 823.5L272.2 823.2L273 823.2L273.8 822.8L274.6 822.5L275.4 822.5L276.2 821.5L277 821.4L277.8 821.1L278.6 820.6L279.4 820.5L280.2 820L281 819.5L281.8 819L282.6 818.8L283.4 818.4L284.2 817.2L285 816.3L285.8 815.6L286.6 813.8L287.4 812.5L288.2 811L289 809.2L289.8 806.5L290.6 803L291.4 800.4L292.2 795.6L293 791.7L293.8 787.3L294.6 783L295.4 780.4L296.2 776.4L297 771.8L297.8 767.1L298.6 764.8L299.4 763.7L300.2 762.4L301 760.9L301.8 761.5L302.6 761L303.4 759.1L304.2 757.5L305 758.6L305.8 766.2L306.6 769.8L307.4 772.5L308.2 776L309 780.8L309.8 786.5L310.6 790.1L311.4 796.4L312.2 802L313 807L313.8 812.6L314.6 816.5L315.4 819.8L316.2 821.4L317 822.7L317.8 823.3L318.6 823.6L319.4 823.9L320.2 824.1L321 824.1L321.8 824.2L322.6 824.2L323.4 824.3L324.2 824.3L325 824.3L325.8 824.3L326.6 824.3L327.4 824.3L328.2 824.3L329 824.3L329.8 824.3L330.6 824.3L331.4 824.3L332.2 824.3L333 824.3L333.8 824.3L334.6 824.3L335.4 824.3L336.2 824.3L337 824.3L337.8 824.3L338.6 824.3L339.4 824.3L340.2 824.3L341 824.3L341.8 824.3L342.6 824.3L343.4 824.3L344.2 824.3L345 824.3L345.8 824.3L346.6 824.3L347.4 824.3L348.2 824.3L349 824.3L349.8 824.3L350.6 824.3L351.4 824.3L352.2 824.3L353 824.3L353.8 824.3L354.6 824.3L355.4 824.3L356.2 824.3L357 824.3L357.8 824.3" fill="none" stroke="#0a0a0a" stroke-width="2.8" stroke-linejoin="round" stroke-linecap="round"/>
<rect x="241.3" y="716.2" width="116.9" height="108.3" fill="none" stroke="#1c1c1c" stroke-width="1.4"/>
<path d="M241.3 824.5v3.8M250.1 824.5v2.4M255.2 824.5v2.4M258.9 824.5v2.4M261.7 824.5v2.4M264 824.5v2.4M266 824.5v2.4M267.7 824.5v2.4M269.2 824.5v2.4M270.5 824.5v3.8M279.3 824.5v2.4M284.5 824.5v2.4M288.1 824.5v2.4M291 824.5v2.4M293.3 824.5v2.4M295.2 824.5v2.4M296.9 824.5v2.4M298.4 824.5v2.4M299.8 824.5v3.8M308.5 824.5v2.4M313.7 824.5v2.4M317.3 824.5v2.4M320.2 824.5v2.4M322.5 824.5v2.4M324.4 824.5v2.4M326.1 824.5v2.4M327.6 824.5v2.4M329 824.5v3.8M337.8 824.5v2.4M342.9 824.5v2.4M346.6 824.5v2.4M349.4 824.5v2.4M351.7 824.5v2.4M353.7 824.5v2.4M355.4 824.5v2.4M356.9 824.5v2.4M358.2 824.5v3.8" stroke="#222" stroke-width="0.9" fill="none"/>
<path d="M241.3 716h-2.6M241.3 744.5h-2.6M241.3 771h-2.6M241.3 797.7h-2.6M241.3 824.4h-2.6M241.3 824.4h-1.3M241.3 819h-1.3M241.3 813.6h-1.3M241.3 808.1h-1.3M241.3 802.7h-1.3M241.3 797.3h-1.3M241.3 791.9h-1.3M241.3 786.5h-1.3M241.3 781h-1.3M241.3 775.6h-1.3M241.3 770.2h-1.3M241.3 764.8h-1.3M241.3 759.4h-1.3M241.3 753.9h-1.3M241.3 748.5h-1.3M241.3 743.1h-1.3M241.3 737.7h-1.3M241.3 732.3h-1.3M241.3 726.8h-1.3M241.3 721.4h-1.3" stroke="#222" stroke-width="1" fill="none"/>
<text x="236.6" y="720.4" font-size="12.3" font-weight="bold" text-anchor="end" fill="#111" textLength="22" lengthAdjust="spacingAndGlyphs" stroke="#111" stroke-width="0.5" stroke-linejoin="round">400</text>
<text x="236.6" y="748.9" font-size="12.3" font-weight="bold" text-anchor="end" fill="#111" textLength="22" lengthAdjust="spacingAndGlyphs" stroke="#111" stroke-width="0.5" stroke-linejoin="round">300</text>
<text x="236.6" y="775.4" font-size="12.3" font-weight="bold" text-anchor="end" fill="#111" textLength="22" lengthAdjust="spacingAndGlyphs" stroke="#111" stroke-width="0.5" stroke-linejoin="round">200</text>
<text x="236.6" y="802.1" font-size="12.3" font-weight="bold" text-anchor="end" fill="#111" textLength="22" lengthAdjust="spacingAndGlyphs" stroke="#111" stroke-width="0.5" stroke-linejoin="round">100</text>
<text x="233.9" y="828.8" font-size="12.3" font-weight="bold" text-anchor="end" fill="#111" textLength="7.4" lengthAdjust="spacingAndGlyphs" stroke="#111" stroke-width="0.5" stroke-linejoin="round">0</text>
<text x="352.9" y="730.4" font-size="13.9" font-weight="bold" text-anchor="end" fill="#111" textLength="45.8" lengthAdjust="spacingAndGlyphs" letter-spacing="0.6" stroke="#111" stroke-width="0.2" stroke-linejoin="round">Daudi</text>
<text x="348.9" y="746.5" font-size="13.3" font-weight="normal" text-anchor="end" fill="#111" textLength="26.2" lengthAdjust="spacingAndGlyphs" letter-spacing="0.45" stroke="#111" stroke-width="0.5" stroke-linejoin="round">(48)</text>
<path d="M393.5 822.8L393.5 822.6L394.3 822.6L395.1 822.6L395.9 822.6L396.7 822.6L397.5 822.6L398.3 822.6L399.1 822.6L399.9 822.6L400.7 822.6L401.5 822.6L402.3 822.6L403.1 822.6L403.9 822.2L404.7 821.7L405.5 821.2L406.3 821.5L407.1 821.1L407.9 820.1L408.7 818.6L409.5 818.1L410.3 817.6L411.1 815.8L411.9 813.6L412.7 811L413.5 809.4L414.3 806.9L415.1 803.6L415.9 799.2L416.7 795.1L417.5 788.1L418.3 780.2L419.1 769.3L419.9 765.5L420.7 757.7L421.5 755.1L422.3 743.7L423.1 743.6L423.9 748.5L424.7 742.5L425.5 731.7L426.3 746L427.1 743.6L427.9 742.4L428.7 750.9L429.5 756.2L430.3 765.3L431.1 765.3L431.9 769.1L432.7 768.3L433.5 772.7L434.3 776.8L435.1 780.3L435.9 783.8L436.7 783.9L437.5 786L438.3 783.1L439.1 788.3L439.9 789.5L440.7 794.1L441.5 796L442.3 798.1L443.1 799.7L443.9 803.2L444.7 806.5L445.5 809.6L446.3 809.7L447.1 813.7L447.9 815.1L448.7 815.6L449.5 817.7L450.3 818.2L451.1 818.8L451.9 820L452.7 820.4L453.5 821.1L454.3 821.8L455.1 822.6L455.9 822.3L456.7 822.2L457.5 822.3L458.3 822.4L459.1 822.5L459.9 822.6L460.7 822.6L461.5 822.6L462.3 822.6L463.1 822.6L463.9 822.6L464.7 822.6L465.5 822.6L466.3 822.6L467.1 822.6L467.9 822.6L468.7 822.6L469.5 822.6L470.3 822.6L471.1 822.6L471.9 822.6L472.7 822.6L473.5 822.6L474.3 822.6L475.1 822.6L475.9 822.6L476.7 822.6L477.5 822.6L478.3 822.6L479.1 822.6L479.9 822.6L480.7 822.6L481.5 822.6L482.3 822.6L483.1 822.6L483.9 822.6L484.7 822.6L485.5 822.6L486.3 822.6L487.1 822.6L487.9 822.6L488.7 822.6L489.5 822.6L490.3 822.6L491.1 822.6L491.9 822.6L492.7 822.6L493.5 822.6L494.3 822.6L495.1 822.6L495.9 822.6L496.7 822.6L497.5 822.6L498.3 822.6L499.1 822.6L499.9 822.6L500.7 822.6L501.5 822.6L502.3 822.6L503.1 822.6L503.9 822.6L504.7 822.6L505.5 822.6L506.3 822.6L507.1 822.6L507.9 822.6L508.7 822.6L509.5 822.6L510.3 822.6L510.3 822.8Z" fill="#898989"/>
<path d="M393.5 823L394.3 823L395.1 823L395.9 823L396.7 823L397.5 823L398.3 823L399.1 823L399.9 823L400.7 823L401.5 823L402.3 823L403.1 823L403.9 823L404.7 823L405.5 823L406.3 823L407.1 823L407.9 822.9L408.7 822.9L409.5 822.8L410.3 822.8L411.1 822.8L411.9 822.7L412.7 822.6L413.5 822.7L414.3 822.2L415.1 822.5L415.9 822.4L416.7 822.3L417.5 822.4L418.3 822.3L419.1 822.1L419.9 822.1L420.7 821.8L421.5 821.8L422.3 822L423.1 821.8L423.9 821.5L424.7 821.6L425.5 821.1L426.3 820.9L427.1 820.5L427.9 820.6L428.7 820.3L429.5 819.9L430.3 819.6L431.1 819.7L431.9 818.8L432.7 819L433.5 817.9L434.3 817.6L435.1 816.8L435.9 816.1L436.7 814.6L437.5 812.5L438.3 812.6L439.1 810.3L439.9 808.8L440.7 807.9L441.5 805.3L442.3 803.2L443.1 802L443.9 799.7L444.7 796L445.5 793.8L446.3 789.9L447.1 788.4L447.9 787L448.7 783.5L449.5 781.8L450.3 777.8L451.1 775.5L451.9 774.2L452.7 772.4L453.5 768.5L454.3 767.4L455.1 763.4L455.9 763.1L456.7 760.1L457.5 758.3L458.3 756.8L459.1 751L459.9 750.2L460.7 750.3L461.5 746.6L462.3 750L463.1 749.3L463.9 750.8L464.7 751.9L465.5 751.3L466.3 752.8L467.1 760.7L467.9 768.6L468.7 775.8L469.5 782L470.3 788.6L471.1 794.2L471.9 801.2L472.7 807.4L473.5 813.2L474.3 817L475.1 819.8L475.9 821.2L476.7 822.1L477.5 822.7L478.3 822.8L479.1 822.9L479.9 823L480.7 823L481.5 823L482.3 823L483.1 823L483.9 823L484.7 823L485.5 823L486.3 823L487.1 823L487.9 823L488.7 823L489.5 823L490.3 823L491.1 823L491.9 823L492.7 823L493.5 823L494.3 823L495.1 823L495.9 823L496.7 823L497.5 823L498.3 823L499.1 823L499.9 823L500.7 823L501.5 823L502.3 823L503.1 823L503.9 823L504.7 823L505.5 823L506.3 823L507.1 823L507.9 823L508.7 823L509.5 823L510.3 823" fill="none" stroke="#0a0a0a" stroke-width="2.8" stroke-linejoin="round" stroke-linecap="round"/>
<rect x="393" y="714.4" width="117.6" height="108.7" fill="none" stroke="#1c1c1c" stroke-width="1.4"/>
<path d="M393 823.1v3.8M401.9 823.1v2.4M407 823.1v2.4M410.7 823.1v2.4M413.5 823.1v2.4M415.9 823.1v2.4M417.8 823.1v2.4M419.6 823.1v2.4M421.1 823.1v2.4M422.4 823.1v3.8M431.3 823.1v2.4M436.4 823.1v2.4M440.1 823.1v2.4M442.9 823.1v2.4M445.3 823.1v2.4M447.2 823.1v2.4M449 823.1v2.4M450.5 823.1v2.4M451.8 823.1v3.8M460.7 823.1v2.4M465.8 823.1v2.4M469.5 823.1v2.4M472.3 823.1v2.4M474.7 823.1v2.4M476.6 823.1v2.4M478.4 823.1v2.4M479.9 823.1v2.4M481.2 823.1v3.8M490.1 823.1v2.4M495.2 823.1v2.4M498.9 823.1v2.4M501.7 823.1v2.4M504.1 823.1v2.4M506 823.1v2.4M507.8 823.1v2.4M509.3 823.1v2.4M510.6 823.1v3.8" stroke="#222" stroke-width="0.9" fill="none"/>
<path d="M393 730h-2.6M393 760.8h-2.6M393 791.9h-2.6M393 823.1h-2.6M393 823.1h-1.3M393 816.9h-1.3M393 810.7h-1.3M393 804.5h-1.3M393 798.3h-1.3M393 792.1h-1.3M393 785.9h-1.3M393 779.7h-1.3M393 773.4h-1.3M393 767.2h-1.3M393 761h-1.3M393 754.8h-1.3M393 748.6h-1.3M393 742.4h-1.3M393 736.2h-1.3M393 730h-1.3M393 723.8h-1.3M393 717.6h-1.3" stroke="#222" stroke-width="1" fill="none"/>
<text x="389.2" y="734.4" font-size="12.3" font-weight="bold" text-anchor="end" fill="#111" textLength="22" lengthAdjust="spacingAndGlyphs" stroke="#111" stroke-width="0.5" stroke-linejoin="round">300</text>
<text x="389.2" y="765.2" font-size="12.3" font-weight="bold" text-anchor="end" fill="#111" textLength="22" lengthAdjust="spacingAndGlyphs" stroke="#111" stroke-width="0.5" stroke-linejoin="round">200</text>
<text x="389.2" y="796.3" font-size="12.3" font-weight="bold" text-anchor="end" fill="#111" textLength="22" lengthAdjust="spacingAndGlyphs" stroke="#111" stroke-width="0.5" stroke-linejoin="round">100</text>
<text x="386.5" y="827.5" font-size="12.3" font-weight="bold" text-anchor="end" fill="#111" textLength="7.4" lengthAdjust="spacingAndGlyphs" stroke="#111" stroke-width="0.5" stroke-linejoin="round">0</text>
<text x="506.6" y="730.3" font-size="13.9" font-weight="bold" text-anchor="end" fill="#111" textLength="55.1" lengthAdjust="spacingAndGlyphs" letter-spacing="0.6" stroke="#111" stroke-width="0.2" stroke-linejoin="round">DOHH2</text>
<text x="507.1" y="746.5" font-size="13.3" font-weight="normal" text-anchor="end" fill="#111" textLength="35.9" lengthAdjust="spacingAndGlyphs" letter-spacing="0.45" stroke="#111" stroke-width="0.5" stroke-linejoin="round">(130)</text>
<path d="M90.9 940.6L90.9 940.2L91.7 940.2L92.5 940.2L93.3 940.2L94.1 940.2L94.9 940.2L95.7 940.2L96.5 940.2L97.3 940.2L98.1 940.2L98.9 940.2L99.7 940.2L100.5 940.2L101.3 940.2L102.1 940.2L102.9 940.2L103.7 940L104.5 939.5L105.3 939.9L106.1 939.4L106.9 939.3L107.7 939.1L108.5 938.4L109.3 937.4L110.1 935.9L110.9 934.1L111.7 931.7L112.5 929.1L113.3 924.2L114.1 919.6L114.9 912.9L115.7 905.6L116.5 898.1L117.3 890.9L118.1 881.3L118.9 874.1L119.7 866.4L120.5 860L121.3 855.8L122.1 849.2L122.9 847.9L123.7 847.2L124.5 854L125.3 858.6L126.1 865.8L126.9 871.9L127.7 876.7L128.5 882.7L129.3 888.4L130.1 896.4L130.9 899.3L131.7 905.5L132.5 909.7L133.3 914.1L134.1 918.5L134.9 921.6L135.7 924.8L136.5 928.3L137.3 931.2L138.1 932.7L138.9 934.4L139.7 935.5L140.5 936.8L141.3 938.3L142.1 938.7L142.9 939L143.7 939L144.5 939.5L145.3 939.6L146.1 939.9L146.9 940.2L147.7 940.2L148.5 940.2L149.3 940.2L150.1 940.2L150.9 940.2L151.7 940.2L152.5 940.2L153.3 940.2L154.1 940.2L154.9 940.2L155.7 940.2L156.5 940.2L157.3 940.2L158.1 940.2L158.9 940.2L159.7 940.2L160.5 940.2L161.3 940.2L162.1 940.2L162.9 940.2L163.7 940.2L164.5 940.2L165.3 940.2L166.1 940.2L166.9 940.2L167.7 940.2L168.5 940.2L169.3 940.2L170.1 940.2L170.9 940.2L171.7 940.2L172.5 940.2L173.3 940.2L174.1 940.2L174.9 940.2L175.7 940.2L176.5 940.2L177.3 940.2L178.1 940.2L178.9 940.2L179.7 940.2L180.5 940.2L181.3 940.2L182.1 940.2L182.9 940.2L183.7 940.2L184.5 940.2L185.3 940.2L186.1 940.2L186.9 940.2L187.7 940.2L188.5 940.2L189.3 940.2L190.1 940.2L190.9 940.2L191.7 940.2L192.5 940.2L193.3 940.2L194.1 940.2L194.9 940.2L195.7 940.2L196.5 940.2L197.3 940.2L198.1 940.2L198.9 940.2L199.7 940.2L200.5 940.2L201.3 940.2L202.1 940.2L202.9 940.2L203.7 940.2L204.5 940.2L205.3 940.2L206.1 940.2L206.1 940.6Z" fill="#898989"/>
<path d="M90.9 940.7L91.7 940.7L92.5 940.7L93.3 940.7L94.1 940.7L94.9 940.7L95.7 940.7L96.5 940.7L97.3 940.7L98.1 940.7L98.9 940.7L99.7 940.7L100.5 940.7L101.3 940.7L102.1 940.7L102.9 940.7L103.7 940.7L104.5 940.7L105.3 940.7L106.1 940.7L106.9 940.7L107.7 940.7L108.5 940.7L109.3 940.6L110.1 940.6L110.9 940.6L111.7 940.5L112.5 940.5L113.3 940.6L114.1 940.3L114.9 940.1L115.7 940.3L116.5 940.1L117.3 940L118.1 940L118.9 939.8L119.7 939.6L120.5 939.6L121.3 939.5L122.1 939.3L122.9 938.7L123.7 938.5L124.5 938.2L125.3 938.3L126.1 937.6L126.9 937.1L127.7 936.7L128.5 936.1L129.3 934.8L130.1 934.3L130.9 933.7L131.7 933L132.5 932.3L133.3 931.2L134.1 929.5L134.9 928.6L135.7 926.5L136.5 923.3L137.3 921.6L138.1 917.9L138.9 912.3L139.7 908.5L140.5 904.3L141.3 900.8L142.1 897.5L142.9 892.5L143.7 892.3L144.5 887.7L145.3 886.2L146.1 884.4L146.9 884.6L147.7 881.8L148.5 884.2L149.3 886.1L150.1 885L150.9 885L151.7 883.4L152.5 883.5L153.3 884.6L154.1 888.9L154.9 890.9L155.7 894.5L156.5 898.4L157.3 900.8L158.1 903.5L158.9 908.1L159.7 911.2L160.5 915.9L161.3 919.8L162.1 923L162.9 927L163.7 930.8L164.5 932.9L165.3 934.9L166.1 936.4L166.9 938L167.7 938.8L168.5 939.2L169.3 939.8L170.1 940.1L170.9 940.3L171.7 940.5L172.5 940.5L173.3 940.6L174.1 940.6L174.9 940.7L175.7 940.7L176.5 940.7L177.3 940.7L178.1 940.7L178.9 940.7L179.7 940.7L180.5 940.7L181.3 940.7L182.1 940.7L182.9 940.7L183.7 940.7L184.5 940.7L185.3 940.7L186.1 940.7L186.9 940.7L187.7 940.7L188.5 940.7L189.3 940.7L190.1 940.7L190.9 940.7L191.7 940.7L192.5 940.7L193.3 940.7L194.1 940.7L194.9 940.7L195.7 940.7L196.5 940.7L197.3 940.7L198.1 940.7L198.9 940.7L199.7 940.7L200.5 940.7L201.3 940.7L202.1 940.7L202.9 940.7L203.7 940.7L204.5 940.7L205.3 940.7L206.1 940.7" fill="none" stroke="#0a0a0a" stroke-width="2.8" stroke-linejoin="round" stroke-linecap="round"/>
<rect x="90.4" y="832.6" width="116.6" height="108.3" fill="none" stroke="#1c1c1c" stroke-width="1.4"/>
<path d="M90.4 940.9v3.8M99.2 940.9v2.4M104.3 940.9v2.4M108 940.9v2.4M110.8 940.9v2.4M113.1 940.9v2.4M115 940.9v2.4M116.7 940.9v2.4M118.2 940.9v2.4M119.6 940.9v3.8M128.3 940.9v2.4M133.5 940.9v2.4M137.1 940.9v2.4M139.9 940.9v2.4M142.2 940.9v2.4M144.2 940.9v2.4M145.9 940.9v2.4M147.4 940.9v2.4M148.7 940.9v3.8M157.5 940.9v2.4M162.6 940.9v2.4M166.3 940.9v2.4M169.1 940.9v2.4M171.4 940.9v2.4M173.3 940.9v2.4M175 940.9v2.4M176.5 940.9v2.4M177.8 940.9v3.8M186.6 940.9v2.4M191.8 940.9v2.4M195.4 940.9v2.4M198.2 940.9v2.4M200.5 940.9v2.4M202.5 940.9v2.4M204.2 940.9v2.4M205.7 940.9v2.4M207 940.9v3.8" stroke="#222" stroke-width="0.9" fill="none"/>
<path d="M90.4 845.5h-2.6M90.4 868.8h-2.6M90.4 893h-2.6M90.4 917.2h-2.6M90.4 941h-2.6M90.4 941h-1.3M90.4 936.2h-1.3M90.4 931.5h-1.3M90.4 926.7h-1.3M90.4 921.9h-1.3M90.4 917.1h-1.3M90.4 912.4h-1.3M90.4 907.6h-1.3M90.4 902.8h-1.3M90.4 898h-1.3M90.4 893.3h-1.3M90.4 888.5h-1.3M90.4 883.7h-1.3M90.4 878.9h-1.3M90.4 874.2h-1.3M90.4 869.4h-1.3M90.4 864.6h-1.3M90.4 859.8h-1.3M90.4 855.1h-1.3M90.4 850.3h-1.3M90.4 845.5h-1.3M90.4 840.7h-1.3M90.4 836h-1.3" stroke="#222" stroke-width="1" fill="none"/>
<text x="85.4" y="849.9" font-size="12.3" font-weight="bold" text-anchor="end" fill="#111" textLength="22" lengthAdjust="spacingAndGlyphs" stroke="#111" stroke-width="0.5" stroke-linejoin="round">400</text>
<text x="85.4" y="873.2" font-size="12.3" font-weight="bold" text-anchor="end" fill="#111" textLength="22" lengthAdjust="spacingAndGlyphs" stroke="#111" stroke-width="0.5" stroke-linejoin="round">300</text>
<text x="85.4" y="897.4" font-size="12.3" font-weight="bold" text-anchor="end" fill="#111" textLength="22" lengthAdjust="spacingAndGlyphs" stroke="#111" stroke-width="0.5" stroke-linejoin="round">200</text>
<text x="85.4" y="921.6" font-size="12.3" font-weight="bold" text-anchor="end" fill="#111" textLength="22" lengthAdjust="spacingAndGlyphs" stroke="#111" stroke-width="0.5" stroke-linejoin="round">100</text>
<text x="82.7" y="945.4" font-size="12.3" font-weight="bold" text-anchor="end" fill="#111" textLength="7.4" lengthAdjust="spacingAndGlyphs" stroke="#111" stroke-width="0.5" stroke-linejoin="round">0</text>
<text x="201.4" y="851.4" font-size="13.9" font-weight="bold" text-anchor="end" fill="#111" textLength="43.3" lengthAdjust="spacingAndGlyphs" letter-spacing="0.6" stroke="#111" stroke-width="0.2" stroke-linejoin="round">KEM I</text>
<text x="200.9" y="866.2" font-size="13.3" font-weight="normal" text-anchor="end" fill="#111" textLength="25.7" lengthAdjust="spacingAndGlyphs" letter-spacing="0.45" stroke="#111" stroke-width="0.5" stroke-linejoin="round">(55)</text>
<path d="M241.8 943L241.8 942.6L242.6 942.6L243.4 942.6L244.2 942.6L245 942.6L245.8 942.6L246.6 942.6L247.4 942.6L248.2 942.6L249 942.6L249.8 942.6L250.6 942.6L251.4 942.6L252.2 942.6L253 942.6L253.8 942.6L254.6 942.6L255.4 942.6L256.2 942.6L257 942.6L257.8 942.6L258.6 942.6L259.4 942.6L260.2 942.6L261 942.6L261.8 942.6L262.6 942.5L263.4 942.5L264.2 942.6L265 942L265.8 942.1L266.6 942.1L267.4 941.2L268.2 940.6L269 938L269.8 937L270.6 934.9L271.4 931.4L272.2 929.6L273 924.8L273.8 920.5L274.6 915.8L275.4 910.8L276.2 906.6L277 898.2L277.8 893.6L278.6 884.8L279.4 880.5L280.2 876.3L281 872L281.8 868.9L282.6 868.8L283.4 870.6L284.2 868.9L285 867.8L285.8 866.2L286.6 865.9L287.4 867.3L288.2 870.8L289 871.8L289.8 875.7L290.6 877.9L291.4 882L292.2 889L293 896.7L293.8 902.3L294.6 906L295.4 910.4L296.2 914.6L297 917L297.8 922.1L298.6 923.5L299.4 926.9L300.2 927.9L301 928.5L301.8 930.8L302.6 932.7L303.4 933.9L304.2 936L305 935.7L305.8 937.3L306.6 938L307.4 938.5L308.2 938.7L309 939.5L309.8 939.9L310.6 939.9L311.4 940.4L312.2 940.5L313 941L313.8 941.2L314.6 942L315.4 942L316.2 942.1L317 942.1L317.8 942.4L318.6 942.4L319.4 942.5L320.2 942.5L321 942.6L321.8 942.6L322.6 942.6L323.4 942.6L324.2 942.6L325 942.6L325.8 942.6L326.6 942.6L327.4 942.6L328.2 942.6L329 942.6L329.8 942.6L330.6 942.6L331.4 942.6L332.2 942.6L333 942.6L333.8 942.6L334.6 942.6L335.4 942.6L336.2 942.6L337 942.6L337.8 942.6L338.6 942.6L339.4 942.6L340.2 942.6L341 942.6L341.8 942.6L342.6 942.6L343.4 942.6L344.2 942.6L345 942.6L345.8 942.6L346.6 942.6L347.4 942.6L348.2 942.6L349 942.6L349.8 942.6L350.6 942.6L351.4 942.6L352.2 942.6L353 942.6L353.8 942.6L354.6 942.6L355.4 942.6L356.2 942.6L357 942.6L357.8 942.6L357.8 943Z" fill="#898989"/>
<path d="M241.8 943.1L242.6 943.1L243.4 943.1L244.2 943.1L245 943.1L245.8 943.1L246.6 943.1L247.4 943.1L248.2 943.1L249 943.1L249.8 943.1L250.6 943.1L251.4 943.1L252.2 943.1L253 943.1L253.8 943.1L254.6 943.1L255.4 943.1L256.2 943.1L257 943.1L257.8 943.1L258.6 943.1L259.4 943.1L260.2 943.1L261 943.1L261.8 943.1L262.6 943.1L263.4 943.1L264.2 943.1L265 943L265.8 943L266.6 942.9L267.4 942.9L268.2 942.9L269 942.7L269.8 942.6L270.6 942.4L271.4 942.4L272.2 942.3L273 942.2L273.8 942L274.6 941.8L275.4 941.7L276.2 941.4L277 940.7L277.8 940.6L278.6 940.1L279.4 940.1L280.2 939.3L281 938.9L281.8 938.1L282.6 937.6L283.4 936.6L284.2 935.7L285 934.4L285.8 933.9L286.6 931.9L287.4 929L288.2 926.3L289 924.4L289.8 921.6L290.6 917.4L291.4 914L292.2 909.4L293 903.6L293.8 899.5L294.6 895.7L295.4 890.3L296.2 884.5L297 880.3L297.8 875.6L298.6 874.2L299.4 872.6L300.2 875.2L301 873L301.8 871.3L302.6 870.5L303.4 868.6L304.2 870.1L305 871.9L305.8 872.2L306.6 871.2L307.4 873.2L308.2 879.6L309 886.3L309.8 888.8L310.6 893.3L311.4 897.8L312.2 902.8L313 907.5L313.8 912.1L314.6 918.3L315.4 922.2L316.2 927L317 930.6L317.8 934.3L318.6 937.1L319.4 939.4L320.2 940.9L321 941.5L321.8 942.4L322.6 942.4L323.4 942.8L324.2 943L325 942.9L325.8 943L326.6 943L327.4 943.1L328.2 943.1L329 943.1L329.8 943.1L330.6 943.1L331.4 943.1L332.2 943.1L333 943.1L333.8 943.1L334.6 943.1L335.4 943.1L336.2 943.1L337 943.1L337.8 943.1L338.6 943.1L339.4 943.1L340.2 943.1L341 943.1L341.8 943.1L342.6 943.1L343.4 943.1L344.2 943.1L345 943.1L345.8 943.1L346.6 943.1L347.4 943.1L348.2 943.1L349 943.1L349.8 943.1L350.6 943.1L351.4 943.1L352.2 943.1L353 943.1L353.8 943.1L354.6 943.1L355.4 943.1L356.2 943.1L357 943.1L357.8 943.1" fill="none" stroke="#0a0a0a" stroke-width="2.8" stroke-linejoin="round" stroke-linecap="round"/>
<rect x="241.3" y="835" width="116.9" height="108.3" fill="none" stroke="#1c1c1c" stroke-width="1.4"/>
<path d="M241.3 943.3v3.8M250.1 943.3v2.4M255.2 943.3v2.4M258.9 943.3v2.4M261.7 943.3v2.4M264 943.3v2.4M266 943.3v2.4M267.7 943.3v2.4M269.2 943.3v2.4M270.5 943.3v3.8M279.3 943.3v2.4M284.5 943.3v2.4M288.1 943.3v2.4M291 943.3v2.4M293.3 943.3v2.4M295.2 943.3v2.4M296.9 943.3v2.4M298.4 943.3v2.4M299.8 943.3v3.8M308.5 943.3v2.4M313.7 943.3v2.4M317.3 943.3v2.4M320.2 943.3v2.4M322.5 943.3v2.4M324.4 943.3v2.4M326.1 943.3v2.4M327.6 943.3v2.4M329 943.3v3.8M337.8 943.3v2.4M342.9 943.3v2.4M346.6 943.3v2.4M349.4 943.3v2.4M351.7 943.3v2.4M353.7 943.3v2.4M355.4 943.3v2.4M356.9 943.3v2.4M358.2 943.3v3.8" stroke="#222" stroke-width="0.9" fill="none"/>
<path d="M241.3 834.5h-2.6M241.3 862.5h-2.6M241.3 889.5h-2.6M241.3 916h-2.6M241.3 943.3h-2.6M241.3 943.3h-1.3M241.3 937.9h-1.3M241.3 932.4h-1.3M241.3 927h-1.3M241.3 921.5h-1.3M241.3 916.1h-1.3M241.3 910.7h-1.3M241.3 905.2h-1.3M241.3 899.8h-1.3M241.3 894.3h-1.3M241.3 888.9h-1.3M241.3 883.5h-1.3M241.3 878h-1.3M241.3 872.6h-1.3M241.3 867.1h-1.3M241.3 861.7h-1.3M241.3 856.3h-1.3M241.3 850.8h-1.3M241.3 845.4h-1.3M241.3 839.9h-1.3" stroke="#222" stroke-width="1" fill="none"/>
<text x="236.6" y="838.9" font-size="12.3" font-weight="bold" text-anchor="end" fill="#111" textLength="22" lengthAdjust="spacingAndGlyphs" stroke="#111" stroke-width="0.5" stroke-linejoin="round">400</text>
<text x="236.6" y="866.9" font-size="12.3" font-weight="bold" text-anchor="end" fill="#111" textLength="22" lengthAdjust="spacingAndGlyphs" stroke="#111" stroke-width="0.5" stroke-linejoin="round">300</text>
<text x="236.6" y="893.9" font-size="12.3" font-weight="bold" text-anchor="end" fill="#111" textLength="22" lengthAdjust="spacingAndGlyphs" stroke="#111" stroke-width="0.5" stroke-linejoin="round">200</text>
<text x="236.6" y="920.4" font-size="12.3" font-weight="bold" text-anchor="end" fill="#111" textLength="22" lengthAdjust="spacingAndGlyphs" stroke="#111" stroke-width="0.5" stroke-linejoin="round">100</text>
<text x="233.9" y="947.7" font-size="12.3" font-weight="bold" text-anchor="end" fill="#111" textLength="7.4" lengthAdjust="spacingAndGlyphs" stroke="#111" stroke-width="0.5" stroke-linejoin="round">0</text>
<text x="353.9" y="851.8" font-size="13.9" font-weight="bold" text-anchor="end" fill="#111" textLength="75.1" lengthAdjust="spacingAndGlyphs" letter-spacing="0.6" stroke="#111" stroke-width="0.2" stroke-linejoin="round">NU-DUL-1</text>
<text x="348.9" y="867.5" font-size="13.3" font-weight="normal" text-anchor="end" fill="#111" textLength="26.2" lengthAdjust="spacingAndGlyphs" letter-spacing="0.45" stroke="#111" stroke-width="0.5" stroke-linejoin="round">(80)</text>
<path d="M393.5 940.6L393.5 940.6L394.3 940.6L395.1 940.6L395.9 940.6L396.7 940.6L397.5 940.6L398.3 940.6L399.1 940.6L399.9 940.6L400.7 940.6L401.5 940.6L402.3 940.6L403.1 940.6L403.9 940.6L404.7 940.6L405.5 940.6L406.3 940.6L407.1 940.6L407.9 940.6L408.7 940.6L409.5 940.6L410.3 940.6L411.1 940.6L411.9 940.6L412.7 940.6L413.5 940.6L414.3 940.6L415.1 940.6L415.9 940.6L416.7 940.6L417.5 940.6L418.3 940.6L419.1 940.6L419.9 940.4L420.7 940.2L421.5 939.4L422.3 938L423.1 935.2L423.9 932.8L424.7 926.8L425.5 920.9L426.3 914L427.1 902.2L427.9 892.2L428.7 882.6L429.5 870.1L430.3 862.7L431.1 849.1L431.9 842.1L432.7 836.7L433.5 844.1L434.3 853.2L435.1 866.9L435.9 873.9L436.7 886L437.5 894.8L438.3 905.3L439.1 913.4L439.9 923.4L440.7 929.7L441.5 933L442.3 936.8L443.1 937.7L443.9 939.4L444.7 940.1L445.5 940.4L446.3 940.6L447.1 940.6L447.9 940.6L448.7 940.6L449.5 940.6L450.3 940.6L451.1 940.6L451.9 940.6L452.7 940.6L453.5 940.6L454.3 940.6L455.1 940.6L455.9 940.6L456.7 940.6L457.5 940.6L458.3 940.6L459.1 940.6L459.9 940.6L460.7 940.6L461.5 940.6L462.3 940.6L463.1 940.6L463.9 940.6L464.7 940.6L465.5 940.6L466.3 940.6L467.1 940.6L467.9 940.6L468.7 940.6L469.5 940.6L470.3 940.6L471.1 940.6L471.9 940.6L472.7 940.6L473.5 940.6L474.3 940.6L475.1 940.6L475.9 940.6L476.7 940.6L477.5 940.6L478.3 940.6L479.1 940.6L479.9 940.6L480.7 940.6L481.5 940.6L482.3 940.6L483.1 940.6L483.9 940.6L484.7 940.6L485.5 940.6L486.3 940.6L487.1 940.6L487.9 940.6L488.7 940.6L489.5 940.6L490.3 940.6L491.1 940.6L491.9 940.6L492.7 940.6L493.5 940.6L494.3 940.6L495.1 940.6L495.9 940.6L496.7 940.6L497.5 940.6L498.3 940.6L499.1 940.6L499.9 940.6L500.7 940.6L501.5 940.6L502.3 940.6L503.1 940.6L503.9 940.6L504.7 940.6L505.5 940.6L506.3 940.6L507.1 940.6L507.9 940.6L508.7 940.6L509.5 940.6L510.3 940.6L510.3 940.6Z" fill="#898989"/>
<path d="M393.5 940.8L394.3 940.8L395.1 940.8L395.9 940.8L396.7 940.8L397.5 940.8L398.3 940.8L399.1 940.8L399.9 940.8L400.7 940.8L401.5 940.8L402.3 940.8L403.1 940.8L403.9 940.8L404.7 940.8L405.5 940.8L406.3 940.8L407.1 940.8L407.9 940.8L408.7 940.8L409.5 940.8L410.3 940.8L411.1 940.8L411.9 940.8L412.7 940.8L413.5 940.8L414.3 940.8L415.1 940.8L415.9 940.8L416.7 940.8L417.5 940.8L418.3 940.8L419.1 940.8L419.9 940.8L420.7 940.8L421.5 940.8L422.3 940.8L423.1 940.8L423.9 940.8L424.7 940.8L425.5 940.8L426.3 940.8L427.1 940.8L427.9 940.8L428.7 940.8L429.5 940.8L430.3 940.8L431.1 940.8L431.9 940.8L432.7 940.8L433.5 940.8L434.3 940.8L435.1 940.8L435.9 940.8L436.7 940.8L437.5 940.8L438.3 940.7L439.1 940L439.9 938.8L440.7 937.2L441.5 935.2L442.3 931.7L443.1 926.9L443.9 922.1L444.7 915.8L445.5 910.3L446.3 902.2L447.1 895.7L447.9 888.9L448.7 882.1L449.5 876.2L450.3 868.3L451.1 864.3L451.9 864L452.7 863.2L453.5 868.7L454.3 874.9L455.1 879.5L455.9 879.7L456.7 883.3L457.5 889.7L458.3 895.7L459.1 902L459.9 909.5L460.7 916.1L461.5 921.8L462.3 927L463.1 930.6L463.9 933.3L464.7 935.9L465.5 938L466.3 939.2L467.1 939.9L467.9 940.5L468.7 940.8L469.5 940.8L470.3 940.8L471.1 940.8L471.9 940.8L472.7 940.8L473.5 940.8L474.3 940.8L475.1 940.8L475.9 940.8L476.7 940.8L477.5 940.8L478.3 940.8L479.1 940.8L479.9 940.8L480.7 940.8L481.5 940.8L482.3 940.8L483.1 940.8L483.9 940.8L484.7 940.8L485.5 940.8L486.3 940.8L487.1 940.8L487.9 940.8L488.7 940.8L489.5 940.8L490.3 940.8L491.1 940.8L491.9 940.8L492.7 940.8L493.5 940.8L494.3 940.8L495.1 940.8L495.9 940.8L496.7 940.8L497.5 940.8L498.3 940.8L499.1 940.8L499.9 940.8L500.7 940.8L501.5 940.8L502.3 940.8L503.1 940.8L503.9 940.8L504.7 940.8L505.5 940.8L506.3 940.8L507.1 940.8L507.9 940.8L508.7 940.8L509.5 940.8L510.3 940.8" fill="none" stroke="#0a0a0a" stroke-width="2.8" stroke-linejoin="round" stroke-linecap="round"/>
<rect x="393" y="833" width="117.6" height="107.9" fill="none" stroke="#1c1c1c" stroke-width="1.4"/>
<path d="M393 940.9v3.8M401.9 940.9v2.4M407 940.9v2.4M410.7 940.9v2.4M413.5 940.9v2.4M415.9 940.9v2.4M417.8 940.9v2.4M419.6 940.9v2.4M421.1 940.9v2.4M422.4 940.9v3.8M431.3 940.9v2.4M436.4 940.9v2.4M440.1 940.9v2.4M442.9 940.9v2.4M445.3 940.9v2.4M447.2 940.9v2.4M449 940.9v2.4M450.5 940.9v2.4M451.8 940.9v3.8M460.7 940.9v2.4M465.8 940.9v2.4M469.5 940.9v2.4M472.3 940.9v2.4M474.7 940.9v2.4M476.6 940.9v2.4M478.4 940.9v2.4M479.9 940.9v2.4M481.2 940.9v3.8M490.1 940.9v2.4M495.2 940.9v2.4M498.9 940.9v2.4M501.7 940.9v2.4M504.1 940.9v2.4M506 940.9v2.4M507.8 940.9v2.4M509.3 940.9v2.4M510.6 940.9v3.8" stroke="#222" stroke-width="0.9" fill="none"/>
<path d="M393 845.6h-2.6M393 869.2h-2.6M393 892.8h-2.6M393 916.5h-2.6M393 940.9h-2.6M393 940.9h-1.3M393 936.1h-1.3M393 931.4h-1.3M393 926.6h-1.3M393 921.8h-1.3M393 917.1h-1.3M393 912.3h-1.3M393 907.5h-1.3M393 902.8h-1.3M393 898h-1.3M393 893.3h-1.3M393 888.5h-1.3M393 883.7h-1.3M393 879h-1.3M393 874.2h-1.3M393 869.4h-1.3M393 864.7h-1.3M393 859.9h-1.3M393 855.1h-1.3M393 850.4h-1.3M393 845.6h-1.3M393 840.8h-1.3M393 836.1h-1.3" stroke="#222" stroke-width="1" fill="none"/>
<text x="389.2" y="850" font-size="12.3" font-weight="bold" text-anchor="end" fill="#111" textLength="22" lengthAdjust="spacingAndGlyphs" stroke="#111" stroke-width="0.5" stroke-linejoin="round">400</text>
<text x="389.2" y="873.6" font-size="12.3" font-weight="bold" text-anchor="end" fill="#111" textLength="22" lengthAdjust="spacingAndGlyphs" stroke="#111" stroke-width="0.5" stroke-linejoin="round">300</text>
<text x="389.2" y="897.2" font-size="12.3" font-weight="bold" text-anchor="end" fill="#111" textLength="22" lengthAdjust="spacingAndGlyphs" stroke="#111" stroke-width="0.5" stroke-linejoin="round">200</text>
<text x="389.2" y="920.9" font-size="12.3" font-weight="bold" text-anchor="end" fill="#111" textLength="22" lengthAdjust="spacingAndGlyphs" stroke="#111" stroke-width="0.5" stroke-linejoin="round">100</text>
<text x="386.5" y="945.3" font-size="12.3" font-weight="bold" text-anchor="end" fill="#111" textLength="7.4" lengthAdjust="spacingAndGlyphs" stroke="#111" stroke-width="0.5" stroke-linejoin="round">0</text>
<text x="507.6" y="851.6" font-size="13.9" font-weight="bold" text-anchor="end" fill="#111" textLength="62.7" lengthAdjust="spacingAndGlyphs" letter-spacing="0.6" stroke="#111" stroke-width="0.2" stroke-linejoin="round">OCI-Ly7</text>
<text x="501.8" y="868.5" font-size="13.3" font-weight="normal" text-anchor="end" fill="#111" textLength="26.6" lengthAdjust="spacingAndGlyphs" letter-spacing="0.45" stroke="#111" stroke-width="0.5" stroke-linejoin="round">(76)</text>
<path d="M90.9 1063L90.9 1063L91.7 1063L92.5 1063L93.3 1063L94.1 1063L94.9 1062.9L95.7 1062.9L96.5 1062.9L97.3 1062.8L98.1 1062.7L98.9 1062.5L99.7 1062.4L100.5 1062.1L101.3 1061.5L102.1 1061.2L102.9 1060.5L103.7 1059.2L104.5 1058.8L105.3 1055.4L106.1 1053.4L106.9 1050.7L107.7 1047.7L108.5 1043.1L109.3 1038.5L110.1 1033.9L110.9 1028.9L111.7 1022.3L112.5 1014.9L113.3 1009.1L114.1 999.9L114.9 992.6L115.7 990.5L116.5 981.8L117.3 981.1L118.1 979.5L118.9 981.9L119.7 987.2L120.5 993.4L121.3 1000L122.1 1010L122.9 1014.9L123.7 1025.8L124.5 1031.3L125.3 1037.5L126.1 1044.2L126.9 1048.2L127.7 1052L128.5 1055.2L129.3 1057.4L130.1 1058L130.9 1059.6L131.7 1061L132.5 1061.5L133.3 1062L134.1 1062.4L134.9 1062.6L135.7 1062.8L136.5 1062.9L137.3 1062.9L138.1 1062.9L138.9 1063L139.7 1063L140.5 1063L141.3 1063L142.1 1063L142.9 1063L143.7 1063L144.5 1063L145.3 1063L146.1 1063L146.9 1063L147.7 1063L148.5 1063L149.3 1063L150.1 1063L150.9 1063L151.7 1063L152.5 1063L153.3 1063L154.1 1063L154.9 1063L155.7 1063L156.5 1063L157.3 1063L158.1 1063L158.9 1063L159.7 1063L160.5 1063L161.3 1063L162.1 1063L162.9 1063L163.7 1063L164.5 1063L165.3 1063L166.1 1063L166.9 1063L167.7 1063L168.5 1063L169.3 1063L170.1 1063L170.9 1063L171.7 1063L172.5 1063L173.3 1063L174.1 1063L174.9 1063L175.7 1063L176.5 1063L177.3 1063L178.1 1063L178.9 1063L179.7 1063L180.5 1063L181.3 1063L182.1 1063L182.9 1063L183.7 1063L184.5 1063L185.3 1063L186.1 1063L186.9 1063L187.7 1063L188.5 1063L189.3 1063L190.1 1063L190.9 1063L191.7 1063L192.5 1063L193.3 1063L194.1 1063L194.9 1063L195.7 1063L196.5 1063L197.3 1063L198.1 1063L198.9 1063L199.7 1063L200.5 1063L201.3 1063L202.1 1063L202.9 1063L203.7 1063L204.5 1063L205.3 1063L206.1 1063L206.1 1063Z" fill="#898989"/>
<path d="M90.9 1063.2L91.7 1063.2L92.5 1063.2L93.3 1063.2L94.1 1063.2L94.9 1063.2L95.7 1063.2L96.5 1063.2L97.3 1063.2L98.1 1063.2L98.9 1063.2L99.7 1063.2L100.5 1063.2L101.3 1063.2L102.1 1063.2L102.9 1063.2L103.7 1063.2L104.5 1063.2L105.3 1063.2L106.1 1063.2L106.9 1063.2L107.7 1063.2L108.5 1063.2L109.3 1063.2L110.1 1063.2L110.9 1063.2L111.7 1063.2L112.5 1063.2L113.3 1063.2L114.1 1063.2L114.9 1063.2L115.7 1063.2L116.5 1063.2L117.3 1063.2L118.1 1063.2L118.9 1063.2L119.7 1063.2L120.5 1063.2L121.3 1063.2L122.1 1063.2L122.9 1063.2L123.7 1063.2L124.5 1063.2L125.3 1063.2L126.1 1063.2L126.9 1063.2L127.7 1063.2L128.5 1063.2L129.3 1063.2L130.1 1063.2L130.9 1063.2L131.7 1063.2L132.5 1063.2L133.3 1063.2L134.1 1063.2L134.9 1063.2L135.7 1063.2L136.5 1063.2L137.3 1063.2L138.1 1063.2L138.9 1063.2L139.7 1063.2L140.5 1063L141.3 1062.8L142.1 1062.3L142.9 1061.3L143.7 1060.4L144.5 1059L145.3 1056.9L146.1 1054.8L146.9 1050.6L147.7 1045.9L148.5 1040.8L149.3 1032.9L150.1 1027.5L150.9 1020L151.7 1012.4L152.5 1004.8L153.3 998.1L154.1 995.7L154.9 992L155.7 988.3L156.5 990.3L157.3 993.4L158.1 998.3L158.9 1003.8L159.7 1012.7L160.5 1021.7L161.3 1030.2L162.1 1037.6L162.9 1043.9L163.7 1049.7L164.5 1054.1L165.3 1056.5L166.1 1058.8L166.9 1060.7L167.7 1061.4L168.5 1062.3L169.3 1062.9L170.1 1063.1L170.9 1063.2L171.7 1063.2L172.5 1063.2L173.3 1063.2L174.1 1063.2L174.9 1063.2L175.7 1063.2L176.5 1063.2L177.3 1063.2L178.1 1063.2L178.9 1063.2L179.7 1063.2L180.5 1063.2L181.3 1063.2L182.1 1063.2L182.9 1063.2L183.7 1063.2L184.5 1063.2L185.3 1063.2L186.1 1063.2L186.9 1063.2L187.7 1063.2L188.5 1063.2L189.3 1063.2L190.1 1063.2L190.9 1063.2L191.7 1063.2L192.5 1063.2L193.3 1063.2L194.1 1063.2L194.9 1063.2L195.7 1063.2L196.5 1063.2L197.3 1063.2L198.1 1063.2L198.9 1063.2L199.7 1063.2L200.5 1063.2L201.3 1063.2L202.1 1063.2L202.9 1063.2L203.7 1063.2L204.5 1063.2L205.3 1063.2L206.1 1063.2" fill="none" stroke="#0a0a0a" stroke-width="2.8" stroke-linejoin="round" stroke-linecap="round"/>
<rect x="90.4" y="955" width="116.6" height="108.3" fill="none" stroke="#1c1c1c" stroke-width="1.4"/>
<path d="M90.4 1063.3v3.8M99.2 1063.3v2.4M104.3 1063.3v2.4M108 1063.3v2.4M110.8 1063.3v2.4M113.1 1063.3v2.4M115 1063.3v2.4M116.7 1063.3v2.4M118.2 1063.3v2.4M119.6 1063.3v3.8M128.3 1063.3v2.4M133.5 1063.3v2.4M137.1 1063.3v2.4M139.9 1063.3v2.4M142.2 1063.3v2.4M144.2 1063.3v2.4M145.9 1063.3v2.4M147.4 1063.3v2.4M148.7 1063.3v3.8M157.5 1063.3v2.4M162.6 1063.3v2.4M166.3 1063.3v2.4M169.1 1063.3v2.4M171.4 1063.3v2.4M173.3 1063.3v2.4M175 1063.3v2.4M176.5 1063.3v2.4M177.8 1063.3v3.8M186.6 1063.3v2.4M191.8 1063.3v2.4M195.4 1063.3v2.4M198.2 1063.3v2.4M200.5 1063.3v2.4M202.5 1063.3v2.4M204.2 1063.3v2.4M205.7 1063.3v2.4M207 1063.3v3.8" stroke="#222" stroke-width="0.9" fill="none"/>
<path d="M90.4 956h-2.6M90.4 977.4h-2.6M90.4 999.6h-2.6M90.4 1021.1h-2.6M90.4 1042.8h-2.6M90.4 1063.5h-2.6M90.4 1063.5h-1.3M90.4 1059.2h-1.3M90.4 1054.9h-1.3M90.4 1050.6h-1.3M90.4 1046.3h-1.3M90.4 1042h-1.3M90.4 1037.7h-1.3M90.4 1033.4h-1.3M90.4 1029.1h-1.3M90.4 1024.8h-1.3M90.4 1020.5h-1.3M90.4 1016.2h-1.3M90.4 1011.9h-1.3M90.4 1007.6h-1.3M90.4 1003.3h-1.3M90.4 999h-1.3M90.4 994.7h-1.3M90.4 990.4h-1.3M90.4 986.1h-1.3M90.4 981.8h-1.3M90.4 977.5h-1.3M90.4 973.2h-1.3M90.4 968.9h-1.3M90.4 964.6h-1.3M90.4 960.3h-1.3M90.4 956h-1.3" stroke="#222" stroke-width="1" fill="none"/>
<text x="85.4" y="960.4" font-size="12.3" font-weight="bold" text-anchor="end" fill="#111" textLength="22" lengthAdjust="spacingAndGlyphs" stroke="#111" stroke-width="0.5" stroke-linejoin="round">500</text>
<text x="85.4" y="981.8" font-size="12.3" font-weight="bold" text-anchor="end" fill="#111" textLength="22" lengthAdjust="spacingAndGlyphs" stroke="#111" stroke-width="0.5" stroke-linejoin="round">400</text>
<text x="85.4" y="1004" font-size="12.3" font-weight="bold" text-anchor="end" fill="#111" textLength="22" lengthAdjust="spacingAndGlyphs" stroke="#111" stroke-width="0.5" stroke-linejoin="round">300</text>
<text x="85.4" y="1025.5" font-size="12.3" font-weight="bold" text-anchor="end" fill="#111" textLength="22" lengthAdjust="spacingAndGlyphs" stroke="#111" stroke-width="0.5" stroke-linejoin="round">200</text>
<text x="85.4" y="1047.2" font-size="12.3" font-weight="bold" text-anchor="end" fill="#111" textLength="22" lengthAdjust="spacingAndGlyphs" stroke="#111" stroke-width="0.5" stroke-linejoin="round">100</text>
<text x="82.7" y="1067.9" font-size="12.3" font-weight="bold" text-anchor="end" fill="#111" textLength="7.4" lengthAdjust="spacingAndGlyphs" stroke="#111" stroke-width="0.5" stroke-linejoin="round">0</text>
<text x="202.8" y="970.8" font-size="13.9" font-weight="bold" text-anchor="end" fill="#111" textLength="53.1" lengthAdjust="spacingAndGlyphs" letter-spacing="0.6" stroke="#111" stroke-width="0.2" stroke-linejoin="round">Ramos</text>
<text x="202.4" y="986.7" font-size="13.3" font-weight="normal" text-anchor="end" fill="#111" textLength="34.7" lengthAdjust="spacingAndGlyphs" letter-spacing="0.45" stroke="#111" stroke-width="0.5" stroke-linejoin="round">(159)</text>
<path d="M241.8 1063.1L241.8 1062.6L242.6 1062.6L243.4 1062.6L244.2 1062.6L245 1062.6L245.8 1062.6L246.6 1062.6L247.4 1062.6L248.2 1062.6L249 1062.6L249.8 1062.6L250.6 1062.6L251.4 1062.6L252.2 1062.6L253 1062.6L253.8 1062.6L254.6 1062.6L255.4 1062.6L256.2 1062.6L257 1062.6L257.8 1062.6L258.6 1062.6L259.4 1062.6L260.2 1062.6L261 1062.6L261.8 1062.6L262.6 1062.4L263.4 1062.2L264.2 1062.3L265 1061.7L265.8 1061.5L266.6 1061.2L267.4 1060.9L268.2 1060L269 1059.6L269.8 1058.8L270.6 1058.6L271.4 1057.7L272.2 1056.8L273 1054.8L273.8 1054.4L274.6 1049.4L275.4 1048.1L276.2 1045.4L277 1041.4L277.8 1039.1L278.6 1035.1L279.4 1031.3L280.2 1030.7L281 1023.6L281.8 1022L282.6 1017.7L283.4 1016L284.2 1011.8L285 1004.7L285.8 1004.3L286.6 999.6L287.4 994.6L288.2 993.9L289 1003.7L289.8 998.9L290.6 1000.4L291.4 999.1L292.2 1004.2L293 1007.2L293.8 1010L294.6 1017.4L295.4 1023.3L296.2 1028.6L297 1034L297.8 1037.5L298.6 1042.4L299.4 1046.6L300.2 1049L301 1052.3L301.8 1053.8L302.6 1052.6L303.4 1055.1L304.2 1054.3L305 1055.5L305.8 1055.9L306.6 1055.7L307.4 1056.5L308.2 1056.6L309 1056.3L309.8 1056.2L310.6 1055.3L311.4 1054.3L312.2 1055.8L313 1055.5L313.8 1054.7L314.6 1055.3L315.4 1055.7L316.2 1057.3L317 1057.4L317.8 1058.3L318.6 1059.4L319.4 1059.1L320.2 1060.3L321 1060.1L321.8 1060.8L322.6 1061.1L323.4 1060.8L324.2 1061.3L325 1061.8L325.8 1062L326.6 1062.3L327.4 1062.1L328.2 1062.3L329 1062.6L329.8 1062.6L330.6 1062.6L331.4 1062.6L332.2 1062.6L333 1062.6L333.8 1062.6L334.6 1062.6L335.4 1062.6L336.2 1062.6L337 1062.6L337.8 1062.6L338.6 1062.6L339.4 1062.6L340.2 1062.6L341 1062.6L341.8 1062.6L342.6 1062.6L343.4 1062.6L344.2 1062.6L345 1062.6L345.8 1062.6L346.6 1062.6L347.4 1062.6L348.2 1062.6L349 1062.6L349.8 1062.6L350.6 1062.6L351.4 1062.6L352.2 1062.6L353 1062.6L353.8 1062.6L354.6 1062.6L355.4 1062.6L356.2 1062.6L357 1062.6L357.8 1062.6L357.8 1063.1Z" fill="#898989"/>
<path d="M241.8 1063.1L242.6 1063.1L243.4 1063.1L244.2 1063.1L245 1063.1L245.8 1063.1L246.6 1063.1L247.4 1063.1L248.2 1063.1L249 1063.1L249.8 1063.1L250.6 1063.1L251.4 1063.1L252.2 1063.1L253 1063.1L253.8 1063.1L254.6 1063.1L255.4 1063.1L256.2 1063.1L257 1063.1L257.8 1063.1L258.6 1063.1L259.4 1063.1L260.2 1063.1L261 1063.1L261.8 1063.1L262.6 1063.1L263.4 1063.1L264.2 1063.1L265 1063.1L265.8 1063.1L266.6 1063.1L267.4 1063.1L268.2 1063.1L269 1063.1L269.8 1063.1L270.6 1063.1L271.4 1063.1L272.2 1063.1L273 1063.1L273.8 1063.1L274.6 1063.1L275.4 1063.1L276.2 1063.1L277 1063.1L277.8 1063.1L278.6 1063.1L279.4 1063.1L280.2 1063.1L281 1063.1L281.8 1063.1L282.6 1063.1L283.4 1063.1L284.2 1063.1L285 1063.1L285.8 1063.1L286.6 1063.1L287.4 1063.1L288.2 1063.1L289 1063.1L289.8 1063.1L290.6 1063L291.4 1062.9L292.2 1062.9L293 1062.9L293.8 1062.7L294.6 1062.9L295.4 1062.6L296.2 1062.4L297 1062.1L297.8 1061.4L298.6 1060.7L299.4 1059.1L300.2 1058.2L301 1056.2L301.8 1053.2L302.6 1049.5L303.4 1045.7L304.2 1039.9L305 1034.6L305.8 1028.2L306.6 1023.6L307.4 1015.9L308.2 1009.7L309 1002.4L309.8 995.8L310.6 989L311.4 983.2L312.2 976.9L313 972.2L313.8 968.3L314.6 966.7L315.4 968.7L316.2 971.3L317 977.4L317.8 981.6L318.6 990.8L319.4 998.8L320.2 1008.4L321 1017.8L321.8 1027L322.6 1035.4L323.4 1043.9L324.2 1050L325 1054.8L325.8 1057.8L326.6 1060.2L327.4 1060.9L328.2 1062.1L329 1062.4L329.8 1062.7L330.6 1062.7L331.4 1063L332.2 1062.9L333 1063.1L333.8 1063.1L334.6 1063.1L335.4 1063.1L336.2 1063.1L337 1063.1L337.8 1063.1L338.6 1063.1L339.4 1063.1L340.2 1063.1L341 1063.1L341.8 1063.1L342.6 1063.1L343.4 1063.1L344.2 1063.1L345 1063.1L345.8 1063.1L346.6 1063.1L347.4 1063.1L348.2 1063.1L349 1063.1L349.8 1063.1L350.6 1063.1L351.4 1063.1L352.2 1063.1L353 1063.1L353.8 1063.1L354.6 1063.1L355.4 1063.1L356.2 1063.1L357 1063.1L357.8 1063.1" fill="none" stroke="#0a0a0a" stroke-width="2.8" stroke-linejoin="round" stroke-linecap="round"/>
<rect x="241.3" y="955.4" width="116.9" height="108" fill="none" stroke="#1c1c1c" stroke-width="1.4"/>
<path d="M241.3 1063.4v3.8M250.1 1063.4v2.4M255.2 1063.4v2.4M258.9 1063.4v2.4M261.7 1063.4v2.4M264 1063.4v2.4M266 1063.4v2.4M267.7 1063.4v2.4M269.2 1063.4v2.4M270.5 1063.4v3.8M279.3 1063.4v2.4M284.5 1063.4v2.4M288.1 1063.4v2.4M291 1063.4v2.4M293.3 1063.4v2.4M295.2 1063.4v2.4M296.9 1063.4v2.4M298.4 1063.4v2.4M299.8 1063.4v3.8M308.5 1063.4v2.4M313.7 1063.4v2.4M317.3 1063.4v2.4M320.2 1063.4v2.4M322.5 1063.4v2.4M324.4 1063.4v2.4M326.1 1063.4v2.4M327.6 1063.4v2.4M329 1063.4v3.8M337.8 1063.4v2.4M342.9 1063.4v2.4M346.6 1063.4v2.4M349.4 1063.4v2.4M351.7 1063.4v2.4M353.7 1063.4v2.4M355.4 1063.4v2.4M356.9 1063.4v2.4M358.2 1063.4v3.8" stroke="#222" stroke-width="0.9" fill="none"/>
<path d="M241.3 954.5h-2.6M241.3 982.5h-2.6M241.3 1009.5h-2.6M241.3 1036.3h-2.6M241.3 1063.8h-2.6M241.3 1063.8h-1.3M241.3 1058.3h-1.3M241.3 1052.9h-1.3M241.3 1047.4h-1.3M241.3 1041.9h-1.3M241.3 1036.5h-1.3M241.3 1031h-1.3M241.3 1025.5h-1.3M241.3 1020.1h-1.3M241.3 1014.6h-1.3M241.3 1009.2h-1.3M241.3 1003.7h-1.3M241.3 998.2h-1.3M241.3 992.8h-1.3M241.3 987.3h-1.3M241.3 981.8h-1.3M241.3 976.4h-1.3M241.3 970.9h-1.3M241.3 965.4h-1.3M241.3 960h-1.3" stroke="#222" stroke-width="1" fill="none"/>
<text x="236.6" y="958.9" font-size="12.3" font-weight="bold" text-anchor="end" fill="#111" textLength="22" lengthAdjust="spacingAndGlyphs" stroke="#111" stroke-width="0.5" stroke-linejoin="round">400</text>
<text x="236.6" y="986.9" font-size="12.3" font-weight="bold" text-anchor="end" fill="#111" textLength="22" lengthAdjust="spacingAndGlyphs" stroke="#111" stroke-width="0.5" stroke-linejoin="round">300</text>
<text x="236.6" y="1013.9" font-size="12.3" font-weight="bold" text-anchor="end" fill="#111" textLength="22" lengthAdjust="spacingAndGlyphs" stroke="#111" stroke-width="0.5" stroke-linejoin="round">200</text>
<text x="236.6" y="1040.7" font-size="12.3" font-weight="bold" text-anchor="end" fill="#111" textLength="22" lengthAdjust="spacingAndGlyphs" stroke="#111" stroke-width="0.5" stroke-linejoin="round">100</text>
<text x="233.9" y="1068.2" font-size="12.3" font-weight="bold" text-anchor="end" fill="#111" textLength="7.4" lengthAdjust="spacingAndGlyphs" stroke="#111" stroke-width="0.5" stroke-linejoin="round">0</text>
<text x="303.4" y="970.8" font-size="13.9" font-weight="bold" text-anchor="end" fill="#111" textLength="40.4" lengthAdjust="spacingAndGlyphs" letter-spacing="0.6" stroke="#111" stroke-width="0.2" stroke-linejoin="round">REC1</text>
<text x="298.4" y="987" font-size="13.3" font-weight="normal" text-anchor="end" fill="#111" textLength="35.7" lengthAdjust="spacingAndGlyphs" letter-spacing="0.45" stroke="#111" stroke-width="0.5" stroke-linejoin="round">(243)</text>
<path d="M393.5 1062.9L393.5 1062.9L394.3 1062.9L395.1 1062.9L395.9 1062.9L396.7 1062.9L397.5 1062.9L398.3 1062.9L399.1 1062.9L399.9 1062.9L400.7 1062.9L401.5 1062.9L402.3 1062.9L403.1 1062.9L403.9 1062.9L404.7 1062.9L405.5 1062.9L406.3 1062.9L407.1 1062.9L407.9 1062.9L408.7 1062.9L409.5 1062.9L410.3 1062.9L411.1 1062.9L411.9 1062.9L412.7 1062.8L413.5 1062.8L414.3 1062.8L415.1 1062.7L415.9 1062.7L416.7 1062.6L417.5 1062.5L418.3 1062.3L419.1 1062.3L419.9 1061.9L420.7 1061.4L421.5 1061.2L422.3 1060.7L423.1 1060.2L423.9 1058.5L424.7 1057.7L425.5 1056.6L426.3 1055.1L427.1 1054.1L427.9 1050.3L428.7 1048.4L429.5 1044.7L430.3 1040.1L431.1 1037.9L431.9 1033.6L432.7 1028.1L433.5 1024.7L434.3 1019.6L435.1 1016.4L435.9 1011.5L436.7 1008.2L437.5 1000.7L438.3 997L439.1 996.9L439.9 994.9L440.7 995.5L441.5 993.3L442.3 999.8L443.1 1006.4L443.9 1011.2L444.7 1016.6L445.5 1025.6L446.3 1029.8L447.1 1035.5L447.9 1041L448.7 1044.9L449.5 1048.4L450.3 1052.4L451.1 1055.1L451.9 1056.6L452.7 1058.5L453.5 1059.6L454.3 1060.2L455.1 1061.3L455.9 1061.8L456.7 1062.4L457.5 1062.4L458.3 1062.6L459.1 1062.7L459.9 1062.8L460.7 1062.8L461.5 1062.9L462.3 1062.9L463.1 1062.9L463.9 1062.9L464.7 1062.9L465.5 1062.9L466.3 1062.9L467.1 1062.9L467.9 1062.9L468.7 1062.9L469.5 1062.9L470.3 1062.9L471.1 1062.9L471.9 1062.9L472.7 1062.9L473.5 1062.9L474.3 1062.9L475.1 1062.9L475.9 1062.9L476.7 1062.9L477.5 1062.9L478.3 1062.9L479.1 1062.9L479.9 1062.9L480.7 1062.9L481.5 1062.9L482.3 1062.9L483.1 1062.9L483.9 1062.9L484.7 1062.9L485.5 1062.9L486.3 1062.9L487.1 1062.9L487.9 1062.9L488.7 1062.9L489.5 1062.9L490.3 1062.9L491.1 1062.9L491.9 1062.9L492.7 1062.9L493.5 1062.9L494.3 1062.9L495.1 1062.9L495.9 1062.9L496.7 1062.9L497.5 1062.9L498.3 1062.9L499.1 1062.9L499.9 1062.9L500.7 1062.9L501.5 1062.9L502.3 1062.9L503.1 1062.9L503.9 1062.9L504.7 1062.9L505.5 1062.9L506.3 1062.9L507.1 1062.9L507.9 1062.9L508.7 1062.9L509.5 1062.9L510.3 1062.9L510.3 1062.9Z" fill="#898989"/>
<path d="M393.5 1063.1L394.3 1063.1L395.1 1063.1L395.9 1063.1L396.7 1063.1L397.5 1063.1L398.3 1063.1L399.1 1063.1L399.9 1063.1L400.7 1063.1L401.5 1063.1L402.3 1063.1L403.1 1063.1L403.9 1063.1L404.7 1063.1L405.5 1063.1L406.3 1063.1L407.1 1063.1L407.9 1063.1L408.7 1063.1L409.5 1063.1L410.3 1063.1L411.1 1063.1L411.9 1063.1L412.7 1063.1L413.5 1063.1L414.3 1063.1L415.1 1063.1L415.9 1063.1L416.7 1063.1L417.5 1063.1L418.3 1063.1L419.1 1063.1L419.9 1063.1L420.7 1063.1L421.5 1063.1L422.3 1063.1L423.1 1063.1L423.9 1063.1L424.7 1063.1L425.5 1063.1L426.3 1063.1L427.1 1063.1L427.9 1063.1L428.7 1063.1L429.5 1063.1L430.3 1063.1L431.1 1063.1L431.9 1063.1L432.7 1063.1L433.5 1063.1L434.3 1063.1L435.1 1063.1L435.9 1063.1L436.7 1063.1L437.5 1063.1L438.3 1063L439.1 1062.9L439.9 1062.9L440.7 1062.8L441.5 1062.8L442.3 1062.7L443.1 1062.4L443.9 1062.4L444.7 1061.5L445.5 1060.8L446.3 1059.4L447.1 1058.3L447.9 1056.7L448.7 1053.5L449.5 1049.8L450.3 1045.6L451.1 1041.5L451.9 1036.3L452.7 1032.5L453.5 1029.3L454.3 1023.9L455.1 1019.7L455.9 1015.5L456.7 1010.4L457.5 1006.5L458.3 1004.3L459.1 998.9L459.9 996.9L460.7 993.8L461.5 992.5L462.3 993.3L463.1 995L463.9 1001.2L464.7 1006.4L465.5 1012.1L466.3 1017.3L467.1 1022.8L467.9 1027.8L468.7 1033.8L469.5 1040.9L470.3 1046.1L471.1 1051.9L471.9 1055.2L472.7 1057.7L473.5 1059.9L474.3 1060.7L475.1 1061.6L475.9 1062.3L476.7 1062.5L477.5 1062.8L478.3 1062.9L479.1 1062.9L479.9 1063L480.7 1063L481.5 1063.1L482.3 1063.1L483.1 1063.1L483.9 1063.1L484.7 1063.1L485.5 1063.1L486.3 1063.1L487.1 1063.1L487.9 1063.1L488.7 1063.1L489.5 1063.1L490.3 1063.1L491.1 1063.1L491.9 1063.1L492.7 1063.1L493.5 1063.1L494.3 1063.1L495.1 1063.1L495.9 1063.1L496.7 1063.1L497.5 1063.1L498.3 1063.1L499.1 1063.1L499.9 1063.1L500.7 1063.1L501.5 1063.1L502.3 1063.1L503.1 1063.1L503.9 1063.1L504.7 1063.1L505.5 1063.1L506.3 1063.1L507.1 1063.1L507.9 1063.1L508.7 1063.1L509.5 1063.1L510.3 1063.1" fill="none" stroke="#0a0a0a" stroke-width="2.8" stroke-linejoin="round" stroke-linecap="round"/>
<rect x="393" y="955" width="117.6" height="108.2" fill="none" stroke="#1c1c1c" stroke-width="1.4"/>
<path d="M393 1063.2v3.8M401.9 1063.2v2.4M407 1063.2v2.4M410.7 1063.2v2.4M413.5 1063.2v2.4M415.9 1063.2v2.4M417.8 1063.2v2.4M419.6 1063.2v2.4M421.1 1063.2v2.4M422.4 1063.2v3.8M431.3 1063.2v2.4M436.4 1063.2v2.4M440.1 1063.2v2.4M442.9 1063.2v2.4M445.3 1063.2v2.4M447.2 1063.2v2.4M449 1063.2v2.4M450.5 1063.2v2.4M451.8 1063.2v3.8M460.7 1063.2v2.4M465.8 1063.2v2.4M469.5 1063.2v2.4M472.3 1063.2v2.4M474.7 1063.2v2.4M476.6 1063.2v2.4M478.4 1063.2v2.4M479.9 1063.2v2.4M481.2 1063.2v3.8M490.1 1063.2v2.4M495.2 1063.2v2.4M498.9 1063.2v2.4M501.7 1063.2v2.4M504.1 1063.2v2.4M506 1063.2v2.4M507.8 1063.2v2.4M509.3 1063.2v2.4M510.6 1063.2v3.8" stroke="#222" stroke-width="0.9" fill="none"/>
<path d="M393 955.7h-2.6M393 977.6h-2.6M393 999h-2.6M393 1020.7h-2.6M393 1042.3h-2.6M393 1063.3h-2.6M393 1063.3h-1.3M393 1059h-1.3M393 1054.7h-1.3M393 1050.4h-1.3M393 1046.1h-1.3M393 1041.8h-1.3M393 1037.5h-1.3M393 1033.2h-1.3M393 1028.9h-1.3M393 1024.6h-1.3M393 1020.3h-1.3M393 1016h-1.3M393 1011.7h-1.3M393 1007.3h-1.3M393 1003h-1.3M393 998.7h-1.3M393 994.4h-1.3M393 990.1h-1.3M393 985.8h-1.3M393 981.5h-1.3M393 977.2h-1.3M393 972.9h-1.3M393 968.6h-1.3M393 964.3h-1.3M393 960h-1.3" stroke="#222" stroke-width="1" fill="none"/>
<text x="389.2" y="960.1" font-size="12.3" font-weight="bold" text-anchor="end" fill="#111" textLength="22" lengthAdjust="spacingAndGlyphs" stroke="#111" stroke-width="0.5" stroke-linejoin="round">500</text>
<text x="389.2" y="982" font-size="12.3" font-weight="bold" text-anchor="end" fill="#111" textLength="22" lengthAdjust="spacingAndGlyphs" stroke="#111" stroke-width="0.5" stroke-linejoin="round">400</text>
<text x="389.2" y="1003.4" font-size="12.3" font-weight="bold" text-anchor="end" fill="#111" textLength="22" lengthAdjust="spacingAndGlyphs" stroke="#111" stroke-width="0.5" stroke-linejoin="round">300</text>
<text x="389.2" y="1025.1" font-size="12.3" font-weight="bold" text-anchor="end" fill="#111" textLength="22" lengthAdjust="spacingAndGlyphs" stroke="#111" stroke-width="0.5" stroke-linejoin="round">200</text>
<text x="389.2" y="1046.7" font-size="12.3" font-weight="bold" text-anchor="end" fill="#111" textLength="22" lengthAdjust="spacingAndGlyphs" stroke="#111" stroke-width="0.5" stroke-linejoin="round">100</text>
<text x="386.5" y="1067.7" font-size="12.3" font-weight="bold" text-anchor="end" fill="#111" textLength="7.4" lengthAdjust="spacingAndGlyphs" stroke="#111" stroke-width="0.5" stroke-linejoin="round">0</text>
<text x="505.2" y="970.8" font-size="13.9" font-weight="bold" text-anchor="end" fill="#111" textLength="75.9" lengthAdjust="spacingAndGlyphs" letter-spacing="0.6" stroke="#111" stroke-width="0.2" stroke-linejoin="round">SU-DHL-6</text>
<text x="504.8" y="986.4" font-size="13.3" font-weight="normal" text-anchor="end" fill="#111" textLength="35.6" lengthAdjust="spacingAndGlyphs" letter-spacing="0.45" stroke="#111" stroke-width="0.5" stroke-linejoin="round">(149)</text>
<path d="M90.9 1184.5L90.9 1184.5L91.7 1184.5L92.5 1184.5L93.3 1184.5L94.1 1184.5L94.9 1184.5L95.7 1184.5L96.5 1184.5L97.3 1184.5L98.1 1184.5L98.9 1184.5L99.7 1184.5L100.5 1184.5L101.3 1184.5L102.1 1184.5L102.9 1184.5L103.7 1184.5L104.5 1184.5L105.3 1184.5L106.1 1184.5L106.9 1184.5L107.7 1184.5L108.5 1184.5L109.3 1184.5L110.1 1184.5L110.9 1184.5L111.7 1184.5L112.5 1184.3L113.3 1183.9L114.1 1183.6L114.9 1181.9L115.7 1179.3L116.5 1177.1L117.3 1171.4L118.1 1161.8L118.9 1157.1L119.7 1146.1L120.5 1134.9L121.3 1128.2L122.1 1116L122.9 1107.3L123.7 1103.6L124.5 1101.2L125.3 1096.2L126.1 1098L126.9 1097.5L127.7 1101.4L128.5 1108.1L129.3 1115.9L130.1 1119.7L130.9 1128.8L131.7 1135.2L132.5 1142.3L133.3 1148.1L134.1 1151.4L134.9 1155.4L135.7 1158.5L136.5 1161.4L137.3 1164.4L138.1 1166.1L138.9 1167.7L139.7 1168.8L140.5 1171.3L141.3 1171.1L142.1 1174.3L142.9 1174.2L143.7 1174.4L144.5 1175.4L145.3 1175.5L146.1 1177.5L146.9 1177.7L147.7 1178.4L148.5 1178.1L149.3 1178.1L150.1 1179.8L150.9 1180.2L151.7 1181L152.5 1180.9L153.3 1181.5L154.1 1182L154.9 1182.9L155.7 1183.1L156.5 1183.6L157.3 1183.8L158.1 1184L158.9 1184.1L159.7 1184.3L160.5 1184.4L161.3 1184.5L162.1 1184.5L162.9 1184.5L163.7 1184.5L164.5 1184.5L165.3 1184.5L166.1 1184.5L166.9 1184.5L167.7 1184.5L168.5 1184.5L169.3 1184.5L170.1 1184.5L170.9 1184.5L171.7 1184.5L172.5 1184.5L173.3 1184.5L174.1 1184.5L174.9 1184.5L175.7 1184.5L176.5 1184.5L177.3 1184.5L178.1 1184.5L178.9 1184.5L179.7 1184.5L180.5 1184.5L181.3 1184.5L182.1 1184.5L182.9 1184.5L183.7 1184.5L184.5 1184.5L185.3 1184.5L186.1 1184.5L186.9 1184.5L187.7 1184.5L188.5 1184.5L189.3 1184.5L190.1 1184.5L190.9 1184.5L191.7 1184.5L192.5 1184.5L193.3 1184.5L194.1 1184.5L194.9 1184.5L195.7 1184.5L196.5 1184.5L197.3 1184.5L198.1 1184.5L198.9 1184.5L199.7 1184.5L200.5 1184.5L201.3 1184.5L202.1 1184.5L202.9 1184.5L203.7 1184.5L204.5 1184.5L205.3 1184.5L206.1 1184.5L206.1 1184.5Z" fill="#898989"/>
<path d="M90.9 1184.7L91.7 1184.7L92.5 1184.7L93.3 1184.7L94.1 1184.7L94.9 1184.7L95.7 1184.7L96.5 1184.7L97.3 1184.7L98.1 1184.7L98.9 1184.7L99.7 1184.7L100.5 1184.7L101.3 1184.7L102.1 1184.7L102.9 1184.6L103.7 1184.5L104.5 1183.9L105.3 1183.5L106.1 1183.3L106.9 1182.5L107.7 1182.1L108.5 1180.6L109.3 1179.3L110.1 1177.3L110.9 1174.4L111.7 1172L112.5 1167L113.3 1162.5L114.1 1155.6L114.9 1146.4L115.7 1139.7L116.5 1128.6L117.3 1116.6L118.1 1108.4L118.9 1101.6L119.7 1094.5L120.5 1090.8L121.3 1093.5L122.1 1099.2L122.9 1106.6L123.7 1117.3L124.5 1131.8L125.3 1141.3L126.1 1151.4L126.9 1158.2L127.7 1164.9L128.5 1166.8L129.3 1169.8L130.1 1171.4L130.9 1173.3L131.7 1173.9L132.5 1174.7L133.3 1174.9L134.1 1174.3L134.9 1175.7L135.7 1174.9L136.5 1175.4L137.3 1175.2L138.1 1174.8L138.9 1175.2L139.7 1174.9L140.5 1174L141.3 1173.6L142.1 1173L142.9 1172.6L143.7 1173L144.5 1173.8L145.3 1174.8L146.1 1175.3L146.9 1176L147.7 1177L148.5 1177.6L149.3 1178L150.1 1178.2L150.9 1178.5L151.7 1179.1L152.5 1179.6L153.3 1180.1L154.1 1180.7L154.9 1181.2L155.7 1181.9L156.5 1182.3L157.3 1182.8L158.1 1183.2L158.9 1183.7L159.7 1183.6L160.5 1183.8L161.3 1184.1L162.1 1184.2L162.9 1184.4L163.7 1184.6L164.5 1184.7L165.3 1184.7L166.1 1184.7L166.9 1184.7L167.7 1184.7L168.5 1184.7L169.3 1184.7L170.1 1184.7L170.9 1184.7L171.7 1184.7L172.5 1184.7L173.3 1184.7L174.1 1184.7L174.9 1184.7L175.7 1184.7L176.5 1184.7L177.3 1184.7L178.1 1184.7L178.9 1184.7L179.7 1184.7L180.5 1184.7L181.3 1184.7L182.1 1184.7L182.9 1184.7L183.7 1184.7L184.5 1184.7L185.3 1184.7L186.1 1184.7L186.9 1184.7L187.7 1184.7L188.5 1184.7L189.3 1184.7L190.1 1184.7L190.9 1184.7L191.7 1184.7L192.5 1184.7L193.3 1184.7L194.1 1184.7L194.9 1184.7L195.7 1184.7L196.5 1184.7L197.3 1184.7L198.1 1184.7L198.9 1184.7L199.7 1184.7L200.5 1184.7L201.3 1184.7L202.1 1184.7L202.9 1184.7L203.7 1184.7L204.5 1184.7L205.3 1184.7L206.1 1184.7" fill="none" stroke="#0a0a0a" stroke-width="2.8" stroke-linejoin="round" stroke-linecap="round"/>
<rect x="90.4" y="1076.8" width="116.6" height="108" fill="none" stroke="#1c1c1c" stroke-width="1.4"/>
<path d="M90.4 1184.8v3.8M99.2 1184.8v2.4M104.3 1184.8v2.4M108 1184.8v2.4M110.8 1184.8v2.4M113.1 1184.8v2.4M115 1184.8v2.4M116.7 1184.8v2.4M118.2 1184.8v2.4M119.6 1184.8v3.8M128.3 1184.8v2.4M133.5 1184.8v2.4M137.1 1184.8v2.4M139.9 1184.8v2.4M142.2 1184.8v2.4M144.2 1184.8v2.4M145.9 1184.8v2.4M147.4 1184.8v2.4M148.7 1184.8v3.8M157.5 1184.8v2.4M162.6 1184.8v2.4M166.3 1184.8v2.4M169.1 1184.8v2.4M171.4 1184.8v2.4M173.3 1184.8v2.4M175 1184.8v2.4M176.5 1184.8v2.4M177.8 1184.8v3.8M186.6 1184.8v2.4M191.8 1184.8v2.4M195.4 1184.8v2.4M198.2 1184.8v2.4M200.5 1184.8v2.4M202.5 1184.8v2.4M204.2 1184.8v2.4M205.7 1184.8v2.4M207 1184.8v3.8" stroke="#222" stroke-width="0.9" fill="none"/>
<path d="M90.4 1077.6h-2.6M90.4 1103.3h-2.6M90.4 1130.8h-2.6M90.4 1157.5h-2.6M90.4 1184h-2.6M90.4 1184h-1.3M90.4 1178.7h-1.3M90.4 1173.4h-1.3M90.4 1168h-1.3M90.4 1162.7h-1.3M90.4 1157.4h-1.3M90.4 1152.1h-1.3M90.4 1146.8h-1.3M90.4 1141.4h-1.3M90.4 1136.1h-1.3M90.4 1130.8h-1.3M90.4 1125.5h-1.3M90.4 1120.2h-1.3M90.4 1114.8h-1.3M90.4 1109.5h-1.3M90.4 1104.2h-1.3M90.4 1098.9h-1.3M90.4 1093.6h-1.3M90.4 1088.2h-1.3M90.4 1082.9h-1.3" stroke="#222" stroke-width="1" fill="none"/>
<text x="85.4" y="1082" font-size="12.3" font-weight="bold" text-anchor="end" fill="#111" textLength="22" lengthAdjust="spacingAndGlyphs" stroke="#111" stroke-width="0.5" stroke-linejoin="round">400</text>
<text x="85.4" y="1107.7" font-size="12.3" font-weight="bold" text-anchor="end" fill="#111" textLength="22" lengthAdjust="spacingAndGlyphs" stroke="#111" stroke-width="0.5" stroke-linejoin="round">300</text>
<text x="85.4" y="1135.2" font-size="12.3" font-weight="bold" text-anchor="end" fill="#111" textLength="22" lengthAdjust="spacingAndGlyphs" stroke="#111" stroke-width="0.5" stroke-linejoin="round">200</text>
<text x="85.4" y="1161.9" font-size="12.3" font-weight="bold" text-anchor="end" fill="#111" textLength="22" lengthAdjust="spacingAndGlyphs" stroke="#111" stroke-width="0.5" stroke-linejoin="round">100</text>
<text x="82.7" y="1188.4" font-size="12.3" font-weight="bold" text-anchor="end" fill="#111" textLength="7.4" lengthAdjust="spacingAndGlyphs" stroke="#111" stroke-width="0.5" stroke-linejoin="round">0</text>
<text x="203.9" y="1099.3" font-size="13.9" font-weight="bold" text-anchor="end" fill="#111" textLength="60.8" lengthAdjust="spacingAndGlyphs" letter-spacing="0.6" stroke="#111" stroke-width="0.2" stroke-linejoin="round">AS283A</text>
<path d="M241.8 1184.4L241.8 1184.4L242.6 1184.4L243.4 1184.4L244.2 1184.4L245 1184.4L245.8 1184.4L246.6 1184.4L247.4 1184.4L248.2 1184.4L249 1184.4L249.8 1184.4L250.6 1184.4L251.4 1184.4L252.2 1184.4L253 1184.4L253.8 1184.4L254.6 1184.4L255.4 1184.4L256.2 1184.4L257 1184.4L257.8 1184.4L258.6 1184.2L259.4 1183.7L260.2 1183.1L261 1182.5L261.8 1181L262.6 1177.2L263.4 1173.7L264.2 1166.4L265 1152.9L265.8 1139.9L266.6 1127.6L267.4 1118.3L268.2 1109.4L269 1095.6L269.8 1085.2L270.6 1082.7L271.4 1090.5L272.2 1092.7L273 1107.5L273.8 1115.4L274.6 1125.7L275.4 1134L276.2 1144.3L277 1156.2L277.8 1164.9L278.6 1171.8L279.4 1176.9L280.2 1179.7L281 1181.5L281.8 1181.9L282.6 1183.1L283.4 1183.7L284.2 1184.1L285 1184.3L285.8 1184.4L286.6 1184.4L287.4 1184.4L288.2 1184.4L289 1184.4L289.8 1184.4L290.6 1184.4L291.4 1184.4L292.2 1184.4L293 1184.4L293.8 1184.4L294.6 1184.4L295.4 1184.4L296.2 1184.4L297 1184.4L297.8 1184.4L298.6 1184.4L299.4 1184.4L300.2 1184.4L301 1184.4L301.8 1184.4L302.6 1184.4L303.4 1184.4L304.2 1184.4L305 1184.4L305.8 1184.4L306.6 1184.4L307.4 1184.4L308.2 1184.4L309 1184.4L309.8 1184.4L310.6 1184.4L311.4 1184.4L312.2 1184.4L313 1184.4L313.8 1184.4L314.6 1184.4L315.4 1184.4L316.2 1184.4L317 1184.4L317.8 1184.4L318.6 1184.4L319.4 1184.4L320.2 1184.4L321 1184.4L321.8 1184.4L322.6 1184.4L323.4 1184.4L324.2 1184.4L325 1184.4L325.8 1184.4L326.6 1184.4L327.4 1184.4L328.2 1184.4L329 1184.4L329.8 1184.4L330.6 1184.4L331.4 1184.4L332.2 1184.4L333 1184.4L333.8 1184.4L334.6 1184.4L335.4 1184.4L336.2 1184.4L337 1184.4L337.8 1184.4L338.6 1184.4L339.4 1184.4L340.2 1184.4L341 1184.4L341.8 1184.4L342.6 1184.4L343.4 1184.4L344.2 1184.4L345 1184.4L345.8 1184.4L346.6 1184.4L347.4 1184.4L348.2 1184.4L349 1184.4L349.8 1184.4L350.6 1184.4L351.4 1184.4L352.2 1184.4L353 1184.4L353.8 1184.4L354.6 1184.4L355.4 1184.4L356.2 1184.4L357 1184.4L357.8 1184.4L357.8 1184.4Z" fill="#898989"/>
<path d="M241.8 1184.6L242.6 1184.6L243.4 1184.6L244.2 1184.6L245 1184.6L245.8 1184.6L246.6 1184.6L247.4 1184.6L248.2 1184.6L249 1184.6L249.8 1184.6L250.6 1184.6L251.4 1184.6L252.2 1184.6L253 1184.6L253.8 1184.6L254.6 1184.6L255.4 1184.6L256.2 1184.6L257 1184.6L257.8 1184.6L258.6 1184.6L259.4 1184.3L260.2 1183.6L261 1182.6L261.8 1181.1L262.6 1178.1L263.4 1173.8L264.2 1166.6L265 1152.9L265.8 1140.1L266.6 1127.5L267.4 1118.6L268.2 1106.8L269 1097.9L269.8 1087.5L270.6 1086L271.4 1091.8L272.2 1100.3L273 1109.9L273.8 1118L274.6 1127.5L275.4 1137.2L276.2 1147.7L277 1159.3L277.8 1168.5L278.6 1173.4L279.4 1177.8L280.2 1180.2L281 1181.9L281.8 1183L282.6 1183.7L283.4 1184.4L284.2 1184.6L285 1184.6L285.8 1184.6L286.6 1184.6L287.4 1184.6L288.2 1184.6L289 1184.6L289.8 1184.6L290.6 1184.6L291.4 1184.6L292.2 1184.6L293 1184.6L293.8 1184.6L294.6 1184.6L295.4 1184.6L296.2 1184.6L297 1184.6L297.8 1184.6L298.6 1184.6L299.4 1184.6L300.2 1184.6L301 1184.6L301.8 1184.6L302.6 1184.6L303.4 1184.6L304.2 1184.6L305 1184.6L305.8 1184.6L306.6 1184.6L307.4 1184.6L308.2 1184.6L309 1184.6L309.8 1184.6L310.6 1184.6L311.4 1184.6L312.2 1184.6L313 1184.6L313.8 1184.6L314.6 1184.6L315.4 1184.6L316.2 1184.6L317 1184.6L317.8 1184.6L318.6 1184.6L319.4 1184.6L320.2 1184.6L321 1184.6L321.8 1184.6L322.6 1184.6L323.4 1184.6L324.2 1184.6L325 1184.6L325.8 1184.6L326.6 1184.6L327.4 1184.6L328.2 1184.6L329 1184.6L329.8 1184.6L330.6 1184.6L331.4 1184.6L332.2 1184.6L333 1184.6L333.8 1184.6L334.6 1184.6L335.4 1184.6L336.2 1184.6L337 1184.6L337.8 1184.6L338.6 1184.6L339.4 1184.6L340.2 1184.6L341 1184.6L341.8 1184.6L342.6 1184.6L343.4 1184.6L344.2 1184.6L345 1184.6L345.8 1184.6L346.6 1184.6L347.4 1184.6L348.2 1184.6L349 1184.6L349.8 1184.6L350.6 1184.6L351.4 1184.6L352.2 1184.6L353 1184.6L353.8 1184.6L354.6 1184.6L355.4 1184.6L356.2 1184.6L357 1184.6L357.8 1184.6" fill="none" stroke="#0a0a0a" stroke-width="2.8" stroke-linejoin="round" stroke-linecap="round"/>
<rect x="241.3" y="1076.8" width="116.9" height="107.9" fill="none" stroke="#1c1c1c" stroke-width="1.4"/>
<path d="M241.3 1184.7v3.8M250.1 1184.7v2.4M255.2 1184.7v2.4M258.9 1184.7v2.4M261.7 1184.7v2.4M264 1184.7v2.4M266 1184.7v2.4M267.7 1184.7v2.4M269.2 1184.7v2.4M270.5 1184.7v3.8M279.3 1184.7v2.4M284.5 1184.7v2.4M288.1 1184.7v2.4M291 1184.7v2.4M293.3 1184.7v2.4M295.2 1184.7v2.4M296.9 1184.7v2.4M298.4 1184.7v2.4M299.8 1184.7v3.8M308.5 1184.7v2.4M313.7 1184.7v2.4M317.3 1184.7v2.4M320.2 1184.7v2.4M322.5 1184.7v2.4M324.4 1184.7v2.4M326.1 1184.7v2.4M327.6 1184.7v2.4M329 1184.7v3.8M337.8 1184.7v2.4M342.9 1184.7v2.4M346.6 1184.7v2.4M349.4 1184.7v2.4M351.7 1184.7v2.4M353.7 1184.7v2.4M355.4 1184.7v2.4M356.9 1184.7v2.4M358.2 1184.7v3.8" stroke="#222" stroke-width="0.9" fill="none"/>
<path d="M241.3 1077.8h-2.6M241.3 1099.2h-2.6M241.3 1120.5h-2.6M241.3 1142h-2.6M241.3 1163.8h-2.6M241.3 1185h-2.6M241.3 1185h-1.3M241.3 1180.7h-1.3M241.3 1176.4h-1.3M241.3 1172.1h-1.3M241.3 1167.8h-1.3M241.3 1163.6h-1.3M241.3 1159.3h-1.3M241.3 1155h-1.3M241.3 1150.7h-1.3M241.3 1146.4h-1.3M241.3 1142.1h-1.3M241.3 1137.8h-1.3M241.3 1133.5h-1.3M241.3 1129.3h-1.3M241.3 1125h-1.3M241.3 1120.7h-1.3M241.3 1116.4h-1.3M241.3 1112.1h-1.3M241.3 1107.8h-1.3M241.3 1103.5h-1.3M241.3 1099.2h-1.3M241.3 1095h-1.3M241.3 1090.7h-1.3M241.3 1086.4h-1.3M241.3 1082.1h-1.3" stroke="#222" stroke-width="1" fill="none"/>
<text x="236.6" y="1082.2" font-size="12.3" font-weight="bold" text-anchor="end" fill="#111" textLength="22" lengthAdjust="spacingAndGlyphs" stroke="#111" stroke-width="0.5" stroke-linejoin="round">500</text>
<text x="236.6" y="1103.6" font-size="12.3" font-weight="bold" text-anchor="end" fill="#111" textLength="22" lengthAdjust="spacingAndGlyphs" stroke="#111" stroke-width="0.5" stroke-linejoin="round">400</text>
<text x="236.6" y="1124.9" font-size="12.3" font-weight="bold" text-anchor="end" fill="#111" textLength="22" lengthAdjust="spacingAndGlyphs" stroke="#111" stroke-width="0.5" stroke-linejoin="round">300</text>
<text x="236.6" y="1146.4" font-size="12.3" font-weight="bold" text-anchor="end" fill="#111" textLength="22" lengthAdjust="spacingAndGlyphs" stroke="#111" stroke-width="0.5" stroke-linejoin="round">200</text>
<text x="236.6" y="1168.2" font-size="12.3" font-weight="bold" text-anchor="end" fill="#111" textLength="22" lengthAdjust="spacingAndGlyphs" stroke="#111" stroke-width="0.5" stroke-linejoin="round">100</text>
<text x="233.9" y="1189.4" font-size="12.3" font-weight="bold" text-anchor="end" fill="#111" textLength="7.4" lengthAdjust="spacingAndGlyphs" stroke="#111" stroke-width="0.5" stroke-linejoin="round">0</text>
<text x="356.9" y="1098.8" font-size="13.9" font-weight="bold" text-anchor="end" fill="#111" textLength="71.6" lengthAdjust="spacingAndGlyphs" letter-spacing="0.6" stroke="#111" stroke-width="0.2" stroke-linejoin="round">CRO-AP2</text>
<path d="M393.5 1182L393.5 1182L394.3 1182L395.1 1182L395.9 1182L396.7 1182L397.5 1182L398.3 1182L399.1 1182L399.9 1182L400.7 1182L401.5 1182L402.3 1182L403.1 1182L403.9 1182L404.7 1182L405.5 1182L406.3 1182L407.1 1182L407.9 1182L408.7 1182L409.5 1181.9L410.3 1181.8L411.1 1181.6L411.9 1181.5L412.7 1181.3L413.5 1180.9L414.3 1180.7L415.1 1180.1L415.9 1180L416.7 1178.9L417.5 1177.5L418.3 1174.3L419.1 1169.3L419.9 1162.9L420.7 1159.2L421.5 1151.1L422.3 1147L423.1 1141.8L423.9 1138.2L424.7 1132L425.5 1128.4L426.3 1127.5L427.1 1122.6L427.9 1118.6L428.7 1116.5L429.5 1115.8L430.3 1112.8L431.1 1111.2L431.9 1110.8L432.7 1114.2L433.5 1114.6L434.3 1117L435.1 1121.5L435.9 1124.7L436.7 1128.6L437.5 1133.3L438.3 1136.3L439.1 1144.7L439.9 1146L440.7 1152.1L441.5 1156.7L442.3 1160.5L443.1 1165.4L443.9 1167.8L444.7 1169.3L445.5 1172.6L446.3 1173.8L447.1 1174.6L447.9 1176.7L448.7 1178L449.5 1178.7L450.3 1180.2L451.1 1181L451.9 1180.7L452.7 1181.1L453.5 1181.3L454.3 1181.5L455.1 1181.7L455.9 1182L456.7 1182L457.5 1182L458.3 1182L459.1 1182L459.9 1182L460.7 1182L461.5 1182L462.3 1182L463.1 1182L463.9 1182L464.7 1182L465.5 1182L466.3 1182L467.1 1182L467.9 1182L468.7 1182L469.5 1182L470.3 1182L471.1 1182L471.9 1182L472.7 1182L473.5 1182L474.3 1182L475.1 1182L475.9 1182L476.7 1182L477.5 1182L478.3 1182L479.1 1182L479.9 1182L480.7 1182L481.5 1182L482.3 1182L483.1 1182L483.9 1182L484.7 1182L485.5 1182L486.3 1182L487.1 1182L487.9 1182L488.7 1182L489.5 1182L490.3 1182L491.1 1182L491.9 1182L492.7 1182L493.5 1182L494.3 1182L495.1 1182L495.9 1182L496.7 1182L497.5 1182L498.3 1182L499.1 1182L499.9 1182L500.7 1182L501.5 1182L502.3 1182L503.1 1182L503.9 1182L504.7 1182L505.5 1182L506.3 1182L507.1 1182L507.9 1182L508.7 1182L509.5 1182L510.3 1182L510.3 1182Z" fill="#898989"/>
<path d="M393.5 1182.2L394.3 1182.2L395.1 1182.2L395.9 1182.2L396.7 1182.2L397.5 1182.2L398.3 1182.2L399.1 1182.2L399.9 1182.2L400.7 1182.2L401.5 1182.2L402.3 1182.1L403.1 1182.1L403.9 1181.5L404.7 1181L405.5 1180.5L406.3 1179.3L407.1 1178.4L407.9 1176.5L408.7 1174.3L409.5 1171.4L410.3 1168L411.1 1162L411.9 1157L412.7 1150L413.5 1142.4L414.3 1135.2L415.1 1126.5L415.9 1116.6L416.7 1108.4L417.5 1100.5L418.3 1093.3L419.1 1087.1L419.9 1084.1L420.7 1084.6L421.5 1085L422.3 1088.9L423.1 1095.8L423.9 1102.3L424.7 1113.2L425.5 1122L426.3 1129.7L427.1 1139.5L427.9 1147.4L428.7 1154.8L429.5 1160.9L430.3 1166.4L431.1 1171.2L431.9 1173.4L432.7 1176.4L433.5 1178.1L434.3 1179.3L435.1 1180.3L435.9 1181.1L436.7 1181.7L437.5 1182L438.3 1182.1L439.1 1182.2L439.9 1182.2L440.7 1182.2L441.5 1182.2L442.3 1182.2L443.1 1182.2L443.9 1182.2L444.7 1182.2L445.5 1182.2L446.3 1182.2L447.1 1182.2L447.9 1182.2L448.7 1182.2L449.5 1182.2L450.3 1182.2L451.1 1182.2L451.9 1182.2L452.7 1182.2L453.5 1182.2L454.3 1182.2L455.1 1182.2L455.9 1182.2L456.7 1182.2L457.5 1182.2L458.3 1182.2L459.1 1182.2L459.9 1182.2L460.7 1182.2L461.5 1182.2L462.3 1182.2L463.1 1182.2L463.9 1182.2L464.7 1182.2L465.5 1182.2L466.3 1182.2L467.1 1182.2L467.9 1182.2L468.7 1182.2L469.5 1182.2L470.3 1182.2L471.1 1182.2L471.9 1182.2L472.7 1182.2L473.5 1182.2L474.3 1182.2L475.1 1182.2L475.9 1182.2L476.7 1182.2L477.5 1182.2L478.3 1182.2L479.1 1182.2L479.9 1182.2L480.7 1182.2L481.5 1182.2L482.3 1182.2L483.1 1182.2L483.9 1182.2L484.7 1182.2L485.5 1182.2L486.3 1182.2L487.1 1182.2L487.9 1182.2L488.7 1182.2L489.5 1182.2L490.3 1182.2L491.1 1182.2L491.9 1182.2L492.7 1182.2L493.5 1182.2L494.3 1182.2L495.1 1182.2L495.9 1182.2L496.7 1182.2L497.5 1182.2L498.3 1182.2L499.1 1182.2L499.9 1182.2L500.7 1182.2L501.5 1182.2L502.3 1182.2L503.1 1182.2L503.9 1182.2L504.7 1182.2L505.5 1182.2L506.3 1182.2L507.1 1182.2L507.9 1182.2L508.7 1182.2L509.5 1182.2L510.3 1182.2" fill="none" stroke="#0a0a0a" stroke-width="2.8" stroke-linejoin="round" stroke-linecap="round"/>
<rect x="393" y="1073.6" width="117.6" height="108.7" fill="none" stroke="#1c1c1c" stroke-width="1.4"/>
<path d="M393 1182.3v3.8M401.9 1182.3v2.4M407 1182.3v2.4M410.7 1182.3v2.4M413.5 1182.3v2.4M415.9 1182.3v2.4M417.8 1182.3v2.4M419.6 1182.3v2.4M421.1 1182.3v2.4M422.4 1182.3v3.8M431.3 1182.3v2.4M436.4 1182.3v2.4M440.1 1182.3v2.4M442.9 1182.3v2.4M445.3 1182.3v2.4M447.2 1182.3v2.4M449 1182.3v2.4M450.5 1182.3v2.4M451.8 1182.3v3.8M460.7 1182.3v2.4M465.8 1182.3v2.4M469.5 1182.3v2.4M472.3 1182.3v2.4M474.7 1182.3v2.4M476.6 1182.3v2.4M478.4 1182.3v2.4M479.9 1182.3v2.4M481.2 1182.3v3.8M490.1 1182.3v2.4M495.2 1182.3v2.4M498.9 1182.3v2.4M501.7 1182.3v2.4M504.1 1182.3v2.4M506 1182.3v2.4M507.8 1182.3v2.4M509.3 1182.3v2.4M510.6 1182.3v3.8" stroke="#222" stroke-width="0.9" fill="none"/>
<path d="M393 1086h-2.6M393 1110h-2.6M393 1134.5h-2.6M393 1158h-2.6M393 1182.3h-2.6M393 1182.3h-1.3M393 1177.5h-1.3M393 1172.7h-1.3M393 1167.9h-1.3M393 1163h-1.3M393 1158.2h-1.3M393 1153.4h-1.3M393 1148.6h-1.3M393 1143.8h-1.3M393 1139h-1.3M393 1134.1h-1.3M393 1129.3h-1.3M393 1124.5h-1.3M393 1119.7h-1.3M393 1114.9h-1.3M393 1110.1h-1.3M393 1105.3h-1.3M393 1100.4h-1.3M393 1095.6h-1.3M393 1090.8h-1.3M393 1086h-1.3M393 1081.2h-1.3M393 1076.4h-1.3" stroke="#222" stroke-width="1" fill="none"/>
<text x="389.2" y="1090.4" font-size="12.3" font-weight="bold" text-anchor="end" fill="#111" textLength="22" lengthAdjust="spacingAndGlyphs" stroke="#111" stroke-width="0.5" stroke-linejoin="round">400</text>
<text x="389.2" y="1114.4" font-size="12.3" font-weight="bold" text-anchor="end" fill="#111" textLength="22" lengthAdjust="spacingAndGlyphs" stroke="#111" stroke-width="0.5" stroke-linejoin="round">300</text>
<text x="389.2" y="1138.9" font-size="12.3" font-weight="bold" text-anchor="end" fill="#111" textLength="22" lengthAdjust="spacingAndGlyphs" stroke="#111" stroke-width="0.5" stroke-linejoin="round">200</text>
<text x="389.2" y="1162.4" font-size="12.3" font-weight="bold" text-anchor="end" fill="#111" textLength="22" lengthAdjust="spacingAndGlyphs" stroke="#111" stroke-width="0.5" stroke-linejoin="round">100</text>
<text x="386.5" y="1186.7" font-size="12.3" font-weight="bold" text-anchor="end" fill="#111" textLength="7.4" lengthAdjust="spacingAndGlyphs" stroke="#111" stroke-width="0.5" stroke-linejoin="round">0</text>
<text x="509.9" y="1096.6" font-size="13.9" font-weight="bold" text-anchor="end" fill="#111" textLength="86.6" lengthAdjust="spacingAndGlyphs" letter-spacing="0.6" stroke="#111" stroke-width="0.2" stroke-linejoin="round">Granta-519</text>
<text x="91.5" y="1204.3" font-size="14" font-weight="bold" text-anchor="end" fill="#111" stroke="#111" stroke-width="0.4" textLength="14.4" lengthAdjust="spacingAndGlyphs">10</text>
<text x="91.8" y="1198.4" font-size="9.2" font-weight="bold" text-anchor="start" fill="#111" stroke="#111" stroke-width="0.3" textLength="4.7" lengthAdjust="spacingAndGlyphs">0</text>
<text x="120.7" y="1204.3" font-size="14" font-weight="bold" text-anchor="end" fill="#111" stroke="#111" stroke-width="0.4" textLength="14.4" lengthAdjust="spacingAndGlyphs">10</text>
<text x="121" y="1198.4" font-size="9.2" font-weight="bold" text-anchor="start" fill="#111" stroke="#111" stroke-width="0.3" textLength="4.7" lengthAdjust="spacingAndGlyphs">1</text>
<text x="149.8" y="1204.3" font-size="14" font-weight="bold" text-anchor="end" fill="#111" stroke="#111" stroke-width="0.4" textLength="14.4" lengthAdjust="spacingAndGlyphs">10</text>
<text x="150.1" y="1198.4" font-size="9.2" font-weight="bold" text-anchor="start" fill="#111" stroke="#111" stroke-width="0.3" textLength="4.7" lengthAdjust="spacingAndGlyphs">2</text>
<text x="178.9" y="1204.3" font-size="14" font-weight="bold" text-anchor="end" fill="#111" stroke="#111" stroke-width="0.4" textLength="14.4" lengthAdjust="spacingAndGlyphs">10</text>
<text x="179.2" y="1198.4" font-size="9.2" font-weight="bold" text-anchor="start" fill="#111" stroke="#111" stroke-width="0.3" textLength="4.7" lengthAdjust="spacingAndGlyphs">3</text>
<text x="208.1" y="1204.3" font-size="14" font-weight="bold" text-anchor="end" fill="#111" stroke="#111" stroke-width="0.4" textLength="14.4" lengthAdjust="spacingAndGlyphs">10</text>
<text x="208.4" y="1198.4" font-size="9.2" font-weight="bold" text-anchor="start" fill="#111" stroke="#111" stroke-width="0.3" textLength="4.7" lengthAdjust="spacingAndGlyphs">4</text>
<text x="242.4" y="1204.3" font-size="14" font-weight="bold" text-anchor="end" fill="#111" stroke="#111" stroke-width="0.4" textLength="14.4" lengthAdjust="spacingAndGlyphs">10</text>
<text x="242.7" y="1198.4" font-size="9.2" font-weight="bold" text-anchor="start" fill="#111" stroke="#111" stroke-width="0.3" textLength="4.7" lengthAdjust="spacingAndGlyphs">0</text>
<text x="271.6" y="1204.3" font-size="14" font-weight="bold" text-anchor="end" fill="#111" stroke="#111" stroke-width="0.4" textLength="14.4" lengthAdjust="spacingAndGlyphs">10</text>
<text x="271.9" y="1198.4" font-size="9.2" font-weight="bold" text-anchor="start" fill="#111" stroke="#111" stroke-width="0.3" textLength="4.7" lengthAdjust="spacingAndGlyphs">1</text>
<text x="300.9" y="1204.3" font-size="14" font-weight="bold" text-anchor="end" fill="#111" stroke="#111" stroke-width="0.4" textLength="14.4" lengthAdjust="spacingAndGlyphs">10</text>
<text x="301.2" y="1198.4" font-size="9.2" font-weight="bold" text-anchor="start" fill="#111" stroke="#111" stroke-width="0.3" textLength="4.7" lengthAdjust="spacingAndGlyphs">2</text>
<text x="330.1" y="1204.3" font-size="14" font-weight="bold" text-anchor="end" fill="#111" stroke="#111" stroke-width="0.4" textLength="14.4" lengthAdjust="spacingAndGlyphs">10</text>
<text x="330.4" y="1198.4" font-size="9.2" font-weight="bold" text-anchor="start" fill="#111" stroke="#111" stroke-width="0.3" textLength="4.7" lengthAdjust="spacingAndGlyphs">3</text>
<text x="359.3" y="1204.3" font-size="14" font-weight="bold" text-anchor="end" fill="#111" stroke="#111" stroke-width="0.4" textLength="14.4" lengthAdjust="spacingAndGlyphs">10</text>
<text x="359.6" y="1198.4" font-size="9.2" font-weight="bold" text-anchor="start" fill="#111" stroke="#111" stroke-width="0.3" textLength="4.7" lengthAdjust="spacingAndGlyphs">4</text>
<text x="394.1" y="1203.4" font-size="14" font-weight="bold" text-anchor="end" fill="#111" stroke="#111" stroke-width="0.4" textLength="14.4" lengthAdjust="spacingAndGlyphs">10</text>
<text x="394.4" y="1197.5" font-size="9.2" font-weight="bold" text-anchor="start" fill="#111" stroke="#111" stroke-width="0.3" textLength="4.7" lengthAdjust="spacingAndGlyphs">0</text>
<text x="423.5" y="1203.4" font-size="14" font-weight="bold" text-anchor="end" fill="#111" stroke="#111" stroke-width="0.4" textLength="14.4" lengthAdjust="spacingAndGlyphs">10</text>
<text x="423.8" y="1197.5" font-size="9.2" font-weight="bold" text-anchor="start" fill="#111" stroke="#111" stroke-width="0.3" textLength="4.7" lengthAdjust="spacingAndGlyphs">1</text>
<text x="452.9" y="1203.4" font-size="14" font-weight="bold" text-anchor="end" fill="#111" stroke="#111" stroke-width="0.4" textLength="14.4" lengthAdjust="spacingAndGlyphs">10</text>
<text x="453.2" y="1197.5" font-size="9.2" font-weight="bold" text-anchor="start" fill="#111" stroke="#111" stroke-width="0.3" textLength="4.7" lengthAdjust="spacingAndGlyphs">2</text>
<text x="482.3" y="1203.4" font-size="14" font-weight="bold" text-anchor="end" fill="#111" stroke="#111" stroke-width="0.4" textLength="14.4" lengthAdjust="spacingAndGlyphs">10</text>
<text x="482.6" y="1197.5" font-size="9.2" font-weight="bold" text-anchor="start" fill="#111" stroke="#111" stroke-width="0.3" textLength="4.7" lengthAdjust="spacingAndGlyphs">3</text>
<text x="511.7" y="1203.4" font-size="14" font-weight="bold" text-anchor="end" fill="#111" stroke="#111" stroke-width="0.4" textLength="14.4" lengthAdjust="spacingAndGlyphs">10</text>
<text x="512" y="1197.5" font-size="9.2" font-weight="bold" text-anchor="start" fill="#111" stroke="#111" stroke-width="0.3" textLength="4.7" lengthAdjust="spacingAndGlyphs">4</text>
<path d="M49.6 1200.5V618.4" stroke="#0a0a0a" stroke-width="2.9" fill="none"/>
<path d="M49.6 603.8L42.1 621.5L49.6 618.9L57.1 621.5Z" fill="#0a0a0a"/>
<path d="M75 1219.9H495.2" stroke="#0a0a0a" stroke-width="2.8" fill="none"/>
<path d="M510.2 1219.9L492.7 1212.6L494.7 1219.9L492.7 1227.2Z" fill="#0a0a0a"/>
<text transform="translate(39.8,924.8) rotate(-90)" font-size="20.3" font-weight="bold" fill="#111" stroke="#111" stroke-width="0.6" textLength="68" lengthAdjust="spacingAndGlyphs"># Cells</text>
<text x="265.6" y="1242" font-size="20" font-weight="bold" text-anchor="start" fill="#111" textLength="66" lengthAdjust="spacingAndGlyphs" stroke="#111" stroke-width="0.6" stroke-linejoin="round">FCRL1</text>
</g>
</svg>
</body></html>
